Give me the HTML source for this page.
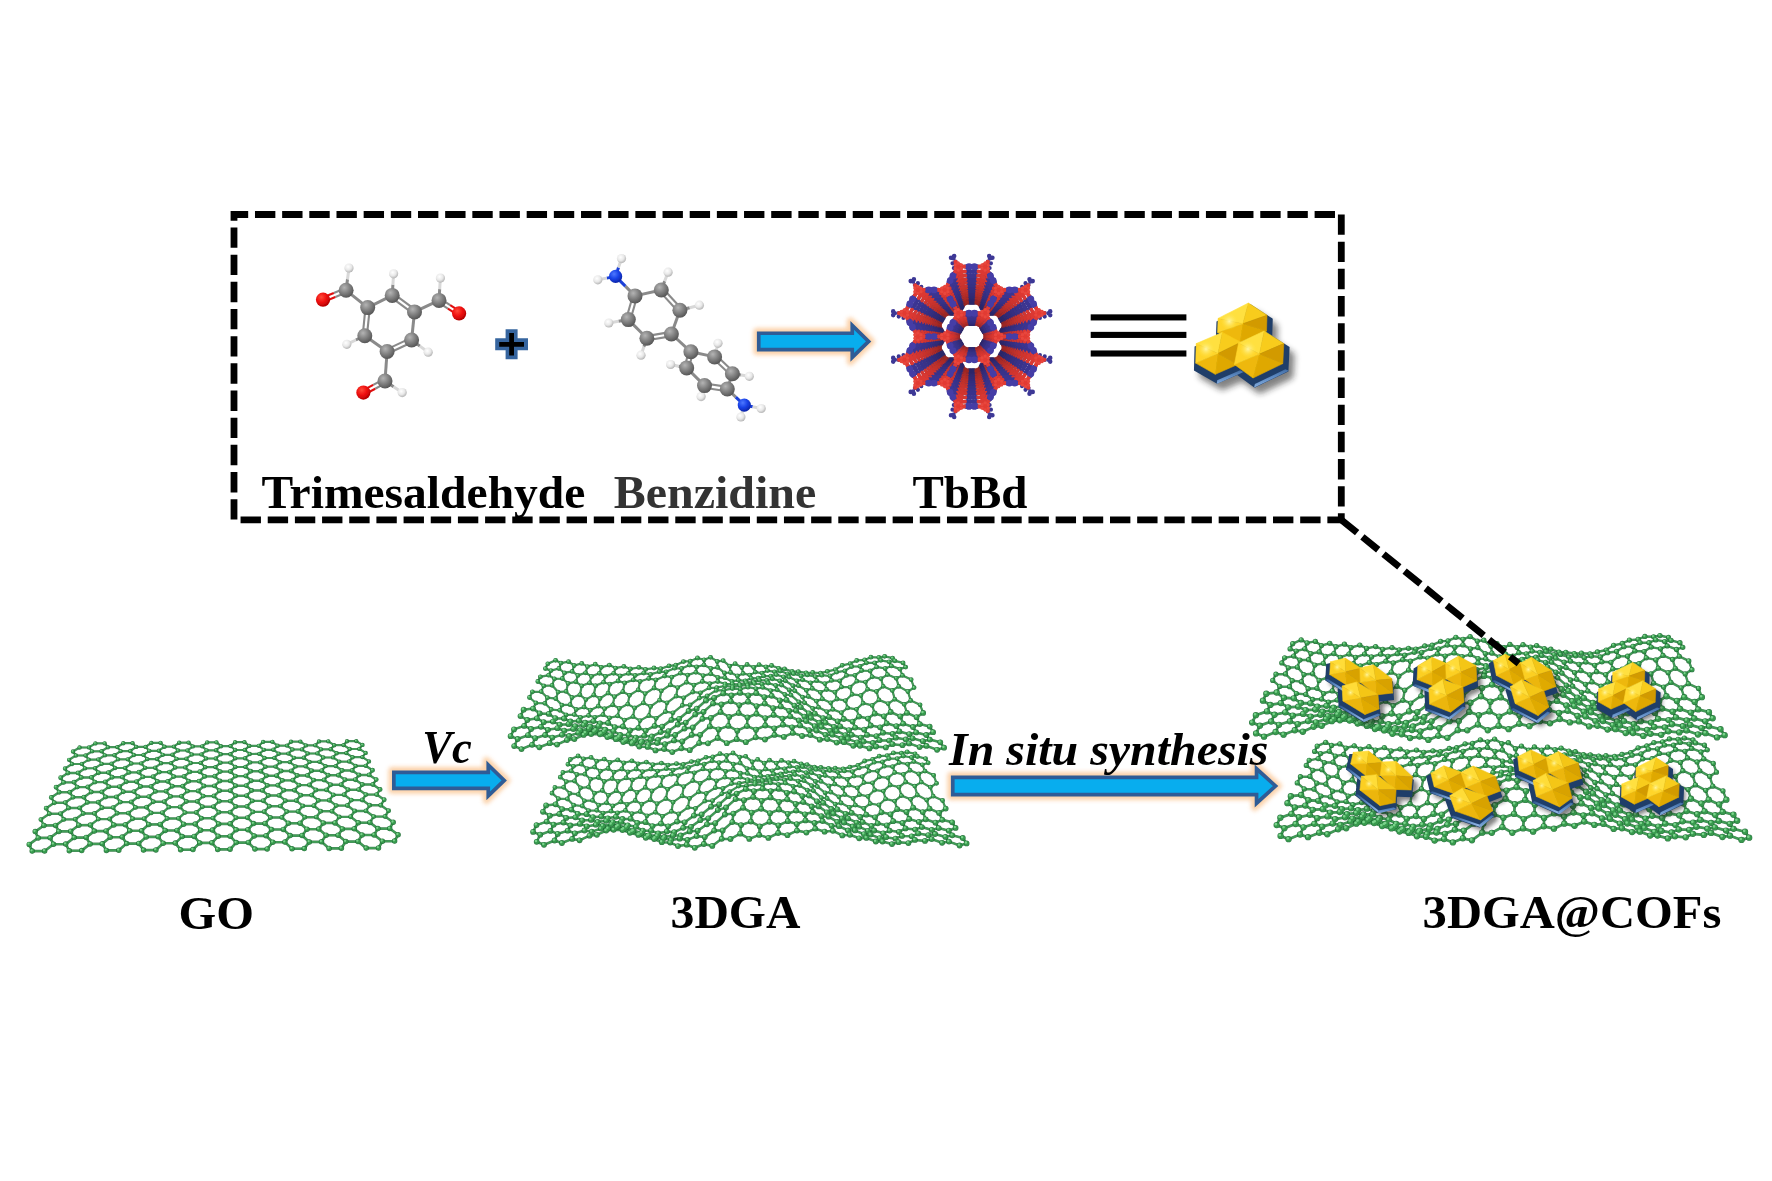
<!DOCTYPE html>
<html><head><meta charset="utf-8"><title>Scheme</title>
<style>html,body{margin:0;padding:0;background:#fff;overflow:hidden}svg{display:block}text{font-family:"Liberation Serif",serif}</style>
</head><body>
<svg width="1772" height="1181" viewBox="0 0 1772 1181">
<rect width="1772" height="1181" fill="#fff"/>
<defs>
<filter id="glow" x="-20%" y="-60%" width="140%" height="220%"><feGaussianBlur stdDeviation="2.2"/></filter>
<filter id="shadow" x="-30%" y="-30%" width="160%" height="160%"><feGaussianBlur stdDeviation="3"/></filter>
<filter id="shadow2" x="-30%" y="-30%" width="160%" height="160%"><feGaussianBlur stdDeviation="2.2"/></filter>
<filter id="soft" x="-5%" y="-5%" width="110%" height="110%"><feGaussianBlur stdDeviation="0.45"/></filter>
<filter id="soft2" x="-5%" y="-5%" width="110%" height="110%"><feGaussianBlur stdDeviation="0.6"/></filter>
<radialGradient id="gC" cx="0.38" cy="0.32" r="0.75"><stop offset="0" stop-color="#b4b4b4"/><stop offset="0.45" stop-color="#858585"/><stop offset="1" stop-color="#4e4e4e"/></radialGradient>
<radialGradient id="gO" cx="0.38" cy="0.32" r="0.75"><stop offset="0" stop-color="#ff4a3a"/><stop offset="0.5" stop-color="#ee0d0d"/><stop offset="1" stop-color="#a50000"/></radialGradient>
<radialGradient id="gN" cx="0.38" cy="0.32" r="0.75"><stop offset="0" stop-color="#4d78ff"/><stop offset="0.5" stop-color="#1841e6"/><stop offset="1" stop-color="#0a1f9c"/></radialGradient>
<radialGradient id="gH" cx="0.4" cy="0.35" r="0.75"><stop offset="0" stop-color="#ffffff"/><stop offset="0.5" stop-color="#e8e8e8"/><stop offset="1" stop-color="#a4a4a4"/></radialGradient>
</defs>
<path d="M756.90 331.40H850.40V321.10L871.30 341.40L850.40 361.70V351.40H756.90Z" fill="#fbcfa4" stroke="#fbcfa4" stroke-width="7" stroke-linejoin="round" filter="url(#glow)" opacity="0.95"/><path d="M758.75 333.25H852.25V325.48L868.64 341.40L852.25 357.32V349.55H758.75Z" fill="#08adee" stroke="#2f5c96" stroke-width="3.7" stroke-linejoin="miter"/><path d="M392.00 770.60H486.40V760.60L506.90 780.40L486.40 800.20V790.20H392.00Z" fill="#fbcfa4" stroke="#fbcfa4" stroke-width="7" stroke-linejoin="round" filter="url(#glow)" opacity="0.95"/><path d="M393.85 772.45H488.25V764.96L504.24 780.40L488.25 795.84V788.35H393.85Z" fill="#08adee" stroke="#2f5c96" stroke-width="3.7" stroke-linejoin="miter"/><path d="M950.90 775.50H1254.70V764.60L1278.30 786.00L1254.70 807.40V796.50H950.90Z" fill="#fbcfa4" stroke="#fbcfa4" stroke-width="7" stroke-linejoin="round" filter="url(#glow)" opacity="0.95"/><path d="M952.75 777.35H1256.55V768.77L1275.55 786.00L1256.55 803.23V794.65H952.75Z" fill="#08adee" stroke="#2f5c96" stroke-width="3.7" stroke-linejoin="miter"/>
<path d="M495.20000000000005 338.3H505.6V329.3H517.6V338.3H528.0V350.3H517.6V359.3H505.6V350.3H495.20000000000005Z" fill="#36659f"/><path d="M499.20000000000005 341.90000000000003H509.20000000000005V333.0H514.0V341.90000000000003H524.0V346.7H514.0V355.6H509.20000000000005V346.7H499.20000000000005Z" fill="#000"/><rect x="1090.7" y="314.35" width="95.7" height="6.1" fill="#000"/><rect x="1090.7" y="331.85" width="95.7" height="6.1" fill="#000"/><rect x="1090.7" y="350.45" width="95.7" height="6.1" fill="#000"/>
<defs>
<linearGradient id="gBase" x1="0" y1="0" x2="0" y2="1"><stop offset="0" stop-color="#1b3558"/><stop offset="0.7" stop-color="#234878"/><stop offset="1" stop-color="#3a68a4"/></linearGradient>
<radialGradient id="gHi" cx="0.5" cy="0.5" r="0.5"><stop offset="0" stop-color="#fff7a8" stop-opacity="0.95"/><stop offset="1" stop-color="#ffe23a" stop-opacity="0"/></radialGradient>
<linearGradient id="gStrip" x1="0" y1="0" x2="0.3" y2="1"><stop offset="0" stop-color="#2a5288"/><stop offset="0.55" stop-color="#5f8cc4"/><stop offset="1" stop-color="#8db4e2"/></linearGradient>
</defs>
<g transform="translate(7,12)" fill="#1a1a1a" stroke="#1a1a1a" stroke-width="7.4" stroke-linejoin="round" opacity="0.55" filter="url(#shadow)"><polygon points="1218.1,318.4 1248.4,303.0 1267.0,315.2 1266.5,331.0 1240.0,342.2 1217.6,332.4"/><polygon points="1196.2,343.6 1222.3,332.4 1240.9,342.2 1237.6,364.5 1215.3,374.3 1195.7,363.1"/><polygon points="1238.6,343.1 1264.2,331.0 1283.8,343.6 1282.8,363.6 1253.0,378.0 1234.4,364.5"/></g><g transform="translate(2.0,5.4)" fill="#1f3e69" stroke="#1f3e69" stroke-width="7.4" stroke-linejoin="miter"><polygon points="1218.1,318.4 1248.4,303.0 1267.0,315.2 1266.5,331.0 1240.0,342.2 1217.6,332.4"/><polygon points="1196.2,343.6 1222.3,332.4 1240.9,342.2 1237.6,364.5 1215.3,374.3 1195.7,363.1"/><polygon points="1238.6,343.1 1264.2,331.0 1283.8,343.6 1282.8,363.6 1253.0,378.0 1234.4,364.5"/></g><polygon points="1243.5,372.1 1216.7,384.1 1217.2,380.3 1240.1,370.2" fill="url(#gStrip)"/><polygon points="1288.9,370.7 1253.9,387.7 1254.9,384.0 1285.3,369.2" fill="url(#gStrip)"/><g filter="url(#soft2)"><polygon points="1218.1,318.4 1248.4,303.0 1242.9,323.7" fill="#ffe040" stroke="#ffe040" stroke-width="0.6"/><polygon points="1248.4,303.0 1267.0,315.2 1242.9,323.7" fill="#f8cc1c" stroke="#f8cc1c" stroke-width="0.6"/><polygon points="1267.0,315.2 1266.5,331.0 1242.9,323.7" fill="#d29a02" stroke="#d29a02" stroke-width="0.6"/><polygon points="1266.5,331.0 1240.0,342.2 1242.9,323.7" fill="#dfa803" stroke="#dfa803" stroke-width="0.6"/><polygon points="1240.0,342.2 1217.6,332.4 1242.9,323.7" fill="#eeb808" stroke="#eeb808" stroke-width="0.6"/><polygon points="1217.6,332.4 1218.1,318.4 1242.9,323.7" fill="#ffd52a" stroke="#ffd52a" stroke-width="0.6"/><circle cx="1229.3" cy="321.3" r="9" fill="url(#gHi)"/></g><g filter="url(#soft2)"><polygon points="1196.2,343.6 1222.3,332.4 1218.0,353.4" fill="#ffe040" stroke="#ffe040" stroke-width="0.6"/><polygon points="1222.3,332.4 1240.9,342.2 1218.0,353.4" fill="#f8cc1c" stroke="#f8cc1c" stroke-width="0.6"/><polygon points="1240.9,342.2 1237.6,364.5 1218.0,353.4" fill="#d29a02" stroke="#d29a02" stroke-width="0.6"/><polygon points="1237.6,364.5 1215.3,374.3 1218.0,353.4" fill="#dfa803" stroke="#dfa803" stroke-width="0.6"/><polygon points="1215.3,374.3 1195.7,363.1 1218.0,353.4" fill="#eeb808" stroke="#eeb808" stroke-width="0.6"/><polygon points="1195.7,363.1 1196.2,343.6 1218.0,353.4" fill="#ffd52a" stroke="#ffd52a" stroke-width="0.6"/><circle cx="1206.0" cy="349.0" r="9" fill="url(#gHi)"/></g><g filter="url(#soft2)"><polygon points="1238.6,343.1 1264.2,331.0 1259.5,354.0" fill="#ffe040" stroke="#ffe040" stroke-width="0.6"/><polygon points="1264.2,331.0 1283.8,343.6 1259.5,354.0" fill="#f8cc1c" stroke="#f8cc1c" stroke-width="0.6"/><polygon points="1283.8,343.6 1282.8,363.6 1259.5,354.0" fill="#d29a02" stroke="#d29a02" stroke-width="0.6"/><polygon points="1282.8,363.6 1253.0,378.0 1259.5,354.0" fill="#dfa803" stroke="#dfa803" stroke-width="0.6"/><polygon points="1253.0,378.0 1234.4,364.5 1259.5,354.0" fill="#eeb808" stroke="#eeb808" stroke-width="0.6"/><polygon points="1234.4,364.5 1238.6,343.1 1259.5,354.0" fill="#ffd52a" stroke="#ffd52a" stroke-width="0.6"/><circle cx="1248.0" cy="349.1" r="9" fill="url(#gHi)"/></g>
<g filter="url(#soft)"><line x1="390.9" y1="297.1" x2="413.2" y2="313.7" stroke="#8a8a8a" stroke-width="2.1"/><line x1="393.4" y1="293.6" x2="415.8" y2="310.2" stroke="#8a8a8a" stroke-width="2.1"/><line x1="414.5" y1="311.9" x2="411.6" y2="340.0" stroke="#8a8a8a" stroke-width="3.0"/><line x1="410.7" y1="338.1" x2="386.2" y2="349.6" stroke="#8a8a8a" stroke-width="2.1"/><line x1="412.5" y1="342.0" x2="388.0" y2="353.5" stroke="#8a8a8a" stroke-width="2.1"/><line x1="387.1" y1="351.5" x2="364.8" y2="335.7" stroke="#8a8a8a" stroke-width="3.0"/><line x1="366.9" y1="335.9" x2="369.8" y2="307.8" stroke="#8a8a8a" stroke-width="2.1"/><line x1="362.7" y1="335.5" x2="365.5" y2="307.4" stroke="#8a8a8a" stroke-width="2.1"/><line x1="367.7" y1="307.6" x2="392.2" y2="295.4" stroke="#8a8a8a" stroke-width="3.0"/><line x1="367.7" y1="307.6" x2="346.1" y2="290.3" stroke="#8a8a8a" stroke-width="3.0"/><line x1="414.5" y1="311.9" x2="439.0" y2="300.4" stroke="#8a8a8a" stroke-width="3.0"/><line x1="387.1" y1="351.5" x2="385.0" y2="381.0" stroke="#8a8a8a" stroke-width="3.0"/><line x1="345.3" y1="288.3" x2="333.8" y2="293.0" stroke="#8a8a8a" stroke-width="2.1"/><line x1="346.9" y1="292.3" x2="335.4" y2="297.0" stroke="#8a8a8a" stroke-width="2.1"/><line x1="333.8" y1="293.0" x2="322.2" y2="297.7" stroke="#e01010" stroke-width="2.1"/><line x1="335.4" y1="297.0" x2="323.9" y2="301.7" stroke="#e01010" stroke-width="2.1"/><line x1="437.8" y1="302.2" x2="447.9" y2="308.7" stroke="#8a8a8a" stroke-width="2.1"/><line x1="440.1" y1="298.6" x2="450.2" y2="305.1" stroke="#8a8a8a" stroke-width="2.1"/><line x1="447.9" y1="308.7" x2="458.0" y2="315.2" stroke="#e01010" stroke-width="2.1"/><line x1="450.2" y1="305.1" x2="460.3" y2="311.6" stroke="#e01010" stroke-width="2.1"/><line x1="384.0" y1="379.2" x2="373.2" y2="384.9" stroke="#8a8a8a" stroke-width="2.1"/><line x1="386.0" y1="382.9" x2="375.2" y2="388.7" stroke="#8a8a8a" stroke-width="2.1"/><line x1="373.2" y1="384.9" x2="362.4" y2="390.7" stroke="#e01010" stroke-width="2.1"/><line x1="375.2" y1="388.7" x2="364.4" y2="394.5" stroke="#e01010" stroke-width="2.1"/><line x1="346.1" y1="290.3" x2="347.5" y2="279.2" stroke="#8a8a8a" stroke-width="3.0"/><line x1="347.5" y1="279.2" x2="349.0" y2="268.0" stroke="#d8d8d8" stroke-width="3.0"/><line x1="439.0" y1="300.4" x2="439.7" y2="289.2" stroke="#8a8a8a" stroke-width="3.0"/><line x1="439.7" y1="289.2" x2="440.4" y2="278.1" stroke="#d8d8d8" stroke-width="3.0"/><line x1="385.0" y1="381.0" x2="393.6" y2="386.8" stroke="#8a8a8a" stroke-width="3.0"/><line x1="393.6" y1="386.8" x2="402.2" y2="392.6" stroke="#d8d8d8" stroke-width="3.0"/><line x1="392.2" y1="295.4" x2="392.9" y2="284.6" stroke="#8a8a8a" stroke-width="3.0"/><line x1="392.9" y1="284.6" x2="393.6" y2="273.8" stroke="#d8d8d8" stroke-width="3.0"/><line x1="411.6" y1="340.0" x2="419.9" y2="346.1" stroke="#8a8a8a" stroke-width="3.0"/><line x1="419.9" y1="346.1" x2="428.2" y2="352.2" stroke="#d8d8d8" stroke-width="3.0"/><line x1="364.8" y1="335.7" x2="355.8" y2="340.0" stroke="#8a8a8a" stroke-width="3.0"/><line x1="355.8" y1="340.0" x2="346.8" y2="344.3" stroke="#d8d8d8" stroke-width="3.0"/><circle cx="393.6" cy="273.8" r="4.6" fill="url(#gH)"/><circle cx="428.2" cy="352.2" r="4.6" fill="url(#gH)"/><circle cx="346.8" cy="344.3" r="4.6" fill="url(#gH)"/><circle cx="349.0" cy="268.0" r="4.6" fill="url(#gH)"/><circle cx="440.4" cy="278.1" r="4.6" fill="url(#gH)"/><circle cx="402.2" cy="392.6" r="4.6" fill="url(#gH)"/><circle cx="392.2" cy="295.4" r="7.5" fill="url(#gC)"/><circle cx="414.5" cy="311.9" r="7.5" fill="url(#gC)"/><circle cx="411.6" cy="340.0" r="7.5" fill="url(#gC)"/><circle cx="387.1" cy="351.5" r="7.5" fill="url(#gC)"/><circle cx="364.8" cy="335.7" r="7.5" fill="url(#gC)"/><circle cx="367.7" cy="307.6" r="7.5" fill="url(#gC)"/><circle cx="346.1" cy="290.3" r="7.5" fill="url(#gC)"/><circle cx="439.0" cy="300.4" r="7.5" fill="url(#gC)"/><circle cx="385.0" cy="381.0" r="7.5" fill="url(#gC)"/><circle cx="323.0" cy="299.7" r="7.1" fill="url(#gO)"/><circle cx="459.1" cy="313.4" r="7.1" fill="url(#gO)"/><circle cx="363.4" cy="392.6" r="7.1" fill="url(#gO)"/></g>
<g filter="url(#soft)"><line x1="635.0" y1="295.9" x2="661.3" y2="290.0" stroke="#8a8a8a" stroke-width="3.0"/><line x1="659.7" y1="291.4" x2="678.3" y2="311.7" stroke="#8a8a8a" stroke-width="2.1"/><line x1="662.9" y1="288.5" x2="681.5" y2="308.8" stroke="#8a8a8a" stroke-width="2.1"/><line x1="679.9" y1="310.3" x2="671.4" y2="334.0" stroke="#8a8a8a" stroke-width="3.0"/><line x1="671.1" y1="331.9" x2="646.5" y2="336.1" stroke="#8a8a8a" stroke-width="2.1"/><line x1="671.8" y1="336.1" x2="647.3" y2="340.3" stroke="#8a8a8a" stroke-width="2.1"/><line x1="646.9" y1="338.2" x2="628.3" y2="319.6" stroke="#8a8a8a" stroke-width="3.0"/><line x1="630.3" y1="320.2" x2="637.1" y2="296.5" stroke="#8a8a8a" stroke-width="2.1"/><line x1="626.2" y1="319.0" x2="633.0" y2="295.3" stroke="#8a8a8a" stroke-width="2.1"/><line x1="671.4" y1="334.0" x2="690.9" y2="351.8" stroke="#8a8a8a" stroke-width="3.0"/><line x1="690.9" y1="351.8" x2="714.6" y2="356.9" stroke="#8a8a8a" stroke-width="3.0"/><line x1="713.1" y1="358.4" x2="730.9" y2="375.3" stroke="#8a8a8a" stroke-width="2.1"/><line x1="716.1" y1="355.3" x2="733.9" y2="372.2" stroke="#8a8a8a" stroke-width="2.1"/><line x1="732.4" y1="373.8" x2="727.3" y2="389.0" stroke="#8a8a8a" stroke-width="3.0"/><line x1="727.6" y1="386.9" x2="704.8" y2="383.5" stroke="#8a8a8a" stroke-width="2.1"/><line x1="727.0" y1="391.2" x2="704.2" y2="387.8" stroke="#8a8a8a" stroke-width="2.1"/><line x1="704.5" y1="385.6" x2="686.7" y2="367.9" stroke="#8a8a8a" stroke-width="3.0"/><line x1="688.8" y1="368.4" x2="693.0" y2="352.3" stroke="#8a8a8a" stroke-width="2.1"/><line x1="684.6" y1="367.3" x2="688.8" y2="351.2" stroke="#8a8a8a" stroke-width="2.1"/><line x1="635.0" y1="295.9" x2="625.3" y2="286.1" stroke="#8a8a8a" stroke-width="3.0"/><line x1="625.3" y1="286.1" x2="615.6" y2="276.4" stroke="#1a3fd8" stroke-width="3.0"/><line x1="727.3" y1="389.0" x2="735.8" y2="397.1" stroke="#8a8a8a" stroke-width="3.0"/><line x1="735.8" y1="397.1" x2="744.3" y2="405.1" stroke="#1a3fd8" stroke-width="3.0"/><line x1="615.6" y1="276.4" x2="618.5" y2="267.5" stroke="#1a3fd8" stroke-width="3.0"/><line x1="618.5" y1="267.5" x2="621.5" y2="258.6" stroke="#d8d8d8" stroke-width="3.0"/><line x1="615.6" y1="276.4" x2="606.7" y2="278.1" stroke="#1a3fd8" stroke-width="3.0"/><line x1="606.7" y1="278.1" x2="597.8" y2="279.8" stroke="#d8d8d8" stroke-width="3.0"/><line x1="744.3" y1="405.1" x2="752.7" y2="406.8" stroke="#1a3fd8" stroke-width="3.0"/><line x1="752.7" y1="406.8" x2="761.2" y2="408.5" stroke="#d8d8d8" stroke-width="3.0"/><line x1="744.3" y1="405.1" x2="742.6" y2="411.0" stroke="#1a3fd8" stroke-width="3.0"/><line x1="742.6" y1="411.0" x2="740.9" y2="417.0" stroke="#d8d8d8" stroke-width="3.0"/><line x1="661.3" y1="290.0" x2="664.7" y2="281.1" stroke="#8a8a8a" stroke-width="3.0"/><line x1="664.7" y1="281.1" x2="668.1" y2="272.2" stroke="#d8d8d8" stroke-width="3.0"/><line x1="679.9" y1="310.3" x2="689.7" y2="307.7" stroke="#8a8a8a" stroke-width="3.0"/><line x1="689.7" y1="307.7" x2="699.4" y2="305.2" stroke="#d8d8d8" stroke-width="3.0"/><line x1="646.9" y1="338.2" x2="643.9" y2="346.7" stroke="#8a8a8a" stroke-width="3.0"/><line x1="643.9" y1="346.7" x2="641.0" y2="355.2" stroke="#d8d8d8" stroke-width="3.0"/><line x1="628.3" y1="319.6" x2="618.5" y2="321.3" stroke="#8a8a8a" stroke-width="3.0"/><line x1="618.5" y1="321.3" x2="608.8" y2="323.0" stroke="#d8d8d8" stroke-width="3.0"/><line x1="714.6" y1="356.9" x2="716.3" y2="350.1" stroke="#8a8a8a" stroke-width="3.0"/><line x1="716.3" y1="350.1" x2="718.0" y2="343.3" stroke="#d8d8d8" stroke-width="3.0"/><line x1="732.4" y1="373.8" x2="740.9" y2="375.1" stroke="#8a8a8a" stroke-width="3.0"/><line x1="740.9" y1="375.1" x2="749.3" y2="376.3" stroke="#d8d8d8" stroke-width="3.0"/><line x1="704.5" y1="385.6" x2="702.8" y2="391.1" stroke="#8a8a8a" stroke-width="3.0"/><line x1="702.8" y1="391.1" x2="701.1" y2="396.6" stroke="#d8d8d8" stroke-width="3.0"/><line x1="686.7" y1="367.9" x2="678.6" y2="366.2" stroke="#8a8a8a" stroke-width="3.0"/><line x1="678.6" y1="366.2" x2="670.6" y2="364.5" stroke="#d8d8d8" stroke-width="3.0"/><circle cx="621.5" cy="258.6" r="4.6" fill="url(#gH)"/><circle cx="597.8" cy="279.8" r="4.6" fill="url(#gH)"/><circle cx="668.1" cy="272.2" r="4.6" fill="url(#gH)"/><circle cx="699.4" cy="305.2" r="4.6" fill="url(#gH)"/><circle cx="641.0" cy="355.2" r="4.6" fill="url(#gH)"/><circle cx="608.8" cy="323.0" r="4.6" fill="url(#gH)"/><circle cx="761.2" cy="408.5" r="4.6" fill="url(#gH)"/><circle cx="740.9" cy="417.0" r="4.6" fill="url(#gH)"/><circle cx="718.0" cy="343.3" r="4.6" fill="url(#gH)"/><circle cx="749.3" cy="376.3" r="4.6" fill="url(#gH)"/><circle cx="701.1" cy="396.6" r="4.6" fill="url(#gH)"/><circle cx="670.6" cy="364.5" r="4.6" fill="url(#gH)"/><circle cx="635.0" cy="295.9" r="7.5" fill="url(#gC)"/><circle cx="661.3" cy="290.0" r="7.5" fill="url(#gC)"/><circle cx="679.9" cy="310.3" r="7.5" fill="url(#gC)"/><circle cx="671.4" cy="334.0" r="7.5" fill="url(#gC)"/><circle cx="646.9" cy="338.2" r="7.5" fill="url(#gC)"/><circle cx="628.3" cy="319.6" r="7.5" fill="url(#gC)"/><circle cx="690.9" cy="351.8" r="7.5" fill="url(#gC)"/><circle cx="714.6" cy="356.9" r="7.5" fill="url(#gC)"/><circle cx="732.4" cy="373.8" r="7.5" fill="url(#gC)"/><circle cx="727.3" cy="389.0" r="7.5" fill="url(#gC)"/><circle cx="704.5" cy="385.6" r="7.5" fill="url(#gC)"/><circle cx="686.7" cy="367.9" r="7.5" fill="url(#gC)"/><circle cx="615.6" cy="276.4" r="6.6" fill="url(#gN)"/><circle cx="744.3" cy="405.1" r="6.6" fill="url(#gN)"/></g>
<g filter="url(#soft2)">
<path d="M946.4 336.5L959.0 336.5M965.4 303.6L978.0 303.6M997.0 314.6L1003.3 325.5M984.4 314.6L997.0 314.6M959.0 314.6L965.4 303.6M984.4 336.5L997.0 336.5M959.0 358.4L965.4 369.4M946.4 314.6L959.0 314.6M997.0 336.5L1003.3 325.5M946.4 358.4L959.0 358.4M940.1 325.5L946.4 336.5M978.0 347.5L984.4 358.4M940.1 347.5L946.4 358.4M978.0 303.6L984.4 314.6M997.0 358.4L1003.3 347.5M959.0 314.6L965.4 325.5M978.0 369.4L984.4 358.4M978.0 325.5L984.4 314.6M997.0 336.5L1003.3 347.5M984.4 358.4L997.0 358.4M959.0 358.4L965.4 347.5M940.1 325.5L946.4 314.6M940.1 347.5L946.4 336.5M965.4 369.4L978.0 369.4" stroke="#3e214e" stroke-width="1.65" stroke-linecap="round" fill="none"/>
<path d="M950.6 336.5h0M952.0 336.5h0M953.5 336.5h0M954.9 336.5h0M969.5 303.6h0M970.9 303.6h0M972.5 303.6h0M973.9 303.6h0M999.1 318.2h0M999.8 319.4h0M1000.6 320.7h0M1001.3 321.9h0M988.5 314.6h0M989.9 314.6h0M991.4 314.6h0M992.8 314.6h0M961.1 311.0h0M961.8 309.8h0M962.6 308.4h0M963.3 307.2h0M988.5 336.5h0M989.9 336.5h0M991.4 336.5h0M992.8 336.5h0M961.1 362.0h0M961.8 363.2h0M962.6 364.6h0M963.3 365.8h0M950.6 314.6h0M952.0 314.6h0M953.5 314.6h0M954.9 314.6h0M999.1 332.9h0M999.8 331.7h0M1000.6 330.4h0M1001.3 329.2h0M950.6 358.4h0M952.0 358.4h0M953.5 358.4h0M954.9 358.4h0M942.1 329.2h0M942.8 330.4h0M943.6 331.7h0M944.3 332.9h0M980.1 351.1h0M980.8 352.3h0M981.6 353.6h0M982.3 354.8h0M942.1 351.1h0M942.8 352.3h0M943.6 353.6h0M944.3 354.8h0M980.1 307.2h0M980.8 308.4h0M981.6 309.8h0M982.3 311.0h0M999.1 354.8h0M999.8 353.6h0M1000.6 352.3h0M1001.3 351.1h0M961.1 318.2h0M961.8 319.4h0M962.6 320.7h0M963.3 321.9h0M980.1 365.8h0M980.8 364.6h0M981.6 363.2h0M982.3 362.0h0M980.1 321.9h0M980.8 320.7h0M981.6 319.4h0M982.3 318.2h0M999.1 340.1h0M999.8 341.3h0M1000.6 342.6h0M1001.3 343.8h0M988.5 358.4h0M989.9 358.4h0M991.4 358.4h0M992.8 358.4h0M961.1 354.8h0M961.8 353.6h0M962.6 352.3h0M963.3 351.1h0M942.1 321.9h0M942.8 320.7h0M943.6 319.4h0M944.3 318.2h0M942.1 343.8h0M942.8 342.6h0M943.6 341.3h0M944.3 340.1h0M969.5 369.4h0M970.9 369.4h0M972.5 369.4h0M973.9 369.4h0" stroke="#2a2669" stroke-width="2.53" stroke-linecap="round" fill="none"/>
<path d="M1007.9 325.5h0M1008.6 326.4h0M1008.6 324.7h0M999.3 310.6h0M1000.4 310.4h0M998.9 309.6h0M980.3 299.7h0M981.4 299.5h0M979.9 298.6h0M963.1 299.7h0M963.5 298.6h0M962.0 299.5h0M944.1 310.6h0M944.5 309.6h0M943.0 310.4h0M935.5 325.5h0M934.8 324.7h0M934.8 326.4h0M935.5 347.5h0M934.8 346.6h0M934.8 348.3h0M944.1 362.4h0M943.0 362.6h0M944.5 363.4h0M963.1 373.3h0M962.0 373.5h0M963.5 374.4h0M980.3 373.3h0M979.9 374.4h0M981.4 373.5h0M1007.9 347.5h0M1008.6 348.3h0M1008.6 346.6h0M999.3 362.4h0M998.9 363.4h0M1000.4 362.6h0" stroke="#2a2669" stroke-width="2.15" stroke-linecap="round" fill="none"/>
<path d="M948.0 336.5h0M949.3 336.5h0M956.1 336.5h0M957.4 336.5h0M967.0 303.6h0M968.3 303.6h0M975.1 303.6h0M976.4 303.6h0M997.8 316.0h0M998.5 317.1h0M1001.9 323.0h0M1002.5 324.1h0M986.0 314.6h0M987.3 314.6h0M994.1 314.6h0M995.4 314.6h0M959.9 313.1h0M960.5 312.1h0M963.9 306.1h0M964.5 305.0h0M986.0 336.5h0M987.3 336.5h0M994.1 336.5h0M995.4 336.5h0M959.9 359.9h0M960.5 360.9h0M963.9 366.9h0M964.5 368.0h0M948.0 314.6h0M949.3 314.6h0M956.1 314.6h0M957.4 314.6h0M997.8 335.1h0M998.5 334.0h0M1001.9 328.1h0M1002.5 327.0h0M948.0 358.4h0M949.3 358.4h0M956.1 358.4h0M957.4 358.4h0M940.9 327.0h0M941.5 328.1h0M944.9 334.0h0M945.6 335.1h0M978.9 348.9h0M979.5 350.0h0M982.9 355.9h0M983.5 357.0h0M940.9 348.9h0M941.5 350.0h0M944.9 355.9h0M945.6 357.0h0M978.9 305.0h0M979.5 306.1h0M982.9 312.1h0M983.5 313.1h0M997.8 357.0h0M998.5 355.9h0M1001.9 350.0h0M1002.5 348.9h0M959.9 316.0h0M960.5 317.1h0M963.9 323.0h0M964.5 324.1h0M978.9 368.0h0M979.5 366.9h0M982.9 360.9h0M983.5 359.9h0M978.9 324.1h0M979.5 323.0h0M982.9 317.1h0M983.5 316.0h0M997.8 337.9h0M998.5 339.0h0M1001.9 344.9h0M1002.5 346.0h0M986.0 358.4h0M987.3 358.4h0M994.1 358.4h0M995.4 358.4h0M959.9 357.0h0M960.5 355.9h0M963.9 350.0h0M964.5 348.9h0M940.9 324.1h0M941.5 323.0h0M944.9 317.1h0M945.6 316.0h0M940.9 346.0h0M941.5 344.9h0M944.9 339.0h0M945.6 337.9h0M967.0 369.4h0M968.3 369.4h0M975.1 369.4h0M976.4 369.4h0M1005.9 325.5h0M998.3 312.4h0M979.3 301.4h0M964.1 301.4h0M945.1 312.4h0M937.5 325.5h0M937.5 347.5h0M945.1 360.6h0M964.1 371.6h0M979.3 371.6h0M1005.9 347.5h0M998.3 360.6h0" stroke="#9e2823" stroke-width="2.03" stroke-linecap="round" fill="none"/>
<path d="M1003.3 325.5h0M997.0 314.6h0M984.4 314.6h0M997.0 336.5h0M978.0 303.6h0M965.4 303.6h0M959.0 314.6h0M946.4 314.6h0M940.1 325.5h0M946.4 336.5h0M940.1 347.5h0M946.4 358.4h0M959.0 358.4h0M984.4 358.4h0M965.4 369.4h0M978.0 369.4h0M1003.3 347.5h0M997.0 358.4h0" stroke="#9e2823" stroke-width="3.80" stroke-linecap="round" fill="none"/>
<path d="M945.5 336.5L958.6 336.5M965.1 302.4L978.3 302.4M997.9 313.8L1004.5 325.1M984.8 313.8L997.9 313.8M958.6 313.8L965.1 302.4M984.8 336.5L997.9 336.5M958.6 359.2L965.1 370.6M945.5 313.8L958.6 313.8M997.9 336.5L1004.5 325.1M945.5 359.2L958.6 359.2M938.9 325.1L945.5 336.5M978.3 347.9L984.8 359.2M938.9 347.9L945.5 359.2M978.3 302.4L984.8 313.8M997.9 359.2L1004.5 347.9M958.6 313.8L965.1 325.1M978.3 370.6L984.8 359.2M978.3 325.1L984.8 313.8M997.9 336.5L1004.5 347.9M984.8 359.2L997.9 359.2M958.6 359.2L965.1 347.9M938.9 325.1L945.5 313.8M938.9 347.9L945.5 336.5M965.1 370.6L978.3 370.6" stroke="#3e214e" stroke-width="1.71" stroke-linecap="round" fill="none"/>
<path d="M949.8 336.5h0M951.2 336.5h0M952.8 336.5h0M954.2 336.5h0M969.5 302.4h0M970.9 302.4h0M972.5 302.4h0M973.9 302.4h0M1000.1 317.5h0M1000.8 318.8h0M1001.6 320.1h0M1002.3 321.4h0M989.2 313.8h0M990.6 313.8h0M992.2 313.8h0M993.6 313.8h0M960.7 310.0h0M961.5 308.8h0M962.3 307.4h0M963.0 306.2h0M989.2 336.5h0M990.6 336.5h0M992.2 336.5h0M993.6 336.5h0M960.7 363.0h0M961.5 364.2h0M962.3 365.6h0M963.0 366.8h0M949.8 313.8h0M951.2 313.8h0M952.8 313.8h0M954.2 313.8h0M1000.1 332.8h0M1000.8 331.5h0M1001.6 330.1h0M1002.3 328.9h0M949.8 359.2h0M951.2 359.2h0M952.8 359.2h0M954.2 359.2h0M941.1 328.9h0M941.8 330.1h0M942.6 331.5h0M943.3 332.8h0M980.4 351.6h0M981.1 352.9h0M981.9 354.2h0M982.7 355.5h0M941.1 351.6h0M941.8 352.9h0M942.6 354.2h0M943.3 355.5h0M980.4 306.2h0M981.1 307.4h0M981.9 308.8h0M982.7 310.0h0M1000.1 355.5h0M1000.8 354.2h0M1001.6 352.9h0M1002.3 351.6h0M960.7 317.5h0M961.5 318.8h0M962.3 320.1h0M963.0 321.4h0M980.4 366.8h0M981.1 365.6h0M981.9 364.2h0M982.7 363.0h0M980.4 321.4h0M981.1 320.1h0M981.9 318.8h0M982.7 317.5h0M1000.1 340.2h0M1000.8 341.5h0M1001.6 342.9h0M1002.3 344.1h0M989.2 359.2h0M990.6 359.2h0M992.2 359.2h0M993.6 359.2h0M960.7 355.5h0M961.5 354.2h0M962.3 352.9h0M963.0 351.6h0M941.1 321.4h0M941.8 320.1h0M942.6 318.8h0M943.3 317.5h0M941.1 344.1h0M941.8 342.9h0M942.6 341.5h0M943.3 340.2h0M969.5 370.6h0M970.9 370.6h0M972.5 370.6h0M973.9 370.6h0" stroke="#2a2669" stroke-width="2.62" stroke-linecap="round" fill="none"/>
<path d="M1009.2 325.1h0M1010.0 326.0h0M1010.0 324.2h0M1000.3 309.7h0M1001.5 309.5h0M999.9 308.6h0M980.6 298.3h0M981.8 298.1h0M980.2 297.2h0M962.8 298.3h0M963.2 297.2h0M961.6 298.1h0M943.1 309.7h0M943.5 308.6h0M941.9 309.5h0M934.2 325.1h0M933.4 324.2h0M933.4 326.0h0M934.2 347.9h0M933.4 347.0h0M933.4 348.8h0M943.1 363.3h0M941.9 363.5h0M943.5 364.4h0M962.8 374.7h0M961.6 374.9h0M963.2 375.8h0M980.6 374.7h0M980.2 375.8h0M981.8 374.9h0M1009.2 347.9h0M1010.0 348.8h0M1010.0 347.0h0M1000.3 363.3h0M999.9 364.4h0M1001.5 363.5h0" stroke="#2a2669" stroke-width="2.23" stroke-linecap="round" fill="none"/>
<path d="M947.2 336.5h0M948.5 336.5h0M955.6 336.5h0M956.9 336.5h0M966.8 302.4h0M968.2 302.4h0M975.2 302.4h0M976.6 302.4h0M998.8 315.3h0M999.5 316.4h0M1003.0 322.5h0M1003.7 323.7h0M986.5 313.8h0M987.8 313.8h0M994.9 313.8h0M996.2 313.8h0M959.4 312.3h0M960.1 311.2h0M963.6 305.0h0M964.3 303.9h0M986.5 336.5h0M987.8 336.5h0M994.9 336.5h0M996.2 336.5h0M959.4 360.7h0M960.1 361.8h0M963.6 368.0h0M964.3 369.1h0M947.2 313.8h0M948.5 313.8h0M955.6 313.8h0M956.9 313.8h0M998.8 335.0h0M999.5 333.9h0M1003.0 327.8h0M1003.7 326.6h0M947.2 359.2h0M948.5 359.2h0M955.6 359.2h0M956.9 359.2h0M939.7 326.6h0M940.4 327.8h0M943.9 333.9h0M944.6 335.0h0M979.1 349.3h0M979.8 350.5h0M983.3 356.6h0M984.0 357.7h0M939.7 349.3h0M940.4 350.5h0M943.9 356.6h0M944.6 357.7h0M979.1 303.9h0M979.8 305.0h0M983.3 311.2h0M984.0 312.3h0M998.8 357.7h0M999.5 356.6h0M1003.0 350.5h0M1003.7 349.3h0M959.4 315.3h0M960.1 316.4h0M963.6 322.5h0M964.3 323.7h0M979.1 369.1h0M979.8 368.0h0M983.3 361.8h0M984.0 360.7h0M979.1 323.7h0M979.8 322.5h0M983.3 316.4h0M984.0 315.3h0M998.8 338.0h0M999.5 339.1h0M1003.0 345.2h0M1003.7 346.4h0M986.5 359.2h0M987.8 359.2h0M994.9 359.2h0M996.2 359.2h0M959.4 357.7h0M960.1 356.6h0M963.6 350.5h0M964.3 349.3h0M939.7 323.7h0M940.4 322.5h0M943.9 316.4h0M944.6 315.3h0M939.7 346.4h0M940.4 345.2h0M943.9 339.1h0M944.6 338.0h0M966.8 370.6h0M968.2 370.6h0M975.2 370.6h0M976.6 370.6h0M1007.1 325.1h0M999.3 311.5h0M979.6 300.1h0M963.8 300.1h0M944.1 311.5h0M936.3 325.1h0M936.3 347.9h0M944.1 361.5h0M963.8 372.9h0M979.6 372.9h0M1007.1 347.9h0M999.3 361.5h0" stroke="#9e2823" stroke-width="2.10" stroke-linecap="round" fill="none"/>
<path d="M1004.5 325.1h0M997.9 313.8h0M984.8 313.8h0M997.9 336.5h0M978.3 302.4h0M965.1 302.4h0M958.6 313.8h0M945.5 313.8h0M938.9 325.1h0M945.5 336.5h0M938.9 347.9h0M945.5 359.2h0M958.6 359.2h0M984.8 359.2h0M965.1 370.6h0M978.3 370.6h0M1004.5 347.9h0M997.9 359.2h0" stroke="#9e2823" stroke-width="3.94" stroke-linecap="round" fill="none"/>
<path d="M958.1 336.5L964.9 348.3M944.5 336.5L958.1 336.5M964.9 301.1L978.5 301.1M998.9 312.9L1005.8 324.7M985.3 312.9L998.9 312.9M958.1 312.9L964.9 301.1M985.3 336.5L998.9 336.5M958.1 360.1L964.9 371.9M944.5 312.9L958.1 312.9M964.9 348.3L978.5 348.3M998.9 336.5L1005.8 324.7M978.5 324.7L985.3 336.5M964.9 324.7L978.5 324.7M944.5 360.1L958.1 360.1M958.1 336.5L964.9 324.7M937.6 324.7L944.5 336.5M978.5 348.3L985.3 360.1M937.6 348.3L944.5 360.1M978.5 301.1L985.3 312.9M998.9 360.1L1005.8 348.3M958.1 312.9L964.9 324.7M978.5 371.9L985.3 360.1M978.5 324.7L985.3 312.9M998.9 336.5L1005.8 348.3M985.3 360.1L998.9 360.1M958.1 360.1L964.9 348.3M978.5 348.3L985.3 336.5M937.6 324.7L944.5 312.9M937.6 348.3L944.5 336.5M964.9 371.9L978.5 371.9" stroke="#3e214e" stroke-width="1.77" stroke-linecap="round" fill="none"/>
<path d="M960.3 340.4h0M961.1 341.7h0M961.9 343.1h0M962.6 344.4h0M949.0 336.5h0M950.5 336.5h0M952.1 336.5h0M953.6 336.5h0M969.4 301.1h0M970.9 301.1h0M972.5 301.1h0M974.0 301.1h0M1001.2 316.8h0M1001.9 318.1h0M1002.8 319.5h0M1003.5 320.8h0M989.8 312.9h0M991.3 312.9h0M992.9 312.9h0M994.4 312.9h0M960.3 309.0h0M961.1 307.7h0M961.9 306.3h0M962.6 305.0h0M989.8 336.5h0M991.3 336.5h0M992.9 336.5h0M994.4 336.5h0M960.3 364.0h0M961.1 365.3h0M961.9 366.7h0M962.6 368.0h0M949.0 312.9h0M950.5 312.9h0M952.1 312.9h0M953.6 312.9h0M969.4 348.3h0M970.9 348.3h0M972.5 348.3h0M974.0 348.3h0M1001.2 332.6h0M1001.9 331.3h0M1002.8 329.9h0M1003.5 328.6h0M980.8 328.6h0M981.5 329.9h0M982.3 331.3h0M983.1 332.6h0M969.4 324.7h0M970.9 324.7h0M972.5 324.7h0M974.0 324.7h0M949.0 360.1h0M950.5 360.1h0M952.1 360.1h0M953.6 360.1h0M960.3 332.6h0M961.1 331.3h0M961.9 329.9h0M962.6 328.6h0M939.9 328.6h0M940.6 329.9h0M941.5 331.3h0M942.2 332.6h0M980.8 352.2h0M981.5 353.5h0M982.3 354.9h0M983.1 356.2h0M939.9 352.2h0M940.6 353.5h0M941.5 354.9h0M942.2 356.2h0M980.8 305.0h0M981.5 306.3h0M982.3 307.7h0M983.1 309.0h0M1001.2 356.2h0M1001.9 354.9h0M1002.8 353.5h0M1003.5 352.2h0M960.3 316.8h0M961.1 318.1h0M961.9 319.5h0M962.6 320.8h0M980.8 368.0h0M981.5 366.7h0M982.3 365.3h0M983.1 364.0h0M980.8 320.8h0M981.5 319.5h0M982.3 318.1h0M983.1 316.8h0M1001.2 340.4h0M1001.9 341.7h0M1002.8 343.1h0M1003.5 344.4h0M989.8 360.1h0M991.3 360.1h0M992.9 360.1h0M994.4 360.1h0M960.3 356.2h0M961.1 354.9h0M961.9 353.5h0M962.6 352.2h0M980.8 344.4h0M981.5 343.1h0M982.3 341.7h0M983.1 340.4h0M939.9 320.8h0M940.6 319.5h0M941.5 318.1h0M942.2 316.8h0M939.9 344.4h0M940.6 343.1h0M941.5 341.7h0M942.2 340.4h0M969.4 371.9h0M970.9 371.9h0M972.5 371.9h0M974.0 371.9h0" stroke="#2a2669" stroke-width="2.72" stroke-linecap="round" fill="none"/>
<path d="M1010.7 324.7h0M1011.4 325.6h0M1011.4 323.8h0M1001.4 308.7h0M1002.6 308.5h0M1001.0 307.5h0M981.0 296.9h0M982.2 296.7h0M980.5 295.7h0M962.4 296.9h0M962.9 295.7h0M961.2 296.7h0M942.0 308.7h0M942.4 307.5h0M940.8 308.5h0M932.7 324.7h0M932.0 323.8h0M932.0 325.6h0M932.7 348.3h0M932.0 347.4h0M932.0 349.2h0M942.0 364.3h0M940.8 364.5h0M942.4 365.5h0M962.4 376.1h0M961.2 376.3h0M962.9 377.3h0M981.0 376.1h0M980.5 377.3h0M982.2 376.3h0M1010.7 348.3h0M1011.4 349.2h0M1011.4 347.4h0M1001.4 364.3h0M1001.0 365.5h0M1002.6 364.5h0" stroke="#2a2669" stroke-width="2.32" stroke-linecap="round" fill="none"/>
<path d="M959.0 338.0h0M959.6 339.2h0M963.3 345.6h0M964.0 346.8h0M946.2 336.5h0M947.6 336.5h0M954.9 336.5h0M956.3 336.5h0M966.7 301.1h0M968.0 301.1h0M975.4 301.1h0M976.7 301.1h0M999.8 314.4h0M1000.5 315.6h0M1004.2 322.0h0M1004.9 323.2h0M987.1 312.9h0M988.5 312.9h0M995.8 312.9h0M997.2 312.9h0M959.0 311.4h0M959.6 310.2h0M963.3 303.8h0M964.0 302.6h0M987.1 336.5h0M988.5 336.5h0M995.8 336.5h0M997.2 336.5h0M959.0 361.6h0M959.6 362.8h0M963.3 369.2h0M964.0 370.4h0M946.2 312.9h0M947.6 312.9h0M954.9 312.9h0M956.3 312.9h0M966.7 348.3h0M968.0 348.3h0M975.4 348.3h0M976.7 348.3h0M999.8 335.0h0M1000.5 333.8h0M1004.2 327.4h0M1004.9 326.2h0M979.4 326.2h0M980.1 327.4h0M983.8 333.8h0M984.4 335.0h0M966.7 324.7h0M968.0 324.7h0M975.4 324.7h0M976.7 324.7h0M946.2 360.1h0M947.6 360.1h0M954.9 360.1h0M956.3 360.1h0M959.0 335.0h0M959.6 333.8h0M963.3 327.4h0M964.0 326.2h0M938.5 326.2h0M939.2 327.4h0M942.9 333.8h0M943.6 335.0h0M979.4 349.8h0M980.1 351.0h0M983.8 357.4h0M984.4 358.6h0M938.5 349.8h0M939.2 351.0h0M942.9 357.4h0M943.6 358.6h0M979.4 302.6h0M980.1 303.8h0M983.8 310.2h0M984.4 311.4h0M999.8 358.6h0M1000.5 357.4h0M1004.2 351.0h0M1004.9 349.8h0M959.0 314.4h0M959.6 315.6h0M963.3 322.0h0M964.0 323.2h0M979.4 370.4h0M980.1 369.2h0M983.8 362.8h0M984.4 361.6h0M979.4 323.2h0M980.1 322.0h0M983.8 315.6h0M984.4 314.4h0M999.8 338.0h0M1000.5 339.2h0M1004.2 345.6h0M1004.9 346.8h0M987.1 360.1h0M988.5 360.1h0M995.8 360.1h0M997.2 360.1h0M959.0 358.6h0M959.6 357.4h0M963.3 351.0h0M964.0 349.8h0M979.4 346.8h0M980.1 345.6h0M983.8 339.2h0M984.4 338.0h0M938.5 323.2h0M939.2 322.0h0M942.9 315.6h0M943.6 314.4h0M938.5 346.8h0M939.2 345.6h0M942.9 339.2h0M943.6 338.0h0M966.7 371.9h0M968.0 371.9h0M975.4 371.9h0M976.7 371.9h0M1008.5 324.7h0M1000.3 310.6h0M979.9 298.8h0M963.5 298.8h0M943.1 310.6h0M934.9 324.7h0M934.9 348.3h0M943.1 362.4h0M963.5 374.2h0M979.9 374.2h0M1008.5 348.3h0M1000.3 362.4h0" stroke="#9e2823" stroke-width="2.18" stroke-linecap="round" fill="none"/>
<path d="M985.3 336.5h0M978.5 324.7h0M964.9 324.7h0M958.1 336.5h0M964.9 348.3h0M978.5 348.3h0M1005.8 324.7h0M998.9 312.9h0M985.3 312.9h0M998.9 336.5h0M978.5 301.1h0M964.9 301.1h0M958.1 312.9h0M944.5 312.9h0M937.6 324.7h0M944.5 336.5h0M937.6 348.3h0M944.5 360.1h0M958.1 360.1h0M985.3 360.1h0M964.9 371.9h0M978.5 371.9h0M1005.8 348.3h0M998.9 360.1h0" stroke="#9e2823" stroke-width="4.09" stroke-linecap="round" fill="none"/>
<path d="M957.5 336.5L964.6 348.8M943.4 336.5L957.5 336.5M964.6 299.7L978.8 299.7M1000.0 312.0L1007.1 324.2M985.9 312.0L1000.0 312.0M957.5 312.0L964.6 299.7M985.9 336.5L1000.0 336.5M957.5 361.0L964.6 373.3M943.4 312.0L957.5 312.0M964.6 348.8L978.8 348.8M1000.0 336.5L1007.1 324.2M978.8 324.2L985.9 336.5M964.6 324.2L978.8 324.2M943.4 361.0L957.5 361.0M957.5 336.5L964.6 324.2M936.3 324.2L943.4 336.5M978.8 348.8L985.9 361.0M936.3 348.8L943.4 361.0M978.8 299.7L985.9 312.0M1000.0 361.0L1007.1 348.8M957.5 312.0L964.6 324.2M978.8 373.3L985.9 361.0M978.8 324.2L985.9 312.0M1000.0 336.5L1007.1 348.8M985.9 361.0L1000.0 361.0M957.5 361.0L964.6 348.8M978.8 348.8L985.9 336.5M936.3 324.2L943.4 312.0M936.3 348.8L943.4 336.5M964.6 373.3L978.8 373.3" stroke="#412250" stroke-width="1.84" stroke-linecap="round" fill="none"/>
<path d="M959.9 340.5h0M960.7 341.9h0M961.5 343.4h0M962.3 344.7h0M948.1 336.5h0M949.6 336.5h0M951.3 336.5h0M952.9 336.5h0M969.3 299.7h0M970.9 299.7h0M972.5 299.7h0M974.1 299.7h0M1002.4 316.0h0M1003.1 317.4h0M1004.0 318.8h0M1004.8 320.2h0M990.5 312.0h0M992.1 312.0h0M993.8 312.0h0M995.3 312.0h0M959.9 307.9h0M960.7 306.6h0M961.5 305.1h0M962.3 303.8h0M990.5 336.5h0M992.1 336.5h0M993.8 336.5h0M995.3 336.5h0M959.9 365.1h0M960.7 366.4h0M961.5 367.9h0M962.3 369.2h0M948.1 312.0h0M949.6 312.0h0M951.3 312.0h0M952.9 312.0h0M969.3 348.8h0M970.9 348.8h0M972.5 348.8h0M974.1 348.8h0M1002.4 332.5h0M1003.1 331.1h0M1004.0 329.6h0M1004.8 328.3h0M981.1 328.3h0M981.9 329.6h0M982.7 331.1h0M983.5 332.5h0M969.3 324.2h0M970.9 324.2h0M972.5 324.2h0M974.1 324.2h0M948.1 361.0h0M949.6 361.0h0M951.3 361.0h0M952.9 361.0h0M959.9 332.5h0M960.7 331.1h0M961.5 329.6h0M962.3 328.3h0M938.6 328.3h0M939.4 329.6h0M940.3 331.1h0M941.0 332.5h0M981.1 352.8h0M981.9 354.2h0M982.7 355.6h0M983.5 357.0h0M938.6 352.8h0M939.4 354.2h0M940.3 355.6h0M941.0 357.0h0M981.1 303.8h0M981.9 305.1h0M982.7 306.6h0M983.5 307.9h0M1002.4 357.0h0M1003.1 355.6h0M1004.0 354.2h0M1004.8 352.8h0M959.9 316.0h0M960.7 317.4h0M961.5 318.8h0M962.3 320.2h0M981.1 369.2h0M981.9 367.9h0M982.7 366.4h0M983.5 365.1h0M981.1 320.2h0M981.9 318.8h0M982.7 317.4h0M983.5 316.0h0M1002.4 340.5h0M1003.1 341.9h0M1004.0 343.4h0M1004.8 344.7h0M990.5 361.0h0M992.1 361.0h0M993.8 361.0h0M995.3 361.0h0M959.9 357.0h0M960.7 355.6h0M961.5 354.2h0M962.3 352.8h0M981.1 344.7h0M981.9 343.4h0M982.7 341.9h0M983.5 340.5h0M938.6 320.2h0M939.4 318.8h0M940.3 317.4h0M941.0 316.0h0M938.6 344.7h0M939.4 343.4h0M940.3 341.9h0M941.0 340.5h0M969.3 373.3h0M970.9 373.3h0M972.5 373.3h0M974.1 373.3h0" stroke="#2c276c" stroke-width="2.83" stroke-linecap="round" fill="none"/>
<path d="M1012.2 324.2h0M1013.0 325.2h0M1013.0 323.3h0M1002.6 307.6h0M1003.8 307.3h0M1002.1 306.4h0M981.3 295.3h0M982.6 295.1h0M980.9 294.1h0M962.1 295.3h0M962.5 294.1h0M960.8 295.1h0M940.8 307.6h0M941.3 306.4h0M939.6 307.3h0M931.2 324.2h0M930.4 323.3h0M930.4 325.2h0M931.2 348.8h0M930.4 347.8h0M930.4 349.7h0M940.8 365.4h0M939.6 365.7h0M941.3 366.6h0M962.1 377.7h0M960.8 377.9h0M962.5 378.9h0M981.3 377.7h0M980.9 378.9h0M982.6 377.9h0M1012.2 348.8h0M1013.0 349.7h0M1013.0 347.8h0M1002.6 365.4h0M1002.1 366.6h0M1003.8 365.7h0" stroke="#2c276c" stroke-width="2.41" stroke-linecap="round" fill="none"/>
<path d="M958.5 338.1h0M959.2 339.3h0M963.0 345.9h0M963.7 347.2h0M945.2 336.5h0M946.6 336.5h0M954.3 336.5h0M955.7 336.5h0M966.5 299.7h0M967.9 299.7h0M975.5 299.7h0M976.9 299.7h0M1000.9 313.6h0M1001.6 314.8h0M1005.5 321.4h0M1006.2 322.6h0M987.7 312.0h0M989.1 312.0h0M996.8 312.0h0M998.2 312.0h0M958.5 310.4h0M959.2 309.2h0M963.0 302.5h0M963.7 301.3h0M987.7 336.5h0M989.1 336.5h0M996.8 336.5h0M998.2 336.5h0M958.5 362.6h0M959.2 363.8h0M963.0 370.5h0M963.7 371.7h0M945.2 312.0h0M946.6 312.0h0M954.3 312.0h0M955.7 312.0h0M966.5 348.8h0M967.9 348.8h0M975.5 348.8h0M976.9 348.8h0M1000.9 334.9h0M1001.6 333.7h0M1005.5 327.1h0M1006.2 325.8h0M979.7 325.8h0M980.4 327.1h0M984.2 333.7h0M984.9 334.9h0M966.5 324.2h0M967.9 324.2h0M975.5 324.2h0M976.9 324.2h0M945.2 361.0h0M946.6 361.0h0M954.3 361.0h0M955.7 361.0h0M958.5 334.9h0M959.2 333.7h0M963.0 327.1h0M963.7 325.8h0M937.2 325.8h0M937.9 327.1h0M941.8 333.7h0M942.5 334.9h0M979.7 350.4h0M980.4 351.6h0M984.2 358.2h0M984.9 359.4h0M937.2 350.4h0M937.9 351.6h0M941.8 358.2h0M942.5 359.4h0M979.7 301.3h0M980.4 302.5h0M984.2 309.2h0M984.9 310.4h0M1000.9 359.4h0M1001.6 358.2h0M1005.5 351.6h0M1006.2 350.4h0M958.5 313.6h0M959.2 314.8h0M963.0 321.4h0M963.7 322.6h0M979.7 371.7h0M980.4 370.5h0M984.2 363.8h0M984.9 362.6h0M979.7 322.6h0M980.4 321.4h0M984.2 314.8h0M984.9 313.6h0M1000.9 338.1h0M1001.6 339.3h0M1005.5 345.9h0M1006.2 347.2h0M987.7 361.0h0M989.1 361.0h0M996.8 361.0h0M998.2 361.0h0M958.5 359.4h0M959.2 358.2h0M963.0 351.6h0M963.7 350.4h0M979.7 347.2h0M980.4 345.9h0M984.2 339.3h0M984.9 338.1h0M937.2 322.6h0M937.9 321.4h0M941.8 314.8h0M942.5 313.6h0M937.2 347.2h0M937.9 345.9h0M941.8 339.3h0M942.5 338.1h0M966.5 373.3h0M967.9 373.3h0M975.5 373.3h0M976.9 373.3h0M1009.9 324.2h0M1001.4 309.5h0M980.2 297.3h0M963.2 297.3h0M942.0 309.5h0M933.5 324.2h0M933.5 348.8h0M942.0 363.5h0M963.2 375.7h0M980.2 375.7h0M1009.9 348.8h0M1001.4 363.5h0" stroke="#a32924" stroke-width="2.27" stroke-linecap="round" fill="none"/>
<path d="M985.9 336.5h0M978.8 324.2h0M964.6 324.2h0M957.5 336.5h0M964.6 348.8h0M978.8 348.8h0M1007.1 324.2h0M1000.0 312.0h0M985.9 312.0h0M1000.0 336.5h0M978.8 299.7h0M964.6 299.7h0M957.5 312.0h0M943.4 312.0h0M936.3 324.2h0M943.4 336.5h0M936.3 348.8h0M943.4 361.0h0M957.5 361.0h0M985.9 361.0h0M964.6 373.3h0M978.8 373.3h0M1007.1 348.8h0M1000.0 361.0h0" stroke="#a32924" stroke-width="4.25" stroke-linecap="round" fill="none"/>
<path d="M957.0 336.5L964.3 349.3M942.2 336.5L957.0 336.5M964.3 298.2L979.1 298.2M1001.2 311.0L1008.5 323.7M986.4 311.0L1001.2 311.0M957.0 311.0L964.3 298.2M986.4 336.5L1001.2 336.5M957.0 362.0L964.3 374.8M942.2 311.0L957.0 311.0M964.3 349.3L979.1 349.3M1001.2 336.5L1008.5 323.7M979.1 323.7L986.4 336.5M964.3 323.7L979.1 323.7M942.2 362.0L957.0 362.0M957.0 336.5L964.3 323.7M934.9 323.7L942.2 336.5M979.1 349.3L986.4 362.0M934.9 349.3L942.2 362.0M979.1 298.2L986.4 311.0M1001.2 362.0L1008.5 349.3M957.0 311.0L964.3 323.7M979.1 374.8L986.4 362.0M979.1 323.7L986.4 311.0M1001.2 336.5L1008.5 349.3M986.4 362.0L1001.2 362.0M957.0 362.0L964.3 349.3M979.1 349.3L986.4 336.5M934.9 323.7L942.2 311.0M934.9 349.3L942.2 336.5M964.3 374.8L979.1 374.8" stroke="#432353" stroke-width="1.92" stroke-linecap="round" fill="none"/>
<path d="M959.4 340.7h0M960.2 342.1h0M961.1 343.6h0M961.9 345.1h0M947.1 336.5h0M948.7 336.5h0M950.5 336.5h0M952.1 336.5h0M969.2 298.2h0M970.8 298.2h0M972.6 298.2h0M974.2 298.2h0M1003.6 315.2h0M1004.4 316.6h0M1005.3 318.1h0M1006.1 319.5h0M991.3 311.0h0M992.9 311.0h0M994.7 311.0h0M996.3 311.0h0M959.4 306.8h0M960.2 305.4h0M961.1 303.8h0M961.9 302.4h0M991.3 336.5h0M992.9 336.5h0M994.7 336.5h0M996.3 336.5h0M959.4 366.2h0M960.2 367.6h0M961.1 369.2h0M961.9 370.6h0M947.1 311.0h0M948.7 311.0h0M950.5 311.0h0M952.1 311.0h0M969.2 349.3h0M970.8 349.3h0M972.6 349.3h0M974.2 349.3h0M1003.6 332.3h0M1004.4 330.9h0M1005.3 329.4h0M1006.1 327.9h0M981.5 327.9h0M982.3 329.4h0M983.2 330.9h0M984.0 332.3h0M969.2 323.7h0M970.8 323.7h0M972.6 323.7h0M974.2 323.7h0M947.1 362.0h0M948.7 362.0h0M950.5 362.0h0M952.1 362.0h0M959.4 332.3h0M960.2 330.9h0M961.1 329.4h0M961.9 327.9h0M937.3 327.9h0M938.1 329.4h0M939.0 330.9h0M939.8 332.3h0M981.5 353.5h0M982.3 354.9h0M983.2 356.4h0M984.0 357.8h0M937.3 353.5h0M938.1 354.9h0M939.0 356.4h0M939.8 357.8h0M981.5 302.4h0M982.3 303.8h0M983.2 305.4h0M984.0 306.8h0M1003.6 357.8h0M1004.4 356.4h0M1005.3 354.9h0M1006.1 353.5h0M959.4 315.2h0M960.2 316.6h0M961.1 318.1h0M961.9 319.5h0M981.5 370.6h0M982.3 369.2h0M983.2 367.6h0M984.0 366.2h0M981.5 319.5h0M982.3 318.1h0M983.2 316.6h0M984.0 315.2h0M1003.6 340.7h0M1004.4 342.1h0M1005.3 343.6h0M1006.1 345.1h0M991.3 362.0h0M992.9 362.0h0M994.7 362.0h0M996.3 362.0h0M959.4 357.8h0M960.2 356.4h0M961.1 354.9h0M961.9 353.5h0M981.5 345.1h0M982.3 343.6h0M983.2 342.1h0M984.0 340.7h0M937.3 319.5h0M938.1 318.1h0M939.0 316.6h0M939.8 315.2h0M937.3 345.1h0M938.1 343.6h0M939.0 342.1h0M939.8 340.7h0M969.2 374.8h0M970.8 374.8h0M972.6 374.8h0M974.2 374.8h0" stroke="#2d296f" stroke-width="2.95" stroke-linecap="round" fill="none"/>
<path d="M1013.9 323.7h0M1014.7 324.8h0M1014.7 322.7h0M1003.8 306.4h0M1005.1 306.1h0M1003.4 305.1h0M981.7 293.6h0M983.0 293.4h0M981.3 292.4h0M961.7 293.6h0M962.1 292.4h0M960.4 293.4h0M939.6 306.4h0M940.0 305.1h0M938.3 306.1h0M929.5 323.7h0M928.7 322.7h0M928.7 324.8h0M929.5 349.3h0M928.7 348.2h0M928.7 350.3h0M939.6 366.6h0M938.3 366.9h0M940.0 367.9h0M961.7 379.4h0M960.4 379.6h0M962.1 380.6h0M981.7 379.4h0M981.3 380.6h0M983.0 379.6h0M1013.9 349.3h0M1014.7 350.3h0M1014.7 348.2h0M1003.8 366.6h0M1003.4 367.9h0M1005.1 366.9h0" stroke="#2d296f" stroke-width="2.51" stroke-linecap="round" fill="none"/>
<path d="M957.9 338.2h0M958.7 339.4h0M962.6 346.3h0M963.4 347.6h0M944.1 336.5h0M945.6 336.5h0M953.6 336.5h0M955.0 336.5h0M966.2 298.2h0M967.7 298.2h0M975.7 298.2h0M977.2 298.2h0M1002.1 312.6h0M1002.9 313.9h0M1006.9 320.8h0M1007.6 322.1h0M988.4 311.0h0M989.8 311.0h0M997.8 311.0h0M999.3 311.0h0M957.9 309.3h0M958.7 308.0h0M962.6 301.1h0M963.4 299.9h0M988.4 336.5h0M989.8 336.5h0M997.8 336.5h0M999.3 336.5h0M957.9 363.7h0M958.7 365.0h0M962.6 371.9h0M963.4 373.1h0M944.1 311.0h0M945.6 311.0h0M953.6 311.0h0M955.0 311.0h0M966.2 349.3h0M967.7 349.3h0M975.7 349.3h0M977.2 349.3h0M1002.1 334.8h0M1002.9 333.6h0M1006.9 326.7h0M1007.6 325.4h0M980.0 325.4h0M980.8 326.7h0M984.7 333.6h0M985.5 334.8h0M966.2 323.7h0M967.7 323.7h0M975.7 323.7h0M977.2 323.7h0M944.1 362.0h0M945.6 362.0h0M953.6 362.0h0M955.0 362.0h0M957.9 334.8h0M958.7 333.6h0M962.6 326.7h0M963.4 325.4h0M935.8 325.4h0M936.5 326.7h0M940.5 333.6h0M941.3 334.8h0M980.0 350.9h0M980.8 352.2h0M984.7 359.1h0M985.5 360.4h0M935.8 350.9h0M936.5 352.2h0M940.5 359.1h0M941.3 360.4h0M980.0 299.9h0M980.8 301.1h0M984.7 308.0h0M985.5 309.3h0M1002.1 360.4h0M1002.9 359.1h0M1006.9 352.2h0M1007.6 350.9h0M957.9 312.6h0M958.7 313.9h0M962.6 320.8h0M963.4 322.1h0M980.0 373.1h0M980.8 371.9h0M984.7 365.0h0M985.5 363.7h0M980.0 322.1h0M980.8 320.8h0M984.7 313.9h0M985.5 312.6h0M1002.1 338.2h0M1002.9 339.4h0M1006.9 346.3h0M1007.6 347.6h0M988.4 362.0h0M989.8 362.0h0M997.8 362.0h0M999.3 362.0h0M957.9 360.4h0M958.7 359.1h0M962.6 352.2h0M963.4 350.9h0M980.0 347.6h0M980.8 346.3h0M984.7 339.4h0M985.5 338.2h0M935.8 322.1h0M936.5 320.8h0M940.5 313.9h0M941.3 312.6h0M935.8 347.6h0M936.5 346.3h0M940.5 339.4h0M941.3 338.2h0M966.2 374.8h0M967.7 374.8h0M975.7 374.8h0M977.2 374.8h0M1011.5 323.7h0M1002.7 308.4h0M980.5 295.7h0M962.9 295.7h0M940.7 308.4h0M931.9 323.7h0M931.9 349.3h0M940.7 364.6h0M962.9 377.3h0M980.5 377.3h0M1011.5 349.3h0M1002.7 364.6h0" stroke="#a82b26" stroke-width="2.36" stroke-linecap="round" fill="none"/>
<path d="M986.4 336.5h0M979.1 323.7h0M964.3 323.7h0M957.0 336.5h0M964.3 349.3h0M979.1 349.3h0M1008.5 323.7h0M1001.2 311.0h0M986.4 311.0h0M1001.2 336.5h0M979.1 298.2h0M964.3 298.2h0M957.0 311.0h0M942.2 311.0h0M934.9 323.7h0M942.2 336.5h0M934.9 349.3h0M942.2 362.0h0M957.0 362.0h0M986.4 362.0h0M964.3 374.8h0M979.1 374.8h0M1008.5 349.3h0M1001.2 362.0h0" stroke="#a82b26" stroke-width="4.42" stroke-linecap="round" fill="none"/>
<path d="M956.3 336.5L964.0 349.8M941.0 336.5L956.3 336.5M964.0 296.6L979.4 296.6M1002.4 309.9L1010.1 323.2M987.1 309.9L1002.4 309.9M956.3 309.9L964.0 296.6M987.1 336.5L1002.4 336.5M956.3 363.1L964.0 376.4M941.0 309.9L956.3 309.9M964.0 349.8L979.4 349.8M1002.4 336.5L1010.1 323.2M979.4 323.2L987.1 336.5M964.0 323.2L979.4 323.2M941.0 363.1L956.3 363.1M956.3 336.5L964.0 323.2M933.3 323.2L941.0 336.5M979.4 349.8L987.1 363.1M933.3 349.8L941.0 363.1M979.4 296.6L987.1 309.9M1002.4 363.1L1010.1 349.8M956.3 309.9L964.0 323.2M979.4 376.4L987.1 363.1M979.4 323.2L987.1 309.9M1002.4 336.5L1010.1 349.8M987.1 363.1L1002.4 363.1M956.3 363.1L964.0 349.8M979.4 349.8L987.1 336.5M933.3 323.2L941.0 309.9M933.3 349.8L941.0 336.5M964.0 376.4L979.4 376.4" stroke="#452456" stroke-width="2.00" stroke-linecap="round" fill="none"/>
<path d="M958.9 340.9h0M959.7 342.4h0M960.6 344.0h0M961.5 345.4h0M946.0 336.5h0M947.7 336.5h0M949.6 336.5h0M951.3 336.5h0M969.1 296.6h0M970.8 296.6h0M972.6 296.6h0M974.3 296.6h0M1005.0 314.3h0M1005.8 315.7h0M1006.7 317.3h0M1007.6 318.8h0M992.1 309.9h0M993.8 309.9h0M995.7 309.9h0M997.4 309.9h0M958.9 305.5h0M959.7 304.0h0M960.6 302.4h0M961.5 301.0h0M992.1 336.5h0M993.8 336.5h0M995.7 336.5h0M997.4 336.5h0M958.9 367.5h0M959.7 369.0h0M960.6 370.6h0M961.5 372.0h0M946.0 309.9h0M947.7 309.9h0M949.6 309.9h0M951.3 309.9h0M969.1 349.8h0M970.8 349.8h0M972.6 349.8h0M974.3 349.8h0M1005.0 332.1h0M1005.8 330.6h0M1006.7 329.0h0M1007.6 327.6h0M981.9 327.6h0M982.8 329.0h0M983.7 330.6h0M984.5 332.1h0M969.1 323.2h0M970.8 323.2h0M972.6 323.2h0M974.3 323.2h0M946.0 363.1h0M947.7 363.1h0M949.6 363.1h0M951.3 363.1h0M958.9 332.1h0M959.7 330.6h0M960.6 329.0h0M961.5 327.6h0M935.8 327.6h0M936.7 329.0h0M937.6 330.6h0M938.4 332.1h0M981.9 354.2h0M982.8 355.7h0M983.7 357.3h0M984.5 358.7h0M935.8 354.2h0M936.7 355.7h0M937.6 357.3h0M938.4 358.7h0M981.9 301.0h0M982.8 302.4h0M983.7 304.0h0M984.5 305.5h0M1005.0 358.7h0M1005.8 357.3h0M1006.7 355.7h0M1007.6 354.2h0M958.9 314.3h0M959.7 315.7h0M960.6 317.3h0M961.5 318.8h0M981.9 372.0h0M982.8 370.6h0M983.7 369.0h0M984.5 367.5h0M981.9 318.8h0M982.8 317.3h0M983.7 315.7h0M984.5 314.3h0M1005.0 340.9h0M1005.8 342.4h0M1006.7 344.0h0M1007.6 345.4h0M992.1 363.1h0M993.8 363.1h0M995.7 363.1h0M997.4 363.1h0M958.9 358.7h0M959.7 357.3h0M960.6 355.7h0M961.5 354.2h0M981.9 345.4h0M982.8 344.0h0M983.7 342.4h0M984.5 340.9h0M935.8 318.8h0M936.7 317.3h0M937.6 315.7h0M938.4 314.3h0M935.8 345.4h0M936.7 344.0h0M937.6 342.4h0M938.4 340.9h0M969.1 376.4h0M970.8 376.4h0M972.6 376.4h0M974.3 376.4h0" stroke="#2e2a73" stroke-width="3.07" stroke-linecap="round" fill="none"/>
<path d="M1015.7 323.2h0M1016.6 324.2h0M1016.6 322.1h0M1005.2 305.1h0M1006.6 304.8h0M1004.7 303.8h0M982.2 291.8h0M983.5 291.5h0M981.7 290.5h0M961.2 291.8h0M961.7 290.5h0M959.9 291.5h0M938.2 305.1h0M938.7 303.8h0M936.8 304.8h0M927.7 323.2h0M926.8 322.1h0M926.8 324.2h0M927.7 349.8h0M926.8 348.8h0M926.8 350.9h0M938.2 367.9h0M936.8 368.2h0M938.7 369.2h0M961.2 381.2h0M959.9 381.5h0M961.7 382.5h0M982.2 381.2h0M981.7 382.5h0M983.5 381.5h0M1015.7 349.8h0M1016.6 350.9h0M1016.6 348.8h0M1005.2 367.9h0M1004.7 369.2h0M1006.6 368.2h0" stroke="#2e2a73" stroke-width="2.61" stroke-linecap="round" fill="none"/>
<path d="M957.3 338.2h0M958.1 339.6h0M962.2 346.7h0M963.0 348.1h0M943.0 336.5h0M944.5 336.5h0M952.8 336.5h0M954.3 336.5h0M966.0 296.6h0M967.5 296.6h0M975.9 296.6h0M977.4 296.6h0M1003.4 311.6h0M1004.2 312.9h0M1008.4 320.1h0M1009.1 321.5h0M989.1 309.9h0M990.6 309.9h0M998.9 309.9h0M1000.4 309.9h0M957.3 308.1h0M958.1 306.8h0M962.2 299.6h0M963.0 298.3h0M989.1 336.5h0M990.6 336.5h0M998.9 336.5h0M1000.4 336.5h0M957.3 364.9h0M958.1 366.2h0M962.2 373.4h0M963.0 374.7h0M943.0 309.9h0M944.5 309.9h0M952.8 309.9h0M954.3 309.9h0M966.0 349.8h0M967.5 349.8h0M975.9 349.8h0M977.4 349.8h0M1003.4 334.8h0M1004.2 333.4h0M1008.4 326.3h0M1009.1 324.9h0M980.4 324.9h0M981.2 326.3h0M985.3 333.4h0M986.1 334.8h0M966.0 323.2h0M967.5 323.2h0M975.9 323.2h0M977.4 323.2h0M943.0 363.1h0M944.5 363.1h0M952.8 363.1h0M954.3 363.1h0M957.3 334.8h0M958.1 333.4h0M962.2 326.3h0M963.0 324.9h0M934.3 324.9h0M935.0 326.3h0M939.2 333.4h0M940.0 334.8h0M980.4 351.5h0M981.2 352.9h0M985.3 360.1h0M986.1 361.4h0M934.3 351.5h0M935.0 352.9h0M939.2 360.1h0M940.0 361.4h0M980.4 298.3h0M981.2 299.6h0M985.3 306.8h0M986.1 308.1h0M1003.4 361.4h0M1004.2 360.1h0M1008.4 352.9h0M1009.1 351.5h0M957.3 311.6h0M958.1 312.9h0M962.2 320.1h0M963.0 321.5h0M980.4 374.7h0M981.2 373.4h0M985.3 366.2h0M986.1 364.9h0M980.4 321.5h0M981.2 320.1h0M985.3 312.9h0M986.1 311.6h0M1003.4 338.2h0M1004.2 339.6h0M1008.4 346.7h0M1009.1 348.1h0M989.1 363.1h0M990.6 363.1h0M998.9 363.1h0M1000.4 363.1h0M957.3 361.4h0M958.1 360.1h0M962.2 352.9h0M963.0 351.5h0M980.4 348.1h0M981.2 346.7h0M985.3 339.6h0M986.1 338.2h0M934.3 321.5h0M935.0 320.1h0M939.2 312.9h0M940.0 311.6h0M934.3 348.1h0M935.0 346.7h0M939.2 339.6h0M940.0 338.2h0M966.0 376.4h0M967.5 376.4h0M975.9 376.4h0M977.4 376.4h0M1013.2 323.2h0M1004.0 307.2h0M980.9 293.9h0M962.5 293.9h0M939.4 307.2h0M930.2 323.2h0M930.2 349.8h0M939.4 365.8h0M962.5 379.1h0M980.9 379.1h0M1013.2 349.8h0M1004.0 365.8h0" stroke="#ad2c27" stroke-width="2.46" stroke-linecap="round" fill="none"/>
<path d="M987.1 336.5h0M979.4 323.2h0M964.0 323.2h0M956.3 336.5h0M964.0 349.8h0M979.4 349.8h0M1010.1 323.2h0M1002.4 309.9h0M987.1 309.9h0M1002.4 336.5h0M979.4 296.6h0M964.0 296.6h0M956.3 309.9h0M941.0 309.9h0M933.3 323.2h0M941.0 336.5h0M933.3 349.8h0M941.0 363.1h0M956.3 363.1h0M987.1 363.1h0M964.0 376.4h0M979.4 376.4h0M1010.1 349.8h0M1002.4 363.1h0" stroke="#ad2c27" stroke-width="4.61" stroke-linecap="round" fill="none"/>
<path d="M955.6 336.5L963.7 350.4M939.6 336.5L955.6 336.5M963.7 294.8L979.7 294.8M1003.8 308.7L1011.8 322.6M987.8 308.7L1003.8 308.7M955.6 308.7L963.7 294.8M987.8 336.5L1003.8 336.5M955.6 364.3L963.7 378.2M939.6 308.7L955.6 308.7M963.7 350.4L979.7 350.4M1003.8 336.5L1011.8 322.6M979.7 322.6L987.8 336.5M963.7 322.6L979.7 322.6M939.6 364.3L955.6 364.3M955.6 336.5L963.7 322.6M931.6 322.6L939.6 336.5M979.7 350.4L987.8 364.3M931.6 350.4L939.6 364.3M979.7 294.8L987.8 308.7M1003.8 364.3L1011.8 350.4M955.6 308.7L963.7 322.6M979.7 378.2L987.8 364.3M979.7 322.6L987.8 308.7M1003.8 336.5L1011.8 350.4M987.8 364.3L1003.8 364.3M955.6 364.3L963.7 350.4M979.7 350.4L987.8 336.5M931.6 322.6L939.6 308.7M931.6 350.4L939.6 336.5M963.7 378.2L979.7 378.2" stroke="#472658" stroke-width="2.09" stroke-linecap="round" fill="none"/>
<path d="M958.3 341.1h0M959.2 342.6h0M960.1 344.3h0M961.0 345.8h0M944.9 336.5h0M946.6 336.5h0M948.6 336.5h0M950.3 336.5h0M969.0 294.8h0M970.7 294.8h0M972.7 294.8h0M974.4 294.8h0M1006.5 313.3h0M1007.4 314.8h0M1008.3 316.5h0M1009.2 318.0h0M993.1 308.7h0M994.8 308.7h0M996.8 308.7h0M998.5 308.7h0M958.3 304.1h0M959.2 302.6h0M960.1 300.9h0M961.0 299.4h0M993.1 336.5h0M994.8 336.5h0M996.8 336.5h0M998.5 336.5h0M958.3 368.9h0M959.2 370.4h0M960.1 372.1h0M961.0 373.6h0M944.9 308.7h0M946.6 308.7h0M948.6 308.7h0M950.3 308.7h0M969.0 350.4h0M970.7 350.4h0M972.7 350.4h0M974.4 350.4h0M1006.5 331.9h0M1007.4 330.4h0M1008.3 328.7h0M1009.2 327.2h0M982.4 327.2h0M983.3 328.7h0M984.2 330.4h0M985.1 331.9h0M969.0 322.6h0M970.7 322.6h0M972.7 322.6h0M974.4 322.6h0M944.9 364.3h0M946.6 364.3h0M948.6 364.3h0M950.3 364.3h0M958.3 331.9h0M959.2 330.4h0M960.1 328.7h0M961.0 327.2h0M934.2 327.2h0M935.1 328.7h0M936.0 330.4h0M936.9 331.9h0M982.4 355.0h0M983.3 356.5h0M984.2 358.2h0M985.1 359.7h0M934.2 355.0h0M935.1 356.5h0M936.0 358.2h0M936.9 359.7h0M982.4 299.4h0M983.3 300.9h0M984.2 302.6h0M985.1 304.1h0M1006.5 359.7h0M1007.4 358.2h0M1008.3 356.5h0M1009.2 355.0h0M958.3 313.3h0M959.2 314.8h0M960.1 316.5h0M961.0 318.0h0M982.4 373.6h0M983.3 372.1h0M984.2 370.4h0M985.1 368.9h0M982.4 318.0h0M983.3 316.5h0M984.2 314.8h0M985.1 313.3h0M1006.5 341.1h0M1007.4 342.6h0M1008.3 344.3h0M1009.2 345.8h0M993.1 364.3h0M994.8 364.3h0M996.8 364.3h0M998.5 364.3h0M958.3 359.7h0M959.2 358.2h0M960.1 356.5h0M961.0 355.0h0M982.4 345.8h0M983.3 344.3h0M984.2 342.6h0M985.1 341.1h0M934.2 318.0h0M935.1 316.5h0M936.0 314.8h0M936.9 313.3h0M934.2 345.8h0M935.1 344.3h0M936.0 342.6h0M936.9 341.1h0M969.0 378.2h0M970.7 378.2h0M972.7 378.2h0M974.4 378.2h0" stroke="#302b76" stroke-width="3.21" stroke-linecap="round" fill="none"/>
<path d="M1017.6 322.6h0M1018.6 323.7h0M1018.6 321.5h0M1006.7 303.7h0M1008.1 303.4h0M1006.2 302.3h0M982.6 289.8h0M984.0 289.5h0M982.1 288.4h0M960.8 289.8h0M961.3 288.4h0M959.4 289.5h0M936.7 303.7h0M937.2 302.3h0M935.3 303.4h0M925.8 322.6h0M924.8 321.5h0M924.8 323.7h0M925.8 350.4h0M924.8 349.3h0M924.8 351.5h0M936.7 369.3h0M935.3 369.6h0M937.2 370.7h0M960.8 383.2h0M959.4 383.5h0M961.3 384.6h0M982.6 383.2h0M982.1 384.6h0M984.0 383.5h0M1017.6 350.4h0M1018.6 351.5h0M1018.6 349.3h0M1006.7 369.3h0M1006.2 370.7h0M1008.1 369.6h0" stroke="#302b76" stroke-width="2.73" stroke-linecap="round" fill="none"/>
<path d="M956.7 338.3h0M957.5 339.7h0M961.8 347.2h0M962.6 348.6h0M941.7 336.5h0M943.3 336.5h0M951.9 336.5h0M953.6 336.5h0M965.8 294.8h0M967.4 294.8h0M976.0 294.8h0M977.6 294.8h0M1004.9 310.5h0M1005.7 311.9h0M1010.0 319.4h0M1010.8 320.8h0M989.8 308.7h0M991.5 308.7h0M1000.1 308.7h0M1001.7 308.7h0M956.7 306.9h0M957.5 305.5h0M961.8 298.0h0M962.6 296.6h0M989.8 336.5h0M991.5 336.5h0M1000.1 336.5h0M1001.7 336.5h0M956.7 366.1h0M957.5 367.5h0M961.8 375.0h0M962.6 376.4h0M941.7 308.7h0M943.3 308.7h0M951.9 308.7h0M953.6 308.7h0M965.8 350.4h0M967.4 350.4h0M976.0 350.4h0M977.6 350.4h0M1004.9 334.7h0M1005.7 333.3h0M1010.0 325.8h0M1010.8 324.4h0M980.8 324.4h0M981.6 325.8h0M985.9 333.3h0M986.7 334.7h0M965.8 322.6h0M967.4 322.6h0M976.0 322.6h0M977.6 322.6h0M941.7 364.3h0M943.3 364.3h0M951.9 364.3h0M953.6 364.3h0M956.7 334.7h0M957.5 333.3h0M961.8 325.8h0M962.6 324.4h0M932.6 324.4h0M933.4 325.8h0M937.7 333.3h0M938.5 334.7h0M980.8 352.2h0M981.6 353.6h0M985.9 361.1h0M986.7 362.5h0M932.6 352.2h0M933.4 353.6h0M937.7 361.1h0M938.5 362.5h0M980.8 296.6h0M981.6 298.0h0M985.9 305.5h0M986.7 306.9h0M1004.9 362.5h0M1005.7 361.1h0M1010.0 353.6h0M1010.8 352.2h0M956.7 310.5h0M957.5 311.9h0M961.8 319.4h0M962.6 320.8h0M980.8 376.4h0M981.6 375.0h0M985.9 367.5h0M986.7 366.1h0M980.8 320.8h0M981.6 319.4h0M985.9 311.9h0M986.7 310.5h0M1004.9 338.3h0M1005.7 339.7h0M1010.0 347.2h0M1010.8 348.6h0M989.8 364.3h0M991.5 364.3h0M1000.1 364.3h0M1001.7 364.3h0M956.7 362.5h0M957.5 361.1h0M961.8 353.6h0M962.6 352.2h0M980.8 348.6h0M981.6 347.2h0M985.9 339.7h0M986.7 338.3h0M932.6 320.8h0M933.4 319.4h0M937.7 311.9h0M938.5 310.5h0M932.6 348.6h0M933.4 347.2h0M937.7 339.7h0M938.5 338.3h0M965.8 378.2h0M967.4 378.2h0M976.0 378.2h0M977.6 378.2h0M1015.1 322.6h0M1005.4 305.9h0M981.3 292.0h0M962.1 292.0h0M938.0 305.9h0M928.3 322.6h0M928.3 350.4h0M938.0 367.1h0M962.1 381.0h0M981.3 381.0h0M1015.1 350.4h0M1005.4 367.1h0" stroke="#b32d28" stroke-width="2.57" stroke-linecap="round" fill="none"/>
<path d="M987.8 336.5h0M979.7 322.6h0M963.7 322.6h0M955.6 336.5h0M963.7 350.4h0M979.7 350.4h0M1011.8 322.6h0M1003.8 308.7h0M987.8 308.7h0M1003.8 336.5h0M979.7 294.8h0M963.7 294.8h0M955.6 308.7h0M939.6 308.7h0M931.6 322.6h0M939.6 336.5h0M931.6 350.4h0M939.6 364.3h0M955.6 364.3h0M987.8 364.3h0M963.7 378.2h0M979.7 378.2h0M1011.8 350.4h0M1003.8 364.3h0" stroke="#b32d28" stroke-width="4.82" stroke-linecap="round" fill="none"/>
<path d="M954.9 336.5L963.3 351.1M938.1 336.5L954.9 336.5M963.3 292.8L980.1 292.8M1005.3 307.4L1013.7 321.9M988.5 307.4L1005.3 307.4M954.9 307.4L963.3 292.8M988.5 336.5L1005.3 336.5M954.9 365.6L963.3 380.2M938.1 307.4L954.9 307.4M963.3 351.1L980.1 351.1M1005.3 336.5L1013.7 321.9M980.1 321.9L988.5 336.5M963.3 321.9L980.1 321.9M938.1 365.6L954.9 365.6M954.9 336.5L963.3 321.9M929.7 321.9L938.1 336.5M980.1 351.1L988.5 365.6M929.7 351.1L938.1 365.6M980.1 292.8L988.5 307.4M1005.3 365.6L1013.7 351.1M954.9 307.4L963.3 321.9M980.1 380.2L988.5 365.6M980.1 321.9L988.5 307.4M1005.3 336.5L1013.7 351.1M988.5 365.6L1005.3 365.6M954.9 365.6L963.3 351.1M980.1 351.1L988.5 336.5M929.7 321.9L938.1 307.4M929.7 351.1L938.1 336.5M963.3 380.2L980.1 380.2" stroke="#49275b" stroke-width="2.19" stroke-linecap="round" fill="none"/>
<path d="M957.7 341.3h0M958.6 342.9h0M959.6 344.7h0M960.5 346.3h0M943.6 336.5h0M945.5 336.5h0M947.5 336.5h0M949.3 336.5h0M968.8 292.8h0M970.7 292.8h0M972.7 292.8h0M974.6 292.8h0M1008.1 312.2h0M1009.0 313.8h0M1010.0 315.5h0M1011.0 317.1h0M994.1 307.4h0M995.9 307.4h0M997.9 307.4h0M999.8 307.4h0M957.7 302.6h0M958.6 301.0h0M959.6 299.2h0M960.5 297.6h0M994.1 336.5h0M995.9 336.5h0M997.9 336.5h0M999.8 336.5h0M957.7 370.4h0M958.6 372.0h0M959.6 373.8h0M960.5 375.4h0M943.6 307.4h0M945.5 307.4h0M947.5 307.4h0M949.3 307.4h0M968.8 351.1h0M970.7 351.1h0M972.7 351.1h0M974.6 351.1h0M1008.1 331.7h0M1009.0 330.1h0M1010.0 328.3h0M1011.0 326.7h0M982.9 326.7h0M983.8 328.3h0M984.8 330.1h0M985.7 331.7h0M968.8 321.9h0M970.7 321.9h0M972.7 321.9h0M974.6 321.9h0M943.6 365.6h0M945.5 365.6h0M947.5 365.6h0M949.3 365.6h0M957.7 331.7h0M958.6 330.1h0M959.6 328.3h0M960.5 326.7h0M932.4 326.7h0M933.4 328.3h0M934.4 330.1h0M935.3 331.7h0M982.9 355.9h0M983.8 357.5h0M984.8 359.2h0M985.7 360.8h0M932.4 355.9h0M933.4 357.5h0M934.4 359.2h0M935.3 360.8h0M982.9 297.6h0M983.8 299.2h0M984.8 301.0h0M985.7 302.6h0M1008.1 360.8h0M1009.0 359.2h0M1010.0 357.5h0M1011.0 355.9h0M957.7 312.2h0M958.6 313.8h0M959.6 315.5h0M960.5 317.1h0M982.9 375.4h0M983.8 373.8h0M984.8 372.0h0M985.7 370.4h0M982.9 317.1h0M983.8 315.5h0M984.8 313.8h0M985.7 312.2h0M1008.1 341.3h0M1009.0 342.9h0M1010.0 344.7h0M1011.0 346.3h0M994.1 365.6h0M995.9 365.6h0M997.9 365.6h0M999.8 365.6h0M957.7 360.8h0M958.6 359.2h0M959.6 357.5h0M960.5 355.9h0M982.9 346.3h0M983.8 344.7h0M984.8 342.9h0M985.7 341.3h0M932.4 317.1h0M933.4 315.5h0M934.4 313.8h0M935.3 312.2h0M932.4 346.3h0M933.4 344.7h0M934.4 342.9h0M935.3 341.3h0M968.8 380.2h0M970.7 380.2h0M972.7 380.2h0M974.6 380.2h0" stroke="#312c7a" stroke-width="3.36" stroke-linecap="round" fill="none"/>
<path d="M1019.8 321.9h0M1020.8 323.1h0M1020.8 320.8h0M1008.4 302.1h0M1009.8 301.9h0M1007.8 300.7h0M983.1 287.6h0M984.6 287.3h0M982.6 286.2h0M960.3 287.6h0M960.8 286.2h0M958.8 287.3h0M935.0 302.1h0M935.6 300.7h0M933.6 301.9h0M923.6 321.9h0M922.6 320.8h0M922.6 323.1h0M923.6 351.1h0M922.6 349.9h0M922.6 352.2h0M935.0 370.9h0M933.6 371.1h0M935.6 372.3h0M960.3 385.4h0M958.8 385.7h0M960.8 386.8h0M983.1 385.4h0M982.6 386.8h0M984.6 385.7h0M1019.8 351.1h0M1020.8 352.2h0M1020.8 349.9h0M1008.4 370.9h0M1007.8 372.3h0M1009.8 371.1h0" stroke="#312c7a" stroke-width="2.86" stroke-linecap="round" fill="none"/>
<path d="M956.0 338.4h0M956.8 339.8h0M961.4 347.7h0M962.2 349.2h0M940.3 336.5h0M941.9 336.5h0M951.0 336.5h0M952.7 336.5h0M965.5 292.8h0M967.2 292.8h0M976.2 292.8h0M977.9 292.8h0M1006.4 309.3h0M1007.3 310.7h0M1011.8 318.6h0M1012.6 320.0h0M990.7 307.4h0M992.4 307.4h0M1001.5 307.4h0M1003.1 307.4h0M956.0 305.5h0M956.8 304.0h0M961.4 296.2h0M962.2 294.7h0M990.7 336.5h0M992.4 336.5h0M1001.5 336.5h0M1003.1 336.5h0M956.0 367.5h0M956.8 369.0h0M961.4 376.8h0M962.2 378.3h0M940.3 307.4h0M941.9 307.4h0M951.0 307.4h0M952.7 307.4h0M965.5 351.1h0M967.2 351.1h0M976.2 351.1h0M977.9 351.1h0M1006.4 334.6h0M1007.3 333.2h0M1011.8 325.3h0M1012.6 323.8h0M981.2 323.8h0M982.0 325.3h0M986.6 333.2h0M987.4 334.6h0M965.5 321.9h0M967.2 321.9h0M976.2 321.9h0M977.9 321.9h0M940.3 365.6h0M941.9 365.6h0M951.0 365.6h0M952.7 365.6h0M956.0 334.6h0M956.8 333.2h0M961.4 325.3h0M962.2 323.8h0M930.8 323.8h0M931.6 325.3h0M936.1 333.2h0M937.0 334.6h0M981.2 353.0h0M982.0 354.4h0M986.6 362.3h0M987.4 363.7h0M930.8 353.0h0M931.6 354.4h0M936.1 362.3h0M937.0 363.7h0M981.2 294.7h0M982.0 296.2h0M986.6 304.0h0M987.4 305.5h0M1006.4 363.7h0M1007.3 362.3h0M1011.8 354.4h0M1012.6 353.0h0M956.0 309.3h0M956.8 310.7h0M961.4 318.6h0M962.2 320.0h0M981.2 378.3h0M982.0 376.8h0M986.6 369.0h0M987.4 367.5h0M981.2 320.0h0M982.0 318.6h0M986.6 310.7h0M987.4 309.3h0M1006.4 338.4h0M1007.3 339.8h0M1011.8 347.7h0M1012.6 349.2h0M990.7 365.6h0M992.4 365.6h0M1001.5 365.6h0M1003.1 365.6h0M956.0 363.7h0M956.8 362.3h0M961.4 354.4h0M962.2 353.0h0M981.2 349.2h0M982.0 347.7h0M986.6 339.8h0M987.4 338.4h0M930.8 320.0h0M931.6 318.6h0M936.1 310.7h0M937.0 309.3h0M930.8 349.2h0M931.6 347.7h0M936.1 339.8h0M937.0 338.4h0M965.5 380.2h0M967.2 380.2h0M976.2 380.2h0M977.9 380.2h0M1017.1 321.9h0M1007.0 304.5h0M981.8 289.9h0M961.6 289.9h0M936.4 304.5h0M926.3 321.9h0M926.3 351.1h0M936.4 368.5h0M961.6 383.1h0M981.8 383.1h0M1017.1 351.1h0M1007.0 368.5h0" stroke="#b82f29" stroke-width="2.69" stroke-linecap="round" fill="none"/>
<path d="M988.5 336.5h0M980.1 321.9h0M963.3 321.9h0M954.9 336.5h0M963.3 351.1h0M980.1 351.1h0M1013.7 321.9h0M1005.3 307.4h0M988.5 307.4h0M1005.3 336.5h0M980.1 292.8h0M963.3 292.8h0M954.9 307.4h0M938.1 307.4h0M929.7 321.9h0M938.1 336.5h0M929.7 351.1h0M938.1 365.6h0M954.9 365.6h0M988.5 365.6h0M963.3 380.2h0M980.1 380.2h0M1013.7 351.1h0M1005.3 365.6h0" stroke="#b82f29" stroke-width="5.04" stroke-linecap="round" fill="none"/>
<path d="M954.1 336.5L962.9 351.8M936.4 336.5L954.1 336.5M962.9 290.7L980.5 290.7M1007.0 305.9L1015.8 321.2M989.3 305.9L1007.0 305.9M954.1 305.9L962.9 290.7M989.3 336.5L1007.0 336.5M954.1 367.1L962.9 382.3M936.4 305.9L954.1 305.9M962.9 351.8L980.5 351.8M1007.0 336.5L1015.8 321.2M980.5 321.2L989.3 336.5M962.9 321.2L980.5 321.2M936.4 367.1L954.1 367.1M954.1 336.5L962.9 321.2M927.6 321.2L936.4 336.5M980.5 351.8L989.3 367.1M927.6 351.8L936.4 367.1M980.5 290.7L989.3 305.9M1007.0 367.1L1015.8 351.8M954.1 305.9L962.9 321.2M980.5 382.3L989.3 367.1M980.5 321.2L989.3 305.9M1007.0 336.5L1015.8 351.8M989.3 367.1L1007.0 367.1M954.1 367.1L962.9 351.8M980.5 351.8L989.3 336.5M927.6 321.2L936.4 305.9M927.6 351.8L936.4 336.5M962.9 382.3L980.5 382.3" stroke="#4b285d" stroke-width="2.29" stroke-linecap="round" fill="none"/>
<path d="M957.0 341.5h0M957.9 343.2h0M959.0 345.1h0M960.0 346.7h0M942.2 336.5h0M944.2 336.5h0M946.3 336.5h0M948.2 336.5h0M968.7 290.7h0M970.6 290.7h0M972.8 290.7h0M974.7 290.7h0M1009.9 311.0h0M1010.9 312.7h0M1011.9 314.5h0M1012.9 316.2h0M995.2 305.9h0M997.1 305.9h0M999.2 305.9h0M1001.2 305.9h0M957.0 300.9h0M957.9 299.2h0M959.0 297.4h0M960.0 295.7h0M995.2 336.5h0M997.1 336.5h0M999.2 336.5h0M1001.2 336.5h0M957.0 372.1h0M957.9 373.8h0M959.0 375.6h0M960.0 377.3h0M942.2 305.9h0M944.2 305.9h0M946.3 305.9h0M948.2 305.9h0M968.7 351.8h0M970.6 351.8h0M972.8 351.8h0M974.7 351.8h0M1009.9 331.5h0M1010.9 329.8h0M1011.9 327.9h0M1012.9 326.3h0M983.4 326.3h0M984.4 327.9h0M985.5 329.8h0M986.4 331.5h0M968.7 321.2h0M970.6 321.2h0M972.8 321.2h0M974.7 321.2h0M942.2 367.1h0M944.2 367.1h0M946.3 367.1h0M948.2 367.1h0M957.0 331.5h0M957.9 329.8h0M959.0 327.9h0M960.0 326.3h0M930.5 326.3h0M931.5 327.9h0M932.5 329.8h0M933.5 331.5h0M983.4 356.8h0M984.4 358.5h0M985.5 360.3h0M986.4 362.0h0M930.5 356.8h0M931.5 358.5h0M932.5 360.3h0M933.5 362.0h0M983.4 295.7h0M984.4 297.4h0M985.5 299.2h0M986.4 300.9h0M1009.9 362.0h0M1010.9 360.3h0M1011.9 358.5h0M1012.9 356.8h0M957.0 311.0h0M957.9 312.7h0M959.0 314.5h0M960.0 316.2h0M983.4 377.3h0M984.4 375.6h0M985.5 373.8h0M986.4 372.1h0M983.4 316.2h0M984.4 314.5h0M985.5 312.7h0M986.4 311.0h0M1009.9 341.5h0M1010.9 343.2h0M1011.9 345.1h0M1012.9 346.7h0M995.2 367.1h0M997.1 367.1h0M999.2 367.1h0M1001.2 367.1h0M957.0 362.0h0M957.9 360.3h0M959.0 358.5h0M960.0 356.8h0M983.4 346.7h0M984.4 345.1h0M985.5 343.2h0M986.4 341.5h0M930.5 316.2h0M931.5 314.5h0M932.5 312.7h0M933.5 311.0h0M930.5 346.7h0M931.5 345.1h0M932.5 343.2h0M933.5 341.5h0M968.7 382.3h0M970.6 382.3h0M972.8 382.3h0M974.7 382.3h0" stroke="#332e7d" stroke-width="3.53" stroke-linecap="round" fill="none"/>
<path d="M1022.1 321.2h0M1023.2 322.4h0M1023.2 320.0h0M1010.2 300.4h0M1011.7 300.2h0M1009.6 299.0h0M983.7 285.2h0M985.3 284.9h0M983.2 283.7h0M959.7 285.2h0M960.2 283.7h0M958.1 284.9h0M933.2 300.4h0M933.8 299.0h0M931.7 300.2h0M921.3 321.2h0M920.2 320.0h0M920.2 322.4h0M921.3 351.8h0M920.2 350.6h0M920.2 353.0h0M933.2 372.6h0M931.7 372.8h0M933.8 374.0h0M959.7 387.8h0M958.1 388.1h0M960.2 389.3h0M983.7 387.8h0M983.2 389.3h0M985.3 388.1h0M1022.1 351.8h0M1023.2 353.0h0M1023.2 350.6h0M1010.2 372.6h0M1009.6 374.0h0M1011.7 372.8h0" stroke="#332e7d" stroke-width="3.00" stroke-linecap="round" fill="none"/>
<path d="M955.2 338.5h0M956.1 340.0h0M960.9 348.3h0M961.7 349.8h0M938.7 336.5h0M940.5 336.5h0M950.0 336.5h0M951.8 336.5h0M965.2 290.7h0M966.9 290.7h0M976.5 290.7h0M978.2 290.7h0M1008.1 307.9h0M1009.0 309.5h0M1013.8 317.7h0M1014.7 319.2h0M991.6 305.9h0M993.4 305.9h0M1002.9 305.9h0M1004.7 305.9h0M955.2 304.0h0M956.1 302.4h0M960.9 294.2h0M961.7 292.7h0M991.6 336.5h0M993.4 336.5h0M1002.9 336.5h0M1004.7 336.5h0M955.2 369.0h0M956.1 370.6h0M960.9 378.8h0M961.7 380.3h0M938.7 305.9h0M940.5 305.9h0M950.0 305.9h0M951.8 305.9h0M965.2 351.8h0M966.9 351.8h0M976.5 351.8h0M978.2 351.8h0M1008.1 334.5h0M1009.0 333.0h0M1013.8 324.7h0M1014.7 323.2h0M981.7 323.2h0M982.5 324.7h0M987.3 333.0h0M988.2 334.5h0M965.2 321.2h0M966.9 321.2h0M976.5 321.2h0M978.2 321.2h0M938.7 367.1h0M940.5 367.1h0M950.0 367.1h0M951.8 367.1h0M955.2 334.5h0M956.1 333.0h0M960.9 324.7h0M961.7 323.2h0M928.7 323.2h0M929.6 324.7h0M934.4 333.0h0M935.3 334.5h0M981.7 353.8h0M982.5 355.3h0M987.3 363.5h0M988.2 365.1h0M928.7 353.8h0M929.6 355.3h0M934.4 363.5h0M935.3 365.1h0M981.7 292.7h0M982.5 294.2h0M987.3 302.4h0M988.2 304.0h0M1008.1 365.1h0M1009.0 363.5h0M1013.8 355.3h0M1014.7 353.8h0M955.2 307.9h0M956.1 309.5h0M960.9 317.7h0M961.7 319.2h0M981.7 380.3h0M982.5 378.8h0M987.3 370.6h0M988.2 369.0h0M981.7 319.2h0M982.5 317.7h0M987.3 309.5h0M988.2 307.9h0M1008.1 338.5h0M1009.0 340.0h0M1013.8 348.3h0M1014.7 349.8h0M991.6 367.1h0M993.4 367.1h0M1002.9 367.1h0M1004.7 367.1h0M955.2 365.1h0M956.1 363.5h0M960.9 355.3h0M961.7 353.8h0M981.7 349.8h0M982.5 348.3h0M987.3 340.0h0M988.2 338.5h0M928.7 319.2h0M929.6 317.7h0M934.4 309.5h0M935.3 307.9h0M928.7 349.8h0M929.6 348.3h0M934.4 340.0h0M935.3 338.5h0M965.2 382.3h0M966.9 382.3h0M976.5 382.3h0M978.2 382.3h0M1019.3 321.2h0M1008.7 302.9h0M982.3 287.6h0M961.1 287.6h0M934.7 302.9h0M924.1 321.2h0M924.1 351.8h0M934.7 370.1h0M961.1 385.4h0M982.3 385.4h0M1019.3 351.8h0M1008.7 370.1h0" stroke="#bd302a" stroke-width="2.82" stroke-linecap="round" fill="none"/>
<path d="M989.3 336.5h0M980.5 321.2h0M962.9 321.2h0M954.1 336.5h0M962.9 351.8h0M980.5 351.8h0M1015.8 321.2h0M1007.0 305.9h0M989.3 305.9h0M1007.0 336.5h0M980.5 290.7h0M962.9 290.7h0M954.1 305.9h0M936.4 305.9h0M927.6 321.2h0M936.4 336.5h0M927.6 351.8h0M936.4 367.1h0M954.1 367.1h0M989.3 367.1h0M962.9 382.3h0M980.5 382.3h0M1015.8 351.8h0M1007.0 367.1h0" stroke="#bd302a" stroke-width="5.29" stroke-linecap="round" fill="none"/>
<path d="M953.1 336.5L962.4 352.6M934.6 336.5L953.1 336.5M962.4 288.3L981.0 288.3M1008.8 304.4L1018.1 320.4M990.3 304.4L1008.8 304.4M953.1 304.4L962.4 288.3M990.3 336.5L1008.8 336.5M953.1 368.6L962.4 384.7M934.6 304.4L953.1 304.4M962.4 352.6L981.0 352.6M1008.8 336.5L1018.1 320.4M981.0 320.4L990.3 336.5M962.4 320.4L981.0 320.4M934.6 368.6L953.1 368.6M953.1 336.5L962.4 320.4M925.3 320.4L934.6 336.5M981.0 352.6L990.3 368.6M925.3 352.6L934.6 368.6M981.0 288.3L990.3 304.4M1008.8 368.6L1018.1 352.6M953.1 304.4L962.4 320.4M981.0 384.7L990.3 368.6M981.0 320.4L990.3 304.4M1008.8 336.5L1018.1 352.6M990.3 368.6L1008.8 368.6M953.1 368.6L962.4 352.6M981.0 352.6L990.3 336.5M925.3 320.4L934.6 304.4M925.3 352.6L934.6 336.5M962.4 384.7L981.0 384.7" stroke="#4d2960" stroke-width="2.41" stroke-linecap="round" fill="none"/>
<path d="M956.2 341.8h0M957.2 343.6h0M958.3 345.5h0M959.4 347.3h0M940.7 336.5h0M942.8 336.5h0M945.0 336.5h0M947.0 336.5h0M968.5 288.3h0M970.6 288.3h0M972.8 288.3h0M974.9 288.3h0M1011.9 309.7h0M1012.9 311.4h0M1014.0 313.4h0M1015.0 315.1h0M996.4 304.4h0M998.4 304.4h0M1000.6 304.4h0M1002.7 304.4h0M956.2 299.1h0M957.2 297.3h0M958.3 295.4h0M959.4 293.6h0M996.4 336.5h0M998.4 336.5h0M1000.6 336.5h0M1002.7 336.5h0M956.2 373.9h0M957.2 375.7h0M958.3 377.6h0M959.4 379.4h0M940.7 304.4h0M942.8 304.4h0M945.0 304.4h0M947.0 304.4h0M968.5 352.6h0M970.6 352.6h0M972.8 352.6h0M974.9 352.6h0M1011.9 331.2h0M1012.9 329.4h0M1014.0 327.5h0M1015.0 325.7h0M984.0 325.7h0M985.1 327.5h0M986.2 329.4h0M987.2 331.2h0M968.5 320.4h0M970.6 320.4h0M972.8 320.4h0M974.9 320.4h0M940.7 368.6h0M942.8 368.6h0M945.0 368.6h0M947.0 368.6h0M956.2 331.2h0M957.2 329.4h0M958.3 327.5h0M959.4 325.7h0M928.4 325.7h0M929.4 327.5h0M930.5 329.4h0M931.5 331.2h0M984.0 357.9h0M985.1 359.6h0M986.2 361.6h0M987.2 363.3h0M928.4 357.9h0M929.4 359.6h0M930.5 361.6h0M931.5 363.3h0M984.0 293.6h0M985.1 295.4h0M986.2 297.3h0M987.2 299.1h0M1011.9 363.3h0M1012.9 361.6h0M1014.0 359.6h0M1015.0 357.9h0M956.2 309.7h0M957.2 311.4h0M958.3 313.4h0M959.4 315.1h0M984.0 379.4h0M985.1 377.6h0M986.2 375.7h0M987.2 373.9h0M984.0 315.1h0M985.1 313.4h0M986.2 311.4h0M987.2 309.7h0M1011.9 341.8h0M1012.9 343.6h0M1014.0 345.5h0M1015.0 347.3h0M996.4 368.6h0M998.4 368.6h0M1000.6 368.6h0M1002.7 368.6h0M956.2 363.3h0M957.2 361.6h0M958.3 359.6h0M959.4 357.9h0M984.0 347.3h0M985.1 345.5h0M986.2 343.6h0M987.2 341.8h0M928.4 315.1h0M929.4 313.4h0M930.5 311.4h0M931.5 309.7h0M928.4 347.3h0M929.4 345.5h0M930.5 343.6h0M931.5 341.8h0M968.5 384.7h0M970.6 384.7h0M972.8 384.7h0M974.9 384.7h0" stroke="#342f81" stroke-width="3.71" stroke-linecap="round" fill="none"/>
<path d="M1024.8 320.4h0M1025.8 321.7h0M1025.8 319.2h0M1012.1 298.6h0M1013.8 298.3h0M1011.6 297.0h0M984.3 282.5h0M986.0 282.2h0M983.7 280.9h0M959.1 282.5h0M959.7 280.9h0M957.4 282.2h0M931.3 298.6h0M931.8 297.0h0M929.6 298.3h0M918.6 320.4h0M917.6 319.2h0M917.6 321.7h0M918.6 352.6h0M917.6 351.3h0M917.6 353.8h0M931.3 374.4h0M929.6 374.7h0M931.8 376.0h0M959.1 390.5h0M957.4 390.8h0M959.7 392.1h0M984.3 390.5h0M983.7 392.1h0M986.0 390.8h0M1024.8 352.6h0M1025.8 353.8h0M1025.8 351.3h0M1012.1 374.4h0M1011.6 376.0h0M1013.8 374.7h0" stroke="#342f81" stroke-width="3.15" stroke-linecap="round" fill="none"/>
<path d="M954.4 338.6h0M955.3 340.2h0M960.3 348.9h0M961.2 350.5h0M937.0 336.5h0M938.9 336.5h0M948.9 336.5h0M950.7 336.5h0M964.8 288.3h0M966.7 288.3h0M976.7 288.3h0M978.6 288.3h0M1010.0 306.5h0M1010.9 308.1h0M1015.9 316.7h0M1016.9 318.3h0M992.7 304.4h0M994.5 304.4h0M1004.5 304.4h0M1006.4 304.4h0M954.4 302.3h0M955.3 300.7h0M960.3 292.0h0M961.2 290.4h0M992.7 336.5h0M994.5 336.5h0M1004.5 336.5h0M1006.4 336.5h0M954.4 370.7h0M955.3 372.3h0M960.3 381.0h0M961.2 382.6h0M937.0 304.4h0M938.9 304.4h0M948.9 304.4h0M950.7 304.4h0M964.8 352.6h0M966.7 352.6h0M976.7 352.6h0M978.6 352.6h0M1010.0 334.4h0M1010.9 332.8h0M1015.9 324.1h0M1016.9 322.5h0M982.2 322.5h0M983.1 324.1h0M988.1 332.8h0M989.0 334.4h0M964.8 320.4h0M966.7 320.4h0M976.7 320.4h0M978.6 320.4h0M937.0 368.6h0M938.9 368.6h0M948.9 368.6h0M950.7 368.6h0M954.4 334.4h0M955.3 332.8h0M960.3 324.1h0M961.2 322.5h0M926.5 322.5h0M927.5 324.1h0M932.5 332.8h0M933.4 334.4h0M982.2 354.7h0M983.1 356.3h0M988.1 364.9h0M989.0 366.5h0M926.5 354.7h0M927.5 356.3h0M932.5 364.9h0M933.4 366.5h0M982.2 290.4h0M983.1 292.0h0M988.1 300.7h0M989.0 302.3h0M1010.0 366.5h0M1010.9 364.9h0M1015.9 356.3h0M1016.9 354.7h0M954.4 306.5h0M955.3 308.1h0M960.3 316.7h0M961.2 318.3h0M982.2 382.6h0M983.1 381.0h0M988.1 372.3h0M989.0 370.7h0M982.2 318.3h0M983.1 316.7h0M988.1 308.1h0M989.0 306.5h0M1010.0 338.6h0M1010.9 340.2h0M1015.9 348.9h0M1016.9 350.5h0M992.7 368.6h0M994.5 368.6h0M1004.5 368.6h0M1006.4 368.6h0M954.4 366.5h0M955.3 364.9h0M960.3 356.3h0M961.2 354.7h0M982.2 350.5h0M983.1 348.9h0M988.1 340.2h0M989.0 338.6h0M926.5 318.3h0M927.5 316.7h0M932.5 308.1h0M933.4 306.5h0M926.5 350.5h0M927.5 348.9h0M932.5 340.2h0M933.4 338.6h0M964.8 384.7h0M966.7 384.7h0M976.7 384.7h0M978.6 384.7h0M1021.8 320.4h0M1010.7 301.2h0M982.8 285.1h0M960.6 285.1h0M932.7 301.2h0M921.6 320.4h0M921.6 352.6h0M932.7 371.8h0M960.6 387.9h0M982.8 387.9h0M1021.8 352.6h0M1010.7 371.8h0" stroke="#c2312b" stroke-width="2.97" stroke-linecap="round" fill="none"/>
<path d="M990.3 336.5h0M981.0 320.4h0M962.4 320.4h0M953.1 336.5h0M962.4 352.6h0M981.0 352.6h0M1018.1 320.4h0M1008.8 304.4h0M990.3 304.4h0M1008.8 336.5h0M981.0 288.3h0M962.4 288.3h0M953.1 304.4h0M934.6 304.4h0M925.3 320.4h0M934.6 336.5h0M925.3 352.6h0M934.6 368.6h0M953.1 368.6h0M990.3 368.6h0M962.4 384.7h0M981.0 384.7h0M1018.1 352.6h0M1008.8 368.6h0" stroke="#c2312b" stroke-width="5.57" stroke-linecap="round" fill="none"/>
<path d="M952.1 336.5L961.9 353.4M932.6 336.5L952.1 336.5M961.9 285.7L981.5 285.7M1010.8 302.6L1020.6 319.6M991.3 302.6L1010.8 302.6M952.1 302.6L961.9 285.7M991.3 336.5L1010.8 336.5M952.1 370.4L961.9 387.3M932.6 302.6L952.1 302.6M961.9 353.4L981.5 353.4M1010.8 336.5L1020.6 319.6M981.5 319.6L991.3 336.5M961.9 319.6L981.5 319.6M932.6 370.4L952.1 370.4M952.1 336.5L961.9 319.6M922.8 319.6L932.6 336.5M981.5 353.4L991.3 370.4M922.8 353.4L932.6 370.4M981.5 285.7L991.3 302.6M1010.8 370.4L1020.6 353.4M952.1 302.6L961.9 319.6M981.5 387.3L991.3 370.4M981.5 319.6L991.3 302.6M1010.8 336.5L1020.6 353.4M991.3 370.4L1010.8 370.4M952.1 370.4L961.9 353.4M981.5 353.4L991.3 336.5M922.8 319.6L932.6 302.6M922.8 353.4L932.6 336.5M961.9 387.3L981.5 387.3" stroke="#4f2a63" stroke-width="2.54" stroke-linecap="round" fill="none"/>
<path d="M955.4 342.1h0M956.4 344.0h0M957.6 346.0h0M958.7 347.9h0M939.0 336.5h0M941.2 336.5h0M943.5 336.5h0M945.7 336.5h0M968.4 285.7h0M970.5 285.7h0M972.9 285.7h0M975.0 285.7h0M1014.1 308.2h0M1015.1 310.1h0M1016.3 312.1h0M1017.4 314.0h0M997.7 302.6h0M999.9 302.6h0M1002.2 302.6h0M1004.4 302.6h0M955.4 297.0h0M956.4 295.2h0M957.6 293.1h0M958.7 291.3h0M997.7 336.5h0M999.9 336.5h0M1002.2 336.5h0M1004.4 336.5h0M955.4 376.0h0M956.4 377.8h0M957.6 379.9h0M958.7 381.7h0M939.0 302.6h0M941.2 302.6h0M943.5 302.6h0M945.7 302.6h0M968.4 353.4h0M970.5 353.4h0M972.9 353.4h0M975.0 353.4h0M1014.1 330.9h0M1015.1 329.0h0M1016.3 327.0h0M1017.4 325.1h0M984.7 325.1h0M985.8 327.0h0M987.0 329.0h0M988.0 330.9h0M968.4 319.6h0M970.5 319.6h0M972.9 319.6h0M975.0 319.6h0M939.0 370.4h0M941.2 370.4h0M943.5 370.4h0M945.7 370.4h0M955.4 330.9h0M956.4 329.0h0M957.6 327.0h0M958.7 325.1h0M926.0 325.1h0M927.1 327.0h0M928.3 329.0h0M929.3 330.9h0M984.7 359.0h0M985.8 360.9h0M987.0 362.9h0M988.0 364.8h0M926.0 359.0h0M927.1 360.9h0M928.3 362.9h0M929.3 364.8h0M984.7 291.3h0M985.8 293.1h0M987.0 295.2h0M988.0 297.0h0M1014.1 364.8h0M1015.1 362.9h0M1016.3 360.9h0M1017.4 359.0h0M955.4 308.2h0M956.4 310.1h0M957.6 312.1h0M958.7 314.0h0M984.7 381.7h0M985.8 379.9h0M987.0 377.8h0M988.0 376.0h0M984.7 314.0h0M985.8 312.1h0M987.0 310.1h0M988.0 308.2h0M1014.1 342.1h0M1015.1 344.0h0M1016.3 346.0h0M1017.4 347.9h0M997.7 370.4h0M999.9 370.4h0M1002.2 370.4h0M1004.4 370.4h0M955.4 364.8h0M956.4 362.9h0M957.6 360.9h0M958.7 359.0h0M984.7 347.9h0M985.8 346.0h0M987.0 344.0h0M988.0 342.1h0M926.0 314.0h0M927.1 312.1h0M928.3 310.1h0M929.3 308.2h0M926.0 347.9h0M927.1 346.0h0M928.3 344.0h0M929.3 342.1h0M968.4 387.3h0M970.5 387.3h0M972.9 387.3h0M975.0 387.3h0" stroke="#353084" stroke-width="3.91" stroke-linecap="round" fill="none"/>
<path d="M1027.7 319.6h0M1028.8 320.9h0M1028.8 318.2h0M1014.3 296.5h0M1016.1 296.2h0M1013.7 294.9h0M985.0 279.6h0M986.7 279.3h0M984.4 277.9h0M958.4 279.6h0M959.0 277.9h0M956.7 279.3h0M929.1 296.5h0M929.7 294.9h0M927.3 296.2h0M915.7 319.6h0M914.6 318.2h0M914.6 320.9h0M915.7 353.4h0M914.6 352.1h0M914.6 354.8h0M929.1 376.5h0M927.3 376.8h0M929.7 378.1h0M958.4 393.4h0M956.7 393.7h0M959.0 395.1h0M985.0 393.4h0M984.4 395.1h0M986.7 393.7h0M1027.7 353.4h0M1028.8 354.8h0M1028.8 352.1h0M1014.3 376.5h0M1013.7 378.1h0M1016.1 376.8h0" stroke="#353084" stroke-width="3.33" stroke-linecap="round" fill="none"/>
<path d="M953.4 338.7h0M954.4 340.4h0M959.7 349.5h0M960.6 351.2h0M935.1 336.5h0M937.1 336.5h0M947.6 336.5h0M949.6 336.5h0M964.5 285.7h0M966.4 285.7h0M977.0 285.7h0M978.9 285.7h0M1012.1 304.8h0M1013.1 306.5h0M1018.4 315.7h0M1019.3 317.4h0M993.8 302.6h0M995.8 302.6h0M1006.3 302.6h0M1008.3 302.6h0M953.4 300.4h0M954.4 298.7h0M959.7 289.6h0M960.6 287.9h0M993.8 336.5h0M995.8 336.5h0M1006.3 336.5h0M1008.3 336.5h0M953.4 372.6h0M954.4 374.3h0M959.7 383.4h0M960.6 385.1h0M935.1 302.6h0M937.1 302.6h0M947.6 302.6h0M949.6 302.6h0M964.5 353.4h0M966.4 353.4h0M977.0 353.4h0M978.9 353.4h0M1012.1 334.3h0M1013.1 332.6h0M1018.4 323.5h0M1019.3 321.8h0M982.8 321.8h0M983.7 323.5h0M989.0 332.6h0M990.0 334.3h0M964.5 319.6h0M966.4 319.6h0M977.0 319.6h0M978.9 319.6h0M935.1 370.4h0M937.1 370.4h0M947.6 370.4h0M949.6 370.4h0M953.4 334.3h0M954.4 332.6h0M959.7 323.5h0M960.6 321.8h0M924.1 321.8h0M925.0 323.5h0M930.3 332.6h0M931.3 334.3h0M982.8 355.6h0M983.7 357.3h0M989.0 366.5h0M990.0 368.2h0M924.1 355.6h0M925.0 357.3h0M930.3 366.5h0M931.3 368.2h0M982.8 287.9h0M983.7 289.6h0M989.0 298.7h0M990.0 300.4h0M1012.1 368.2h0M1013.1 366.5h0M1018.4 357.3h0M1019.3 355.6h0M953.4 304.8h0M954.4 306.5h0M959.7 315.7h0M960.6 317.4h0M982.8 385.1h0M983.7 383.4h0M989.0 374.3h0M990.0 372.6h0M982.8 317.4h0M983.7 315.7h0M989.0 306.5h0M990.0 304.8h0M1012.1 338.7h0M1013.1 340.4h0M1018.4 349.5h0M1019.3 351.2h0M993.8 370.4h0M995.8 370.4h0M1006.3 370.4h0M1008.3 370.4h0M953.4 368.2h0M954.4 366.5h0M959.7 357.3h0M960.6 355.6h0M982.8 351.2h0M983.7 349.5h0M989.0 340.4h0M990.0 338.7h0M924.1 317.4h0M925.0 315.7h0M930.3 306.5h0M931.3 304.8h0M924.1 351.2h0M925.0 349.5h0M930.3 340.4h0M931.3 338.7h0M964.5 387.3h0M966.4 387.3h0M977.0 387.3h0M978.9 387.3h0M1024.5 319.6h0M1012.8 299.2h0M983.4 282.3h0M960.0 282.3h0M930.6 299.2h0M918.9 319.6h0M918.9 353.4h0M930.6 373.8h0M960.0 390.7h0M983.4 390.7h0M1024.5 353.4h0M1012.8 373.8h0" stroke="#c7332d" stroke-width="3.13" stroke-linecap="round" fill="none"/>
<path d="M991.3 336.5h0M981.5 319.6h0M961.9 319.6h0M952.1 336.5h0M961.9 353.4h0M981.5 353.4h0M1020.6 319.6h0M1010.8 302.6h0M991.3 302.6h0M1010.8 336.5h0M981.5 285.7h0M961.9 285.7h0M952.1 302.6h0M932.6 302.6h0M922.8 319.6h0M932.6 336.5h0M922.8 353.4h0M932.6 370.4h0M952.1 370.4h0M991.3 370.4h0M961.9 387.3h0M981.5 387.3h0M1020.6 353.4h0M1010.8 370.4h0" stroke="#c7332d" stroke-width="5.87" stroke-linecap="round" fill="none"/>
<path d="M951.0 336.5L961.4 354.4M930.3 336.5L951.0 336.5M961.4 282.7L982.0 282.7M1013.1 300.7L1023.4 318.6M992.4 300.7L1013.1 300.7M951.0 300.7L961.4 282.7M992.4 336.5L1013.1 336.5M951.0 372.3L961.4 390.3M930.3 300.7L951.0 300.7M961.4 354.4L982.0 354.4M1013.1 336.5L1023.4 318.6M982.0 318.6L992.4 336.5M961.4 318.6L982.0 318.6M930.3 372.3L951.0 372.3M951.0 336.5L961.4 318.6M920.0 318.6L930.3 336.5M982.0 354.4L992.4 372.3M920.0 354.4L930.3 372.3M982.0 282.7L992.4 300.7M1013.1 372.3L1023.4 354.4M951.0 300.7L961.4 318.6M982.0 390.3L992.4 372.3M982.0 318.6L992.4 300.7M1013.1 336.5L1023.4 354.4M992.4 372.3L1013.1 372.3M951.0 372.3L961.4 354.4M982.0 354.4L992.4 336.5M920.0 318.6L930.3 300.7M920.0 354.4L930.3 336.5M961.4 390.3L982.0 390.3" stroke="#512b65" stroke-width="2.69" stroke-linecap="round" fill="none"/>
<path d="M954.4 342.4h0M955.6 344.4h0M956.8 346.5h0M957.9 348.5h0M937.1 336.5h0M939.4 336.5h0M941.9 336.5h0M944.2 336.5h0M968.2 282.7h0M970.5 282.7h0M972.9 282.7h0M975.2 282.7h0M1016.5 306.6h0M1017.6 308.5h0M1018.9 310.7h0M1020.0 312.7h0M999.2 300.7h0M1001.5 300.7h0M1004.0 300.7h0M1006.3 300.7h0M954.4 294.7h0M955.6 292.8h0M956.8 290.6h0M957.9 288.7h0M999.2 336.5h0M1001.5 336.5h0M1004.0 336.5h0M1006.3 336.5h0M954.4 378.3h0M955.6 380.2h0M956.8 382.4h0M957.9 384.3h0M937.1 300.7h0M939.4 300.7h0M941.9 300.7h0M944.2 300.7h0M968.2 354.4h0M970.5 354.4h0M972.9 354.4h0M975.2 354.4h0M1016.5 330.6h0M1017.6 328.6h0M1018.9 326.5h0M1020.0 324.5h0M985.5 324.5h0M986.6 326.5h0M987.8 328.6h0M989.0 330.6h0M968.2 318.6h0M970.5 318.6h0M972.9 318.6h0M975.2 318.6h0M937.1 372.3h0M939.4 372.3h0M941.9 372.3h0M944.2 372.3h0M954.4 330.6h0M955.6 328.6h0M956.8 326.5h0M957.9 324.5h0M923.4 324.5h0M924.5 326.5h0M925.8 328.6h0M926.9 330.6h0M985.5 360.3h0M986.6 362.3h0M987.8 364.5h0M989.0 366.4h0M923.4 360.3h0M924.5 362.3h0M925.8 364.5h0M926.9 366.4h0M985.5 288.7h0M986.6 290.6h0M987.8 292.8h0M989.0 294.7h0M1016.5 366.4h0M1017.6 364.5h0M1018.9 362.3h0M1020.0 360.3h0M954.4 306.6h0M955.6 308.5h0M956.8 310.7h0M957.9 312.7h0M985.5 384.3h0M986.6 382.4h0M987.8 380.2h0M989.0 378.3h0M985.5 312.7h0M986.6 310.7h0M987.8 308.5h0M989.0 306.6h0M1016.5 342.4h0M1017.6 344.4h0M1018.9 346.5h0M1020.0 348.5h0M999.2 372.3h0M1001.5 372.3h0M1004.0 372.3h0M1006.3 372.3h0M954.4 366.4h0M955.6 364.5h0M956.8 362.3h0M957.9 360.3h0M985.5 348.5h0M986.6 346.5h0M987.8 344.4h0M989.0 342.4h0M923.4 312.7h0M924.5 310.7h0M925.8 308.5h0M926.9 306.6h0M923.4 348.5h0M924.5 346.5h0M925.8 344.4h0M926.9 342.4h0M968.2 390.3h0M970.5 390.3h0M972.9 390.3h0M975.2 390.3h0" stroke="#373188" stroke-width="4.14" stroke-linecap="round" fill="none"/>
<path d="M1030.9 318.6h0M1032.1 320.0h0M1032.1 317.2h0M1016.8 294.2h0M1018.6 293.9h0M1016.2 292.5h0M985.8 276.3h0M987.6 276.0h0M985.1 274.5h0M957.6 276.3h0M958.3 274.5h0M955.8 276.0h0M926.6 294.2h0M927.2 292.5h0M924.8 293.9h0M912.5 318.6h0M911.3 317.2h0M911.3 320.0h0M912.5 354.4h0M911.3 353.0h0M911.3 355.8h0M926.6 378.8h0M924.8 379.1h0M927.2 380.5h0M957.6 396.7h0M955.8 397.0h0M958.3 398.5h0M985.8 396.7h0M985.1 398.5h0M987.6 397.0h0M1030.9 354.4h0M1032.1 355.8h0M1032.1 353.0h0M1016.8 378.8h0M1016.2 380.5h0M1018.6 379.1h0" stroke="#373188" stroke-width="3.52" stroke-linecap="round" fill="none"/>
<path d="M952.4 338.8h0M953.4 340.6h0M959.0 350.3h0M960.0 352.1h0M933.0 336.5h0M935.1 336.5h0M946.2 336.5h0M948.3 336.5h0M964.0 282.7h0M966.1 282.7h0M977.3 282.7h0M979.4 282.7h0M1014.4 303.0h0M1015.5 304.8h0M1021.1 314.5h0M1022.1 316.3h0M995.1 300.7h0M997.2 300.7h0M1008.3 300.7h0M1010.4 300.7h0M952.4 298.3h0M953.4 296.5h0M959.0 286.9h0M960.0 285.1h0M995.1 336.5h0M997.2 336.5h0M1008.3 336.5h0M1010.4 336.5h0M952.4 374.7h0M953.4 376.5h0M959.0 386.1h0M960.0 387.9h0M933.0 300.7h0M935.1 300.7h0M946.2 300.7h0M948.3 300.7h0M964.0 354.4h0M966.1 354.4h0M977.3 354.4h0M979.4 354.4h0M1014.4 334.2h0M1015.5 332.4h0M1021.1 322.7h0M1022.1 320.9h0M983.4 320.9h0M984.4 322.7h0M990.0 332.4h0M991.0 334.2h0M964.0 318.6h0M966.1 318.6h0M977.3 318.6h0M979.4 318.6h0M933.0 372.3h0M935.1 372.3h0M946.2 372.3h0M948.3 372.3h0M952.4 334.2h0M953.4 332.4h0M959.0 322.7h0M960.0 320.9h0M921.3 320.9h0M922.3 322.7h0M927.9 332.4h0M929.0 334.2h0M983.4 356.7h0M984.4 358.5h0M990.0 368.2h0M991.0 370.0h0M921.3 356.7h0M922.3 358.5h0M927.9 368.2h0M929.0 370.0h0M983.4 285.1h0M984.4 286.9h0M990.0 296.5h0M991.0 298.3h0M1014.4 370.0h0M1015.5 368.2h0M1021.1 358.5h0M1022.1 356.7h0M952.4 303.0h0M953.4 304.8h0M959.0 314.5h0M960.0 316.3h0M983.4 387.9h0M984.4 386.1h0M990.0 376.5h0M991.0 374.7h0M983.4 316.3h0M984.4 314.5h0M990.0 304.8h0M991.0 303.0h0M1014.4 338.8h0M1015.5 340.6h0M1021.1 350.3h0M1022.1 352.1h0M995.1 372.3h0M997.2 372.3h0M1008.3 372.3h0M1010.4 372.3h0M952.4 370.0h0M953.4 368.2h0M959.0 358.5h0M960.0 356.7h0M983.4 352.1h0M984.4 350.3h0M990.0 340.6h0M991.0 338.8h0M921.3 316.3h0M922.3 314.5h0M927.9 304.8h0M929.0 303.0h0M921.3 352.1h0M922.3 350.3h0M927.9 340.6h0M929.0 338.8h0M964.0 390.3h0M966.1 390.3h0M977.3 390.3h0M979.4 390.3h0M1027.6 318.6h0M1015.2 297.1h0M984.1 279.2h0M959.3 279.2h0M928.2 297.1h0M915.8 318.6h0M915.8 354.4h0M928.2 375.9h0M959.3 393.8h0M984.1 393.8h0M1027.6 354.4h0M1015.2 375.9h0" stroke="#cd342e" stroke-width="3.31" stroke-linecap="round" fill="none"/>
<path d="M992.4 336.5h0M982.0 318.6h0M961.4 318.6h0M951.0 336.5h0M961.4 354.4h0M982.0 354.4h0M1023.4 318.6h0M1013.1 300.7h0M992.4 300.7h0M1013.1 336.5h0M982.0 282.7h0M961.4 282.7h0M951.0 300.7h0M930.3 300.7h0M920.0 318.6h0M930.3 336.5h0M920.0 354.4h0M930.3 372.3h0M951.0 372.3h0M992.4 372.3h0M961.4 390.3h0M982.0 390.3h0M1023.4 354.4h0M1013.1 372.3h0" stroke="#cd342e" stroke-width="6.21" stroke-linecap="round" fill="none"/>
<path d="M949.7 336.5L960.7 355.5M927.8 336.5L949.7 336.5M960.7 279.5L982.7 279.5M1015.6 298.5L1026.6 317.5M993.7 298.5L1015.6 298.5M949.7 298.5L960.7 279.5M993.7 336.5L1015.6 336.5M949.7 374.5L960.7 393.5M927.8 298.5L949.7 298.5M960.7 355.5L982.7 355.5M1015.6 336.5L1026.6 317.5M982.7 317.5L993.7 336.5M960.7 317.5L982.7 317.5M927.8 374.5L949.7 374.5M949.7 336.5L960.7 317.5M916.8 317.5L927.8 336.5M982.7 355.5L993.7 374.5M916.8 355.5L927.8 374.5M982.7 279.5L993.7 298.5M1015.6 374.5L1026.6 355.5M949.7 298.5L960.7 317.5M982.7 393.5L993.7 374.5M982.7 317.5L993.7 298.5M1015.6 336.5L1026.6 355.5M993.7 374.5L1015.6 374.5M949.7 374.5L960.7 355.5M982.7 355.5L993.7 336.5M916.8 317.5L927.8 298.5M916.8 355.5L927.8 336.5M960.7 393.5L982.7 393.5" stroke="#532c68" stroke-width="2.85" stroke-linecap="round" fill="none"/>
<path d="M953.4 342.8h0M954.6 344.9h0M955.9 347.1h0M957.1 349.2h0M935.0 336.5h0M937.4 336.5h0M940.1 336.5h0M942.5 336.5h0M968.0 279.5h0M970.4 279.5h0M973.0 279.5h0M975.4 279.5h0M1019.2 304.7h0M1020.4 306.8h0M1021.8 309.1h0M1023.0 311.2h0M1000.9 298.5h0M1003.3 298.5h0M1006.0 298.5h0M1008.4 298.5h0M953.4 292.2h0M954.6 290.1h0M955.9 287.8h0M957.1 285.7h0M1000.9 336.5h0M1003.3 336.5h0M1006.0 336.5h0M1008.4 336.5h0M953.4 380.8h0M954.6 382.9h0M955.9 385.2h0M957.1 387.3h0M935.0 298.5h0M937.4 298.5h0M940.1 298.5h0M942.5 298.5h0M968.0 355.5h0M970.4 355.5h0M973.0 355.5h0M975.4 355.5h0M1019.2 330.2h0M1020.4 328.1h0M1021.8 325.9h0M1023.0 323.8h0M986.3 323.8h0M987.5 325.9h0M988.8 328.1h0M990.0 330.2h0M968.0 317.5h0M970.4 317.5h0M973.0 317.5h0M975.4 317.5h0M935.0 374.5h0M937.4 374.5h0M940.1 374.5h0M942.5 374.5h0M953.4 330.2h0M954.6 328.1h0M955.9 325.9h0M957.1 323.8h0M920.4 323.8h0M921.6 325.9h0M923.0 328.1h0M924.2 330.2h0M986.3 361.8h0M987.5 363.9h0M988.8 366.2h0M990.0 368.3h0M920.4 361.8h0M921.6 363.9h0M923.0 366.2h0M924.2 368.3h0M986.3 285.7h0M987.5 287.8h0M988.8 290.1h0M990.0 292.2h0M1019.2 368.3h0M1020.4 366.2h0M1021.8 363.9h0M1023.0 361.8h0M953.4 304.7h0M954.6 306.8h0M955.9 309.1h0M957.1 311.2h0M986.3 387.3h0M987.5 385.2h0M988.8 382.9h0M990.0 380.8h0M986.3 311.2h0M987.5 309.1h0M988.8 306.8h0M990.0 304.7h0M1019.2 342.8h0M1020.4 344.9h0M1021.8 347.1h0M1023.0 349.2h0M1000.9 374.5h0M1003.3 374.5h0M1006.0 374.5h0M1008.4 374.5h0M953.4 368.3h0M954.6 366.2h0M955.9 363.9h0M957.1 361.8h0M986.3 349.2h0M987.5 347.1h0M988.8 344.9h0M990.0 342.8h0M920.4 311.2h0M921.6 309.1h0M923.0 306.8h0M924.2 304.7h0M920.4 349.2h0M921.6 347.1h0M923.0 344.9h0M924.2 342.8h0M968.0 393.5h0M970.4 393.5h0M973.0 393.5h0M975.4 393.5h0" stroke="#38338b" stroke-width="4.39" stroke-linecap="round" fill="none"/>
<path d="M1034.5 317.5h0M1035.8 319.0h0M1035.8 316.0h0M1019.6 291.6h0M1021.5 291.3h0M1018.9 289.8h0M986.6 272.6h0M988.6 272.3h0M986.0 270.7h0M956.8 272.6h0M957.4 270.7h0M954.8 272.3h0M923.8 291.6h0M924.5 289.8h0M921.9 291.3h0M908.9 317.5h0M907.6 316.0h0M907.6 319.0h0M908.9 355.5h0M907.6 354.0h0M907.6 357.0h0M923.8 381.4h0M921.9 381.7h0M924.5 383.2h0M956.8 400.4h0M954.8 400.7h0M957.4 402.3h0M986.6 400.4h0M986.0 402.3h0M988.6 400.7h0M1034.5 355.5h0M1035.8 357.0h0M1035.8 354.0h0M1019.6 381.4h0M1018.9 383.2h0M1021.5 381.7h0" stroke="#38338b" stroke-width="3.73" stroke-linecap="round" fill="none"/>
<path d="M951.2 339.0h0M952.3 340.9h0M958.2 351.1h0M959.3 353.0h0M930.6 336.5h0M932.8 336.5h0M944.7 336.5h0M946.9 336.5h0M963.6 279.5h0M965.8 279.5h0M977.6 279.5h0M979.8 279.5h0M1017.0 300.9h0M1018.1 302.8h0M1024.1 313.1h0M1025.2 315.0h0M996.5 298.5h0M998.7 298.5h0M1010.6 298.5h0M1012.8 298.5h0M951.2 296.0h0M952.3 294.1h0M958.2 283.8h0M959.3 281.9h0M996.5 336.5h0M998.7 336.5h0M1010.6 336.5h0M1012.8 336.5h0M951.2 377.0h0M952.3 378.9h0M958.2 389.2h0M959.3 391.1h0M930.6 298.5h0M932.8 298.5h0M944.7 298.5h0M946.9 298.5h0M963.6 355.5h0M965.8 355.5h0M977.6 355.5h0M979.8 355.5h0M1017.0 334.0h0M1018.1 332.1h0M1024.1 321.9h0M1025.2 320.0h0M984.1 320.0h0M985.2 321.9h0M991.1 332.1h0M992.2 334.0h0M963.6 317.5h0M965.8 317.5h0M977.6 317.5h0M979.8 317.5h0M930.6 374.5h0M932.8 374.5h0M944.7 374.5h0M946.9 374.5h0M951.2 334.0h0M952.3 332.1h0M958.2 321.9h0M959.3 320.0h0M918.2 320.0h0M919.3 321.9h0M925.3 332.1h0M926.4 334.0h0M984.1 358.0h0M985.2 359.9h0M991.1 370.2h0M992.2 372.1h0M918.2 358.0h0M919.3 359.9h0M925.3 370.2h0M926.4 372.1h0M984.1 281.9h0M985.2 283.8h0M991.1 294.1h0M992.2 296.0h0M1017.0 372.1h0M1018.1 370.2h0M1024.1 359.9h0M1025.2 358.0h0M951.2 300.9h0M952.3 302.8h0M958.2 313.1h0M959.3 315.0h0M984.1 391.1h0M985.2 389.2h0M991.1 378.9h0M992.2 377.0h0M984.1 315.0h0M985.2 313.1h0M991.1 302.8h0M992.2 300.9h0M1017.0 339.0h0M1018.1 340.9h0M1024.1 351.1h0M1025.2 353.0h0M996.5 374.5h0M998.7 374.5h0M1010.6 374.5h0M1012.8 374.5h0M951.2 372.1h0M952.3 370.2h0M958.2 359.9h0M959.3 358.0h0M984.1 353.0h0M985.2 351.1h0M991.1 340.9h0M992.2 339.0h0M918.2 315.0h0M919.3 313.1h0M925.3 302.8h0M926.4 300.9h0M918.2 353.0h0M919.3 351.1h0M925.3 340.9h0M926.4 339.0h0M963.6 393.5h0M965.8 393.5h0M977.6 393.5h0M979.8 393.5h0M1031.0 317.5h0M1017.8 294.7h0M984.9 275.6h0M958.5 275.6h0M925.6 294.7h0M912.4 317.5h0M912.4 355.5h0M925.6 378.3h0M958.5 397.4h0M984.9 397.4h0M1031.0 355.5h0M1017.8 378.3h0" stroke="#d2352f" stroke-width="3.51" stroke-linecap="round" fill="none"/>
<path d="M993.7 336.5h0M982.7 317.5h0M960.7 317.5h0M949.7 336.5h0M960.7 355.5h0M982.7 355.5h0M1026.6 317.5h0M1015.6 298.5h0M993.7 298.5h0M1015.6 336.5h0M982.7 279.5h0M960.7 279.5h0M949.7 298.5h0M927.8 298.5h0M916.8 317.5h0M927.8 336.5h0M916.8 355.5h0M927.8 374.5h0M949.7 374.5h0M993.7 374.5h0M960.7 393.5h0M982.7 393.5h0M1026.6 355.5h0M1015.6 374.5h0" stroke="#d2352f" stroke-width="6.59" stroke-linecap="round" fill="none"/>
<path d="M948.3 336.5L960.0 356.8M924.9 336.5L948.3 336.5M960.0 275.7L983.4 275.7M1018.5 296.0L1030.2 316.2M995.1 296.0L1018.5 296.0M948.3 296.0L960.0 275.7M995.1 336.5L1018.5 336.5M948.3 377.0L960.0 397.3M924.9 296.0L948.3 296.0M960.0 356.8L983.4 356.8M1018.5 336.5L1030.2 316.2M983.4 316.2L995.1 336.5M960.0 316.2L983.4 316.2M924.9 377.0L948.3 377.0M948.3 336.5L960.0 316.2M913.2 316.2L924.9 336.5M983.4 356.8L995.1 377.0M913.2 356.8L924.9 377.0M983.4 275.7L995.1 296.0M1018.5 377.0L1030.2 356.8M948.3 296.0L960.0 316.2M983.4 397.3L995.1 377.0M983.4 316.2L995.1 296.0M1018.5 336.5L1030.2 356.8M995.1 377.0L1018.5 377.0M948.3 377.0L960.0 356.8M983.4 356.8L995.1 336.5M913.2 316.2L924.9 296.0M913.2 356.8L924.9 336.5M960.0 397.3L983.4 397.3" stroke="#552d6a" stroke-width="3.04" stroke-linecap="round" fill="none"/>
<path d="M952.2 343.2h0M953.5 345.4h0M954.9 347.8h0M956.1 350.1h0M932.6 336.5h0M935.2 336.5h0M938.0 336.5h0M940.6 336.5h0M967.7 275.7h0M970.3 275.7h0M973.1 275.7h0M975.7 275.7h0M1022.3 302.7h0M1023.6 304.9h0M1025.0 307.3h0M1026.3 309.6h0M1002.8 296.0h0M1005.4 296.0h0M1008.2 296.0h0M1010.8 296.0h0M952.2 289.3h0M953.5 287.1h0M954.9 284.6h0M956.1 282.4h0M1002.8 336.5h0M1005.4 336.5h0M1008.2 336.5h0M1010.8 336.5h0M952.2 383.7h0M953.5 385.9h0M954.9 388.4h0M956.1 390.6h0M932.6 296.0h0M935.2 296.0h0M938.0 296.0h0M940.6 296.0h0M967.7 356.8h0M970.3 356.8h0M973.1 356.8h0M975.7 356.8h0M1022.3 329.8h0M1023.6 327.6h0M1025.0 325.2h0M1026.3 322.9h0M987.3 322.9h0M988.5 325.2h0M989.9 327.6h0M991.2 329.8h0M967.7 316.2h0M970.3 316.2h0M973.1 316.2h0M975.7 316.2h0M932.6 377.0h0M935.2 377.0h0M938.0 377.0h0M940.6 377.0h0M952.2 329.8h0M953.5 327.6h0M954.9 325.2h0M956.1 322.9h0M917.1 322.9h0M918.4 325.2h0M919.8 327.6h0M921.1 329.8h0M987.3 363.4h0M988.5 365.7h0M989.9 368.1h0M991.2 370.3h0M917.1 363.4h0M918.4 365.7h0M919.8 368.1h0M921.1 370.3h0M987.3 282.4h0M988.5 284.6h0M989.9 287.1h0M991.2 289.3h0M1022.3 370.3h0M1023.6 368.1h0M1025.0 365.7h0M1026.3 363.4h0M952.2 302.7h0M953.5 304.9h0M954.9 307.3h0M956.1 309.6h0M987.3 390.6h0M988.5 388.4h0M989.9 385.9h0M991.2 383.7h0M987.3 309.6h0M988.5 307.3h0M989.9 304.9h0M991.2 302.7h0M1022.3 343.2h0M1023.6 345.4h0M1025.0 347.8h0M1026.3 350.1h0M1002.8 377.0h0M1005.4 377.0h0M1008.2 377.0h0M1010.8 377.0h0M952.2 370.3h0M953.5 368.1h0M954.9 365.7h0M956.1 363.4h0M987.3 350.1h0M988.5 347.8h0M989.9 345.4h0M991.2 343.2h0M917.1 309.6h0M918.4 307.3h0M919.8 304.9h0M921.1 302.7h0M917.1 350.1h0M918.4 347.8h0M919.8 345.4h0M921.1 343.2h0M967.7 397.3h0M970.3 397.3h0M973.1 397.3h0M975.7 397.3h0" stroke="#3a348f" stroke-width="4.68" stroke-linecap="round" fill="none"/>
<path d="M1038.6 316.2h0M1040.0 317.9h0M1040.0 314.6h0M1022.7 288.7h0M1024.8 288.3h0M1022.0 286.7h0M987.6 268.4h0M989.7 268.1h0M986.9 266.5h0M955.8 268.4h0M956.5 266.5h0M953.7 268.1h0M920.7 288.7h0M921.4 286.7h0M918.6 288.3h0M904.8 316.2h0M903.4 314.6h0M903.4 317.9h0M904.8 356.8h0M903.4 355.1h0M903.4 358.4h0M920.7 384.3h0M918.6 384.7h0M921.4 386.3h0M955.8 404.6h0M953.7 404.9h0M956.5 406.5h0M987.6 404.6h0M986.9 406.5h0M989.7 404.9h0M1038.6 356.8h0M1040.0 358.4h0M1040.0 355.1h0M1022.7 384.3h0M1022.0 386.3h0M1024.8 384.7h0" stroke="#3a348f" stroke-width="3.98" stroke-linecap="round" fill="none"/>
<path d="M949.8 339.1h0M951.0 341.2h0M957.3 352.1h0M958.5 354.1h0M928.0 336.5h0M930.3 336.5h0M942.9 336.5h0M945.3 336.5h0M963.0 275.7h0M965.4 275.7h0M978.0 275.7h0M980.4 275.7h0M1020.0 298.6h0M1021.2 300.6h0M1027.5 311.6h0M1028.7 313.6h0M998.1 296.0h0M1000.5 296.0h0M1013.1 296.0h0M1015.4 296.0h0M949.8 293.4h0M951.0 291.3h0M957.3 280.4h0M958.5 278.4h0M998.1 336.5h0M1000.5 336.5h0M1013.1 336.5h0M1015.4 336.5h0M949.8 379.6h0M951.0 381.7h0M957.3 392.6h0M958.5 394.6h0M928.0 296.0h0M930.3 296.0h0M942.9 296.0h0M945.3 296.0h0M963.0 356.8h0M965.4 356.8h0M978.0 356.8h0M980.4 356.8h0M1020.0 333.9h0M1021.2 331.8h0M1027.5 320.9h0M1028.7 318.9h0M984.9 318.9h0M986.1 320.9h0M992.4 331.8h0M993.6 333.9h0M963.0 316.2h0M965.4 316.2h0M978.0 316.2h0M980.4 316.2h0M928.0 377.0h0M930.3 377.0h0M942.9 377.0h0M945.3 377.0h0M949.8 333.9h0M951.0 331.8h0M957.3 320.9h0M958.5 318.9h0M914.7 318.9h0M915.9 320.9h0M922.2 331.8h0M923.4 333.9h0M984.9 359.4h0M986.1 361.4h0M992.4 372.4h0M993.6 374.4h0M914.7 359.4h0M915.9 361.4h0M922.2 372.4h0M923.4 374.4h0M984.9 278.4h0M986.1 280.4h0M992.4 291.3h0M993.6 293.4h0M1020.0 374.4h0M1021.2 372.4h0M1027.5 361.4h0M1028.7 359.4h0M949.8 298.6h0M951.0 300.6h0M957.3 311.6h0M958.5 313.6h0M984.9 394.6h0M986.1 392.6h0M992.4 381.7h0M993.6 379.6h0M984.9 313.6h0M986.1 311.6h0M992.4 300.6h0M993.6 298.6h0M1020.0 339.1h0M1021.2 341.2h0M1027.5 352.1h0M1028.7 354.1h0M998.1 377.0h0M1000.5 377.0h0M1013.1 377.0h0M1015.4 377.0h0M949.8 374.4h0M951.0 372.4h0M957.3 361.4h0M958.5 359.4h0M984.9 354.1h0M986.1 352.1h0M992.4 341.2h0M993.6 339.1h0M914.7 313.6h0M915.9 311.6h0M922.2 300.6h0M923.4 298.6h0M914.7 354.1h0M915.9 352.1h0M922.2 341.2h0M923.4 339.1h0M963.0 397.3h0M965.4 397.3h0M978.0 397.3h0M980.4 397.3h0M1034.9 316.2h0M1020.8 291.9h0M985.7 271.7h0M957.7 271.7h0M922.6 291.9h0M908.5 316.2h0M908.5 356.8h0M922.6 381.1h0M957.7 401.3h0M985.7 401.3h0M1034.9 356.8h0M1020.8 381.1h0" stroke="#d73730" stroke-width="3.74" stroke-linecap="round" fill="none"/>
<path d="M995.1 336.5h0M983.4 316.2h0M960.0 316.2h0M948.3 336.5h0M960.0 356.8h0M983.4 356.8h0M1030.2 316.2h0M1018.5 296.0h0M995.1 296.0h0M1018.5 336.5h0M983.4 275.7h0M960.0 275.7h0M948.3 296.0h0M924.9 296.0h0M913.2 316.2h0M924.9 336.5h0M913.2 356.8h0M924.9 377.0h0M948.3 377.0h0M995.1 377.0h0M960.0 397.3h0M983.4 397.3h0M1030.2 356.8h0M1018.5 377.0h0" stroke="#d73730" stroke-width="7.02" stroke-linecap="round" fill="none"/>
<path d="M946.7 336.5L959.2 358.2M921.7 336.5L946.7 336.5M959.2 271.5L984.2 271.5M1021.7 293.2L1034.3 314.8M996.7 293.2L1021.7 293.2M946.7 293.2L959.2 271.5M996.7 336.5L1021.7 336.5M946.7 379.8L959.2 401.5M921.7 293.2L946.7 293.2M959.2 358.2L984.2 358.2M1021.7 336.5L1034.3 314.8M984.2 314.8L996.7 336.5M959.2 314.8L984.2 314.8M921.7 379.8L946.7 379.8M946.7 336.5L959.2 314.8M909.1 314.8L921.7 336.5M984.2 358.2L996.7 379.8M909.1 358.2L921.7 379.8M984.2 271.5L996.7 293.2M1021.7 379.8L1034.3 358.2M946.7 293.2L959.2 314.8M984.2 401.5L996.7 379.8M984.2 314.8L996.7 293.2M1021.7 336.5L1034.3 358.2M996.7 379.8L1021.7 379.8M946.7 379.8L959.2 358.2M984.2 358.2L996.7 336.5M909.1 314.8L921.7 293.2M909.1 358.2L921.7 336.5M959.2 401.5L984.2 401.5" stroke="#572e6d" stroke-width="3.25" stroke-linecap="round" fill="none"/>
<path d="M950.8 343.7h0M952.2 346.0h0M953.7 348.6h0M955.1 351.0h0M929.9 336.5h0M932.7 336.5h0M935.7 336.5h0M938.4 336.5h0M967.4 271.5h0M970.2 271.5h0M973.2 271.5h0M976.0 271.5h0M1025.9 300.3h0M1027.3 302.7h0M1028.8 305.3h0M1030.1 307.7h0M1005.0 293.2h0M1007.7 293.2h0M1010.7 293.2h0M1013.5 293.2h0M950.8 286.0h0M952.2 283.6h0M953.7 281.0h0M955.1 278.6h0M1005.0 336.5h0M1007.7 336.5h0M1010.7 336.5h0M1013.5 336.5h0M950.8 387.0h0M952.2 389.4h0M953.7 392.0h0M955.1 394.4h0M929.9 293.2h0M932.7 293.2h0M935.7 293.2h0M938.4 293.2h0M967.4 358.2h0M970.2 358.2h0M973.2 358.2h0M976.0 358.2h0M1025.9 329.3h0M1027.3 327.0h0M1028.8 324.4h0M1030.1 322.0h0M988.3 322.0h0M989.7 324.4h0M991.2 327.0h0M992.6 329.3h0M967.4 314.8h0M970.2 314.8h0M973.2 314.8h0M976.0 314.8h0M929.9 379.8h0M932.7 379.8h0M935.7 379.8h0M938.4 379.8h0M950.8 329.3h0M952.2 327.0h0M953.7 324.4h0M955.1 322.0h0M913.3 322.0h0M914.6 324.4h0M916.1 327.0h0M917.5 329.3h0M988.3 365.3h0M989.7 367.7h0M991.2 370.3h0M992.6 372.7h0M913.3 365.3h0M914.6 367.7h0M916.1 370.3h0M917.5 372.7h0M988.3 278.6h0M989.7 281.0h0M991.2 283.6h0M992.6 286.0h0M1025.9 372.7h0M1027.3 370.3h0M1028.8 367.7h0M1030.1 365.3h0M950.8 300.3h0M952.2 302.7h0M953.7 305.3h0M955.1 307.7h0M988.3 394.4h0M989.7 392.0h0M991.2 389.4h0M992.6 387.0h0M988.3 307.7h0M989.7 305.3h0M991.2 302.7h0M992.6 300.3h0M1025.9 343.7h0M1027.3 346.0h0M1028.8 348.6h0M1030.1 351.0h0M1005.0 379.8h0M1007.7 379.8h0M1010.7 379.8h0M1013.5 379.8h0M950.8 372.7h0M952.2 370.3h0M953.7 367.7h0M955.1 365.3h0M988.3 351.0h0M989.7 348.6h0M991.2 346.0h0M992.6 343.7h0M913.3 307.7h0M914.6 305.3h0M916.1 302.7h0M917.5 300.3h0M913.3 351.0h0M914.6 348.6h0M916.1 346.0h0M917.5 343.7h0M967.4 401.5h0M970.2 401.5h0M973.2 401.5h0M976.0 401.5h0" stroke="#3b3592" stroke-width="5.00" stroke-linecap="round" fill="none"/>
<path d="M1043.3 314.8h0M1044.7 316.6h0M1044.7 313.1h0M1026.3 285.4h0M1028.5 285.0h0M1025.5 283.2h0M988.7 263.7h0M990.9 263.3h0M987.9 261.6h0M954.7 263.7h0M955.5 261.6h0M952.5 263.3h0M917.1 285.4h0M917.9 283.2h0M914.9 285.0h0M900.1 314.8h0M898.7 313.1h0M898.7 316.6h0M900.1 358.2h0M898.7 356.4h0M898.7 359.9h0M917.1 387.6h0M914.9 388.0h0M917.9 389.8h0M954.7 409.3h0M952.5 409.7h0M955.5 411.4h0M988.7 409.3h0M987.9 411.4h0M990.9 409.7h0M1043.3 358.2h0M1044.7 359.9h0M1044.7 356.4h0M1026.3 387.6h0M1025.5 389.8h0M1028.5 388.0h0" stroke="#3b3592" stroke-width="4.25" stroke-linecap="round" fill="none"/>
<path d="M948.3 339.3h0M949.6 341.5h0M956.3 353.2h0M957.6 355.4h0M924.9 336.5h0M927.4 336.5h0M940.9 336.5h0M943.4 336.5h0M962.4 271.5h0M964.9 271.5h0M978.5 271.5h0M981.0 271.5h0M1023.4 296.0h0M1024.6 298.1h0M1031.4 309.8h0M1032.6 312.0h0M1000.0 293.2h0M1002.5 293.2h0M1016.0 293.2h0M1018.5 293.2h0M948.3 290.3h0M949.6 288.2h0M956.3 276.5h0M957.6 274.3h0M1000.0 336.5h0M1002.5 336.5h0M1016.0 336.5h0M1018.5 336.5h0M948.3 382.7h0M949.6 384.8h0M956.3 396.5h0M957.6 398.7h0M924.9 293.2h0M927.4 293.2h0M940.9 293.2h0M943.4 293.2h0M962.4 358.2h0M964.9 358.2h0M978.5 358.2h0M981.0 358.2h0M1023.4 333.7h0M1024.6 331.5h0M1031.4 319.8h0M1032.6 317.6h0M985.8 317.6h0M987.1 319.8h0M993.8 331.5h0M995.1 333.7h0M962.4 314.8h0M964.9 314.8h0M978.5 314.8h0M981.0 314.8h0M924.9 379.8h0M927.4 379.8h0M940.9 379.8h0M943.4 379.8h0M948.3 333.7h0M949.6 331.5h0M956.3 319.8h0M957.6 317.6h0M910.8 317.6h0M912.0 319.8h0M918.8 331.5h0M920.0 333.7h0M985.8 361.0h0M987.1 363.2h0M993.8 374.9h0M995.1 377.0h0M910.8 361.0h0M912.0 363.2h0M918.8 374.9h0M920.0 377.0h0M985.8 274.3h0M987.1 276.5h0M993.8 288.2h0M995.1 290.3h0M1023.4 377.0h0M1024.6 374.9h0M1031.4 363.2h0M1032.6 361.0h0M948.3 296.0h0M949.6 298.1h0M956.3 309.8h0M957.6 312.0h0M985.8 398.7h0M987.1 396.5h0M993.8 384.8h0M995.1 382.7h0M985.8 312.0h0M987.1 309.8h0M993.8 298.1h0M995.1 296.0h0M1023.4 339.3h0M1024.6 341.5h0M1031.4 353.2h0M1032.6 355.4h0M1000.0 379.8h0M1002.5 379.8h0M1016.0 379.8h0M1018.5 379.8h0M948.3 377.0h0M949.6 374.9h0M956.3 363.2h0M957.6 361.0h0M985.8 355.4h0M987.1 353.2h0M993.8 341.5h0M995.1 339.3h0M910.8 312.0h0M912.0 309.8h0M918.8 298.1h0M920.0 296.0h0M910.8 355.4h0M912.0 353.2h0M918.8 341.5h0M920.0 339.3h0M962.4 401.5h0M964.9 401.5h0M978.5 401.5h0M981.0 401.5h0M1039.3 314.8h0M1024.2 288.8h0M986.7 267.2h0M956.7 267.2h0M919.2 288.8h0M904.1 314.8h0M904.1 358.2h0M919.2 384.2h0M956.7 405.8h0M986.7 405.8h0M1039.3 358.2h0M1024.2 384.2h0" stroke="#dc3831" stroke-width="4.00" stroke-linecap="round" fill="none"/>
<path d="M996.7 336.5h0M984.2 314.8h0M959.2 314.8h0M946.7 336.5h0M959.2 358.2h0M984.2 358.2h0M1034.3 314.8h0M1021.7 293.2h0M996.7 293.2h0M1021.7 336.5h0M984.2 271.5h0M959.2 271.5h0M946.7 293.2h0M921.7 293.2h0M909.1 314.8h0M921.7 336.5h0M909.1 358.2h0M921.7 379.8h0M946.7 379.8h0M996.7 379.8h0M959.2 401.5h0M984.2 401.5h0M1034.3 358.2h0M1021.7 379.8h0" stroke="#dc3831" stroke-width="7.51" stroke-linecap="round" fill="none"/>
<path d="M944.8 336.5L958.2 359.8M917.9 336.5L944.8 336.5M958.2 266.6L985.2 266.6M1025.5 289.9L1039.0 313.2M998.6 289.9L1025.5 289.9M944.8 289.9L958.2 266.6M998.6 336.5L1025.5 336.5M944.8 383.1L958.2 406.4M917.9 289.9L944.8 289.9M958.2 359.8L985.2 359.8M1025.5 336.5L1039.0 313.2M985.2 313.2L998.6 336.5M958.2 313.2L985.2 313.2M917.9 383.1L944.8 383.1M944.8 336.5L958.2 313.2M904.5 313.2L917.9 336.5M985.2 359.8L998.6 383.1M904.5 359.8L917.9 383.1M985.2 266.6L998.6 289.9M1025.5 383.1L1039.0 359.8M944.8 289.9L958.2 313.2M985.2 406.4L998.6 383.1M985.2 313.2L998.6 289.9M1025.5 336.5L1039.0 359.8M998.6 383.1L1025.5 383.1M944.8 383.1L958.2 359.8M985.2 359.8L998.6 336.5M904.5 313.2L917.9 289.9M904.5 359.8L917.9 336.5M958.2 406.4L985.2 406.4" stroke="#5a3070" stroke-width="3.50" stroke-linecap="round" fill="none"/>
<path d="M949.2 344.2h0M950.7 346.7h0M952.3 349.5h0M953.8 352.1h0M926.8 336.5h0M929.7 336.5h0M933.0 336.5h0M935.9 336.5h0M967.1 266.6h0M970.1 266.6h0M973.3 266.6h0M976.3 266.6h0M1029.9 297.6h0M1031.4 300.2h0M1033.0 303.0h0M1034.5 305.5h0M1007.5 289.9h0M1010.4 289.9h0M1013.7 289.9h0M1016.6 289.9h0M949.2 282.2h0M950.7 279.7h0M952.3 276.9h0M953.8 274.3h0M1007.5 336.5h0M1010.4 336.5h0M1013.7 336.5h0M1016.6 336.5h0M949.2 390.8h0M950.7 393.3h0M952.3 396.1h0M953.8 398.7h0M926.8 289.9h0M929.7 289.9h0M933.0 289.9h0M935.9 289.9h0M967.1 359.8h0M970.1 359.8h0M973.3 359.8h0M976.3 359.8h0M1029.9 328.8h0M1031.4 326.3h0M1033.0 323.5h0M1034.5 320.9h0M989.6 320.9h0M991.1 323.5h0M992.7 326.3h0M994.2 328.8h0M967.1 313.2h0M970.1 313.2h0M973.3 313.2h0M976.3 313.2h0M926.8 383.1h0M929.7 383.1h0M933.0 383.1h0M935.9 383.1h0M949.2 328.8h0M950.7 326.3h0M952.3 323.5h0M953.8 320.9h0M908.9 320.9h0M910.4 323.5h0M912.0 326.3h0M913.5 328.8h0M989.6 367.5h0M991.1 370.0h0M992.7 372.8h0M994.2 375.4h0M908.9 367.5h0M910.4 370.0h0M912.0 372.8h0M913.5 375.4h0M989.6 274.3h0M991.1 276.9h0M992.7 279.7h0M994.2 282.2h0M1029.9 375.4h0M1031.4 372.8h0M1033.0 370.0h0M1034.5 367.5h0M949.2 297.6h0M950.7 300.2h0M952.3 303.0h0M953.8 305.5h0M989.6 398.7h0M991.1 396.1h0M992.7 393.3h0M994.2 390.8h0M989.6 305.5h0M991.1 303.0h0M992.7 300.2h0M994.2 297.6h0M1029.9 344.2h0M1031.4 346.7h0M1033.0 349.5h0M1034.5 352.1h0M1007.5 383.1h0M1010.4 383.1h0M1013.7 383.1h0M1016.6 383.1h0M949.2 375.4h0M950.7 372.8h0M952.3 370.0h0M953.8 367.5h0M989.6 352.1h0M991.1 349.5h0M992.7 346.7h0M994.2 344.2h0M908.9 305.5h0M910.4 303.0h0M912.0 300.2h0M913.5 297.6h0M908.9 352.1h0M910.4 349.5h0M912.0 346.7h0M913.5 344.2h0M967.1 406.4h0M970.1 406.4h0M973.3 406.4h0M976.3 406.4h0" stroke="#3d3796" stroke-width="5.38" stroke-linecap="round" fill="none"/>
<path d="M1048.6 313.2h0M1050.2 315.1h0M1050.2 311.4h0M1030.3 281.5h0M1032.7 281.1h0M1029.5 279.2h0M990.0 258.2h0M992.4 257.8h0M989.2 256.0h0M953.4 258.2h0M954.2 256.0h0M951.0 257.8h0M913.1 281.5h0M913.9 279.2h0M910.7 281.1h0M894.8 313.2h0M893.2 311.4h0M893.2 315.1h0M894.8 359.8h0M893.2 357.9h0M893.2 361.6h0M913.1 391.5h0M910.7 391.9h0M913.9 393.8h0M953.4 414.8h0M951.0 415.2h0M954.2 417.0h0M990.0 414.8h0M989.2 417.0h0M992.4 415.2h0M1048.6 359.8h0M1050.2 361.6h0M1050.2 357.9h0M1030.3 391.5h0M1029.5 393.8h0M1032.7 391.9h0" stroke="#3d3796" stroke-width="4.57" stroke-linecap="round" fill="none"/>
<path d="M946.5 339.5h0M947.9 341.9h0M955.2 354.4h0M956.5 356.8h0M921.4 336.5h0M924.1 336.5h0M938.6 336.5h0M941.3 336.5h0M961.7 266.6h0M964.4 266.6h0M979.0 266.6h0M981.7 266.6h0M1027.2 292.9h0M1028.6 295.3h0M1035.9 307.8h0M1037.2 310.2h0M1002.1 289.9h0M1004.8 289.9h0M1019.3 289.9h0M1022.0 289.9h0M946.5 286.9h0M947.9 284.6h0M955.2 272.0h0M956.5 269.6h0M1002.1 336.5h0M1004.8 336.5h0M1019.3 336.5h0M1022.0 336.5h0M946.5 386.1h0M947.9 388.4h0M955.2 401.0h0M956.5 403.4h0M921.4 289.9h0M924.1 289.9h0M938.6 289.9h0M941.3 289.9h0M961.7 359.8h0M964.4 359.8h0M979.0 359.8h0M981.7 359.8h0M1027.2 333.5h0M1028.6 331.1h0M1035.9 318.6h0M1037.2 316.2h0M986.9 316.2h0M988.2 318.6h0M995.5 331.1h0M996.9 333.5h0M961.7 313.2h0M964.4 313.2h0M979.0 313.2h0M981.7 313.2h0M921.4 383.1h0M924.1 383.1h0M938.6 383.1h0M941.3 383.1h0M946.5 333.5h0M947.9 331.1h0M955.2 318.6h0M956.5 316.2h0M906.2 316.2h0M907.5 318.6h0M914.8 331.1h0M916.2 333.5h0M986.9 362.8h0M988.2 365.2h0M995.5 377.7h0M996.9 380.1h0M906.2 362.8h0M907.5 365.2h0M914.8 377.7h0M916.2 380.1h0M986.9 269.6h0M988.2 272.0h0M995.5 284.6h0M996.9 286.9h0M1027.2 380.1h0M1028.6 377.7h0M1035.9 365.2h0M1037.2 362.8h0M946.5 292.9h0M947.9 295.3h0M955.2 307.8h0M956.5 310.2h0M986.9 403.4h0M988.2 401.0h0M995.5 388.4h0M996.9 386.1h0M986.9 310.2h0M988.2 307.8h0M995.5 295.3h0M996.9 292.9h0M1027.2 339.5h0M1028.6 341.9h0M1035.9 354.4h0M1037.2 356.8h0M1002.1 383.1h0M1004.8 383.1h0M1019.3 383.1h0M1022.0 383.1h0M946.5 380.1h0M947.9 377.7h0M955.2 365.2h0M956.5 362.8h0M986.9 356.8h0M988.2 354.4h0M995.5 341.9h0M996.9 339.5h0M906.2 310.2h0M907.5 307.8h0M914.8 295.3h0M916.2 292.9h0M906.2 356.8h0M907.5 354.4h0M914.8 341.9h0M916.2 339.5h0M961.7 406.4h0M964.4 406.4h0M979.0 406.4h0M981.7 406.4h0M1044.3 313.2h0M1028.2 285.3h0M987.8 262.0h0M955.6 262.0h0M915.2 285.3h0M899.1 313.2h0M899.1 359.8h0M915.2 387.7h0M955.6 411.0h0M987.8 411.0h0M1044.3 359.8h0M1028.2 387.7h0" stroke="#e23a33" stroke-width="4.30" stroke-linecap="round" fill="none"/>
<path d="M998.6 336.5h0M985.2 313.2h0M958.2 313.2h0M944.8 336.5h0M958.2 359.8h0M985.2 359.8h0M1039.0 313.2h0M1025.5 289.9h0M998.6 289.9h0M1025.5 336.5h0M985.2 266.6h0M958.2 266.6h0M944.8 289.9h0M917.9 289.9h0M904.5 313.2h0M917.9 336.5h0M904.5 359.8h0M917.9 383.1h0M944.8 383.1h0M998.6 383.1h0M958.2 406.4h0M985.2 406.4h0M1039.0 359.8h0M1025.5 383.1h0" stroke="#e23a33" stroke-width="8.07" stroke-linecap="round" fill="none"/>
<path d="M1001.7 334.7h0M998.6 332.9h0M995.5 334.7h0M995.5 338.3h0M998.6 340.1h0M1001.7 338.3h0M988.3 311.4h0M985.2 309.6h0M982.0 311.4h0M982.0 315.0h0M985.2 316.8h0M988.3 315.0h0M961.4 311.4h0M958.2 309.6h0M955.1 311.4h0M955.1 315.0h0M958.2 316.8h0M961.4 315.0h0M947.9 334.7h0M944.8 332.9h0M941.7 334.7h0M941.7 338.3h0M944.8 340.1h0M947.9 338.3h0M961.4 358.0h0M958.2 356.2h0M955.1 358.0h0M955.1 361.6h0M958.2 363.4h0M961.4 361.6h0M988.3 358.0h0M985.2 356.2h0M982.0 358.0h0M982.0 361.6h0M985.2 363.4h0M988.3 361.6h0M1042.1 311.4h0M1039.0 309.6h0M1035.8 311.4h0M1035.8 315.0h0M1039.0 316.8h0M1042.1 315.0h0M1028.6 288.1h0M1025.5 286.3h0M1022.4 288.1h0M1022.4 291.7h0M1025.5 293.5h0M1028.6 291.7h0M1001.7 288.1h0M998.6 286.3h0M995.5 288.1h0M995.5 291.7h0M998.6 293.5h0M1001.7 291.7h0M1028.6 334.7h0M1025.5 332.9h0M1022.4 334.7h0M1022.4 338.3h0M1025.5 340.1h0M1028.6 338.3h0M988.3 264.8h0M985.2 263.0h0M982.0 264.8h0M982.0 268.4h0M985.2 270.2h0M988.3 268.4h0M961.4 264.8h0M958.2 263.0h0M955.1 264.8h0M955.1 268.4h0M958.2 270.2h0M961.4 268.4h0M947.9 288.1h0M944.8 286.3h0M941.7 288.1h0M941.7 291.7h0M944.8 293.5h0M947.9 291.7h0M921.0 288.1h0M917.9 286.3h0M914.8 288.1h0M914.8 291.7h0M917.9 293.5h0M921.0 291.7h0M907.6 311.4h0M904.5 309.6h0M901.3 311.4h0M901.3 315.0h0M904.5 316.8h0M907.6 315.0h0M921.0 334.7h0M917.9 332.9h0M914.8 334.7h0M914.8 338.3h0M917.9 340.1h0M921.0 338.3h0M907.6 358.0h0M904.5 356.2h0M901.3 358.0h0M901.3 361.6h0M904.5 363.4h0M907.6 361.6h0M921.0 381.3h0M917.9 379.5h0M914.8 381.3h0M914.8 384.9h0M917.9 386.7h0M921.0 384.9h0M947.9 381.3h0M944.8 379.5h0M941.7 381.3h0M941.7 384.9h0M944.8 386.7h0M947.9 384.9h0M1001.7 381.3h0M998.6 379.5h0M995.5 381.3h0M995.5 384.9h0M998.6 386.7h0M1001.7 384.9h0M961.4 404.6h0M958.2 402.8h0M955.1 404.6h0M955.1 408.2h0M958.2 410.0h0M961.4 408.2h0M988.3 404.6h0M985.2 402.8h0M982.0 404.6h0M982.0 408.2h0M985.2 410.0h0M988.3 408.2h0M1042.1 358.0h0M1039.0 356.2h0M1035.8 358.0h0M1035.8 361.6h0M1039.0 363.4h0M1042.1 361.6h0M1028.6 381.3h0M1025.5 379.5h0M1022.4 381.3h0M1022.4 384.9h0M1025.5 386.7h0M1028.6 384.9h0" stroke="#e8473d" stroke-width="3.34" stroke-linecap="round" fill="none"/>
<path d="M950.2 345.8h0M952.9 350.5h0M928.7 336.5h0M934.0 336.5h0M969.0 266.6h0M974.4 266.6h0M1030.9 299.2h0M1033.6 303.9h0M1009.4 289.9h0M1014.7 289.9h0M950.2 280.6h0M952.9 275.9h0M1009.4 336.5h0M1014.7 336.5h0M950.2 392.4h0M952.9 397.1h0M928.7 289.9h0M934.0 289.9h0M969.0 359.8h0M974.4 359.8h0M1030.9 327.2h0M1033.6 322.5h0M990.5 322.5h0M993.2 327.2h0M969.0 313.2h0M974.4 313.2h0M928.7 383.1h0M934.0 383.1h0M950.2 327.2h0M952.9 322.5h0M909.8 322.5h0M912.5 327.2h0M990.5 369.1h0M993.2 373.8h0M909.8 369.1h0M912.5 373.8h0M990.5 275.9h0M993.2 280.6h0M1030.9 373.8h0M1033.6 369.1h0M950.2 299.2h0M952.9 303.9h0M990.5 397.1h0M993.2 392.4h0M990.5 303.9h0M993.2 299.2h0M1030.9 345.8h0M1033.6 350.5h0M1009.4 383.1h0M1014.7 383.1h0M950.2 373.8h0M952.9 369.1h0M990.5 350.5h0M993.2 345.8h0M909.8 303.9h0M912.5 299.2h0M909.8 350.5h0M912.5 345.8h0M969.0 406.4h0M974.4 406.4h0" stroke="#443da6" stroke-width="6.72" stroke-linecap="round" fill="none"/>
</g>
<defs><path id="ob1" d="M319.0 741.4L328.3 741.3M178.0 750.5L187.5 750.5M186.4 758.7L191.8 754.5M359.3 748.9L362.5 744.9M333.1 757.4L336.7 753.2M160.6 742.8L164.5 746.7M274.4 757.9L279.9 762.2M192.8 746.4L202.2 746.3M147.3 759.1L157.1 759.0M186.4 758.7L190.8 763.0M127.8 759.3L133.9 755.0M230.4 762.6L235.3 758.3M321.1 749.3L330.7 749.2M230.4 762.6L235.4 767.0M127.8 759.3L131.4 763.5M245.4 766.9L250.2 762.4M201.5 754.4L206.6 750.3M250.2 762.4L260.1 762.3M157.1 759.0L162.8 754.8M303.8 757.7L307.7 753.5M220.5 762.7L230.4 762.6M346.3 753.1L352.6 757.2M157.1 759.0L161.1 763.2M85.0 768.3L95.1 768.2M98.4 759.5L101.7 763.8M132.6 743.1L136.2 746.9M141.3 763.4L147.3 759.1M205.3 767.2L215.4 767.1M172.5 754.7L178.0 750.5M265.5 766.7L275.5 766.6M335.7 766.1L339.3 761.6M161.1 763.2L171.0 763.1M274.4 757.9L278.7 753.7M104.7 743.3L107.9 747.2M258.8 745.8L263.9 749.8M115.1 768.0L125.1 768.0M235.4 767.0L245.4 766.9M145.6 746.9L151.3 742.9M215.4 767.1L220.5 762.7M72.0 764.0L81.9 763.9M289.8 762.1L295.6 766.4M343.6 745.1L349.7 749.0M98.4 759.5L104.9 755.3M244.8 749.9L249.3 745.9M179.2 742.7L188.6 742.6M69.1 759.8L75.9 755.5M347.0 741.2L356.3 741.1M330.7 749.2L334.2 745.2M141.3 763.4L145.2 767.8M317.4 753.4L321.1 749.3M190.8 763.0L200.7 762.9M317.4 753.4L323.3 757.5M215.8 758.5L220.8 754.2M81.9 763.9L88.7 759.6M131.4 763.5L141.3 763.4M92.1 751.3L101.6 751.2M202.2 746.3L206.6 750.3M111.6 763.7L118.0 759.3M216.1 750.2L221.0 746.2M120.7 751.1L130.3 751.0M155.2 767.7L161.1 763.2M279.9 762.2L289.8 762.1M173.9 746.6L178.0 750.5M315.3 745.3L321.1 749.3M117.3 747.1L123.3 743.2M185.3 767.4L190.8 763.0M244.8 749.9L249.8 754.0M349.7 749.0L359.3 748.9M145.2 767.8L155.2 767.7M125.1 768.0L131.4 763.5M330.7 749.2L336.7 753.2M334.2 745.2L343.6 745.1M260.1 762.3L264.6 758.0M81.9 763.9L85.0 768.3M158.9 750.7L164.5 746.7M302.0 749.4L305.9 745.4M260.1 762.3L265.5 766.7M111.6 763.7L115.1 768.0M294.0 757.8L303.8 757.7M359.3 748.9L365.7 752.9M95.1 768.2L101.7 763.8M302.0 749.4L307.7 753.5M323.3 757.5L333.1 757.4M346.3 753.1L349.7 749.0M307.7 753.5L317.4 753.4M69.1 759.8L72.0 764.0M273.4 749.7L277.6 745.7M143.5 754.9L147.3 759.1M95.4 743.4L104.7 743.3M130.3 751.0L136.2 746.9M171.0 763.1L176.6 758.8M263.1 741.9L272.4 741.8M101.7 763.8L111.6 763.7M258.8 745.8L263.1 741.9M171.0 763.1L175.3 767.5M123.3 743.2L132.6 743.1M230.4 754.2L235.2 750.0M305.9 745.4L315.3 745.3M230.4 754.2L235.3 758.3M200.7 762.9L206.0 758.5M200.7 762.9L205.3 767.2M101.6 751.2L107.9 747.2M89.0 747.4L92.1 751.3M230.5 746.1L235.2 750.0M143.5 754.9L149.3 750.8M202.2 746.3L207.2 742.4M336.7 753.2L346.3 753.1M187.5 750.5L192.8 746.4M273.4 749.7L278.7 753.7M287.0 745.6L291.0 741.7M352.6 757.2L362.4 757.1M235.1 742.2L244.5 742.1M263.9 749.8L273.4 749.7M220.8 754.2L230.4 754.2M114.5 755.2L118.0 759.3M295.6 766.4L305.6 766.3M288.4 753.6L292.5 749.5M73.0 751.5L79.6 747.5M288.4 753.6L294.0 757.8M235.2 750.0L244.8 749.9M206.6 750.3L216.1 750.2M151.3 742.9L160.6 742.8M249.3 745.9L258.8 745.8M216.1 750.2L220.8 754.2M221.0 746.2L230.5 746.1M176.6 758.8L186.4 758.7M325.6 766.1L335.7 766.1M85.6 755.5L88.7 759.6M356.3 741.1L362.5 744.9M191.8 754.5L201.5 754.4M114.5 755.2L120.7 751.1M162.8 754.8L172.5 754.7M259.4 753.9L264.6 758.0M133.9 755.0L143.5 754.9M362.4 757.1L369.0 761.4M328.3 741.3L334.2 745.2M65.0 768.5L72.0 764.0M145.6 746.9L149.3 750.8M272.4 741.8L277.6 745.7M158.9 750.7L162.8 754.8M349.2 761.5L352.6 757.2M349.2 761.5L355.7 765.9M292.5 749.5L302.0 749.4M85.6 755.5L92.1 751.3M88.7 759.6L98.4 759.5M149.3 750.8L158.9 750.7M187.5 750.5L191.8 754.5M201.5 754.4L206.0 758.5M164.5 746.7L173.9 746.6M130.3 751.0L133.9 755.0M118.0 759.3L127.8 759.3M136.2 746.9L145.6 746.9M303.8 757.7L309.6 761.9M343.6 745.1L347.0 741.2M249.8 754.0L259.4 753.9M79.6 747.5L89.0 747.4M207.2 742.4L216.5 742.3M173.9 746.6L179.2 742.7M278.7 753.7L288.4 753.6M104.9 755.3L114.5 755.2M75.9 755.5L85.6 755.5M300.4 741.6L305.9 745.4M172.5 754.7L176.6 758.8M339.3 761.6L349.2 761.5M264.6 758.0L274.4 757.9M319.5 761.8L323.3 757.5M117.3 747.1L120.7 751.1M319.5 761.8L325.6 766.1M244.5 742.1L249.3 745.9M289.8 762.1L294.0 757.8M245.1 758.2L250.2 762.4M107.9 747.2L117.3 747.1M365.7 765.8L369.0 761.4M188.6 742.6L192.8 746.4M315.3 745.3L319.0 741.4M101.6 751.2L104.9 755.3M206.0 758.5L215.8 758.5M355.7 765.9L365.7 765.8M309.6 761.9L319.5 761.8M73.0 751.5L75.9 755.5M175.3 767.5L185.3 767.4M215.8 758.5L220.5 762.7M275.5 766.6L279.9 762.2M216.5 742.3L221.0 746.2M333.1 757.4L339.3 761.6M287.0 745.6L292.5 749.5M277.6 745.7L287.0 745.6M89.0 747.4L95.4 743.4M230.5 746.1L235.1 742.2M305.6 766.3L309.6 761.9M291.0 741.7L300.4 741.6M259.4 753.9L263.9 749.8M245.1 758.2L249.8 754.0M362.4 757.1L365.7 752.9M235.3 758.3L245.1 758.2"/><path id="ob2" d="M369.9 822.5L373.7 816.6M162.4 812.8L167.1 818.5M98.4 772.7L108.5 772.6M81.2 777.5L91.5 777.4M309.5 785.0L315.9 790.0M230.3 780.9L235.6 785.7M324.1 780.0L328.1 775.2M135.5 807.4L146.6 807.3M112.1 777.2L122.4 777.1M320.7 811.3L332.0 811.2M213.0 818.1L218.9 812.3M345.0 779.8L355.4 779.7M298.1 811.5L302.8 805.9M63.8 819.4L75.3 819.3M313.9 805.8L318.3 800.4M362.3 784.5L372.9 784.5M351.3 800.1L362.3 800.0M251.7 790.5L262.4 790.4M219.6 790.8L230.3 790.7M172.3 786.3L182.8 786.2M369.2 774.9L376.2 779.6M180.1 807.0L185.0 812.6M291.3 771.0L297.2 775.5M134.0 791.6L138.1 796.7M235.8 806.5L247.0 806.4M326.6 789.9L330.6 784.8M69.8 792.2L73.0 797.3M260.8 771.2L265.5 766.7M280.4 806.1L285.3 800.7M376.7 794.6L380.1 789.4M155.4 791.4L166.1 791.3M292.9 780.3L297.2 775.5M98.3 802.3L105.6 797.0M246.2 785.6L251.7 790.5M245.8 776.0L251.2 780.7M358.9 775.0L369.2 774.9M77.2 787.1L87.8 787.0M160.3 824.4L167.1 818.5M144.2 818.7L151.1 812.9M230.3 780.9L235.5 776.1M300.1 823.2L304.8 817.2M263.3 800.8L269.3 806.2M358.7 789.6L362.3 784.5M218.9 812.3L230.2 812.2M352.2 770.4L355.7 765.9M335.0 822.9L339.2 816.9M247.0 806.4L252.3 800.9M78.1 772.9L85.0 768.3M159.3 772.1L169.5 772.1M230.2 812.2L236.0 817.8M369.2 774.9L372.5 770.2M46.2 808.2L49.3 813.8M214.5 785.9L219.6 790.8M136.6 781.7L140.6 786.5M313.7 780.1L324.1 780.0M230.3 790.7L235.6 785.7M338.4 775.2L342.1 770.5M365.9 794.6L376.7 794.6M318.3 800.4L329.3 800.3M292.9 780.3L299.0 785.1M199.9 771.8L205.3 767.2M338.4 775.2L345.0 779.8M373.7 816.6L385.1 816.5M213.5 806.7L219.3 801.2M178.6 818.4L185.0 812.6M267.3 785.4L277.8 785.3M182.8 786.2L187.5 791.1M49.3 813.8L60.6 813.7M376.7 794.6L384.2 799.8M109.7 819.0L117.1 813.2M276.6 775.7L282.4 780.4M262.4 790.4L268.3 795.5M260.8 771.2L266.4 775.8M197.3 801.4L202.4 806.8M94.5 813.4L102.0 807.7M252.3 800.9L263.3 800.8M123.3 791.7L134.0 791.6M341.2 784.7L345.0 779.8M219.3 801.2L230.3 801.1M236.0 817.8L247.4 817.7M302.8 805.9L313.9 805.8M67.9 773.0L78.1 772.9M230.2 823.8L236.0 817.8M151.1 786.4L155.4 791.4M283.8 790.3L294.5 790.2M153.2 776.8L157.4 781.5M98.3 819.1L109.7 819.0M335.7 766.1L342.1 770.5M119.5 786.7L123.3 791.7M185.0 812.6L196.3 812.5M91.2 792.0L101.9 791.9M136.6 781.7L142.9 776.9M151.1 812.9L162.4 812.8M300.8 795.2L311.7 795.1M164.3 801.7L168.9 807.1M166.1 791.3L170.6 796.4M56.1 787.3L59.1 792.3M169.5 772.1L175.3 767.5M294.5 790.2L299.0 785.1M330.6 784.8L341.2 784.7M125.4 824.7L132.7 818.8M279.1 795.4L283.8 790.3M385.1 816.5L393.2 822.3M276.6 775.7L281.1 771.0M198.2 791.0L203.2 796.1M266.4 775.8L276.6 775.7M199.9 771.8L204.7 776.4M350.7 816.8L358.3 822.7M87.8 787.0L91.2 792.0M251.2 780.7L261.6 780.6M307.5 775.4L311.6 770.8M321.8 770.7L325.6 766.1M219.9 781.0L230.3 780.9M63.6 782.4L74.1 782.3M169.5 772.1L173.8 776.6M311.7 795.1L315.9 790.0M59.1 792.3L69.8 792.2M134.0 791.6L140.6 786.5M365.7 765.8L372.5 770.2M298.1 811.5L304.8 817.2M307.5 775.4L313.7 780.1M311.7 795.1L318.3 800.4M142.9 776.9L153.2 776.8M332.0 811.2L339.2 816.9M68.6 808.0L79.7 807.9M146.6 807.3L153.3 801.8M270.4 817.5L281.9 817.4M75.3 819.3L83.2 813.5M277.8 785.3L282.4 780.4M204.7 776.4L214.9 776.3M189.8 771.9L199.9 771.8M105.6 797.0L116.4 796.9M132.7 818.8L144.2 818.7M252.9 811.9L264.2 811.8M281.1 771.0L291.3 771.0M309.5 785.0L313.7 780.1M153.3 801.8L164.3 801.7M268.3 795.5L279.1 795.4M91.5 777.4L94.9 782.1M184.1 776.5L189.8 771.9M245.8 776.0L250.7 771.3M263.3 800.8L268.3 795.5M113.2 807.6L120.3 802.1M305.6 766.3L311.6 770.8M168.9 807.1L180.1 807.0M279.1 795.4L285.3 800.7M105.3 782.0L112.1 777.2M157.4 781.5L167.8 781.4M246.6 795.7L251.7 790.5M83.2 813.5L94.5 813.4M105.3 782.0L108.9 786.8M246.6 795.7L252.3 800.9M235.7 795.8L246.6 795.7M329.3 800.3L336.2 805.6M186.3 801.5L197.3 801.4M235.5 776.1L245.8 776.0M214.9 776.3L220.2 771.6M203.2 796.1L214.0 796.0M65.3 802.6L68.6 808.0M140.6 786.5L151.1 786.4M120.3 802.1L131.3 802.0M214.9 776.3L219.9 781.0M264.2 811.8L269.3 806.2M372.9 784.5L376.2 779.6M321.8 770.7L328.1 775.2M230.4 771.5L235.4 767.0M316.3 817.1L323.3 823.0M69.8 792.2L77.2 787.1M117.1 813.2L128.4 813.1M362.3 800.0L369.7 805.3M246.2 785.6L251.2 780.7M74.1 782.3L81.2 777.5M54.3 802.7L65.3 802.6M91.5 777.4L98.4 772.7M78.1 772.9L81.2 777.5M214.0 796.0L219.6 790.8M275.5 766.6L281.1 771.0M184.1 776.5L188.7 781.2M347.4 805.5L354.7 811.0M214.0 796.0L219.3 801.2M197.3 801.4L203.2 796.1M188.7 781.2L199.1 781.1M201.5 818.2L213.0 818.1M122.4 777.1L126.2 781.8M245.4 766.9L250.7 771.3M101.9 791.9L108.9 786.8M280.4 806.1L286.8 811.6M108.9 786.8L119.5 786.7M126.2 781.8L136.6 781.7M281.9 817.4L288.4 823.3M79.7 807.9L87.3 802.4M94.5 813.4L98.3 819.1M55.6 825.4L63.8 819.4M60.7 777.7L63.6 782.4M46.2 808.2L54.3 802.7M214.5 785.9L219.9 781.0M336.2 805.6L347.4 805.5M60.6 813.7L68.6 808.0M358.7 789.6L365.9 794.6M235.6 785.7L246.2 785.6M285.3 800.7L296.3 800.6M40.9 819.6L49.3 813.8M196.3 812.5L202.4 806.8M247.0 806.4L252.9 811.9M203.9 786.0L214.5 785.9M247.4 817.7L253.5 823.6M153.2 776.8L159.3 772.1M164.3 801.7L170.6 796.4M311.6 770.8L321.8 770.7M352.2 770.4L358.9 775.0M90.5 825.1L98.3 819.1M182.8 786.2L188.7 781.2M181.5 796.3L187.5 791.1M369.7 805.3L380.8 805.2M185.3 767.4L189.8 771.9M297.2 775.5L307.5 775.4M138.1 796.7L148.9 796.6M87.3 802.4L98.3 802.3M65.3 802.6L73.0 797.3M116.4 796.9L123.3 791.7M122.4 777.1L128.9 772.4M328.1 775.2L338.4 775.2M261.6 780.6L267.3 785.4M199.1 781.1L204.7 776.4M180.1 807.0L186.3 801.5M286.8 811.6L298.1 811.5M213.0 818.1L218.6 823.9M215.4 767.1L220.2 771.6M230.3 801.1L235.8 806.5M304.8 817.2L316.3 817.1M151.1 786.4L157.4 781.5M148.9 796.6L155.4 791.4M366.0 810.9L373.7 816.6M366.0 810.9L369.7 805.3M339.2 816.9L350.7 816.8M148.9 796.6L153.3 801.8M195.3 824.1L201.5 818.2M119.5 786.7L126.2 781.8M102.0 807.7L113.2 807.6M131.3 802.0L135.5 807.4M94.9 782.1L105.3 782.0M162.4 812.8L168.9 807.1M220.2 771.6L230.4 771.5M139.0 772.3L145.2 767.8M299.0 785.1L309.5 785.0M74.1 782.3L77.2 787.1M296.3 800.6L302.8 805.9M326.6 789.9L333.3 794.9M385.1 816.5L388.6 810.7M269.3 806.2L280.4 806.1M181.5 796.3L186.3 801.5M73.0 797.3L83.9 797.2M87.8 787.0L94.9 782.1M380.8 805.2L388.6 810.7M139.0 772.3L142.9 776.9M116.4 796.9L120.3 802.1M199.1 781.1L203.9 786.0M333.3 794.9L344.2 794.8M83.9 797.2L91.2 792.0M144.2 818.7L148.7 824.5M155.2 767.7L159.3 772.1M348.0 789.7L358.7 789.6M342.1 770.5L352.2 770.4M60.6 813.7L63.8 819.4M372.9 784.5L380.1 789.4M51.3 797.5L59.1 792.3M362.3 800.0L365.9 794.6M60.7 777.7L67.9 773.0M128.4 813.1L135.5 807.4M354.7 811.0L366.0 810.9M264.2 811.8L270.4 817.5M146.6 807.3L151.1 812.9M313.9 805.8L320.7 811.3M173.8 776.6L184.1 776.5M230.3 801.1L235.7 795.8M262.4 790.4L267.3 785.4M125.1 768.0L128.9 772.4M178.6 818.4L183.6 824.2M230.4 771.5L235.5 776.1M167.8 781.4L172.3 786.3M101.9 791.9L105.6 797.0M109.7 819.0L113.8 824.9M108.5 772.6L115.1 768.0M98.3 802.3L102.0 807.7M113.2 807.6L117.1 813.2M128.9 772.4L139.0 772.3M83.9 797.2L87.3 802.4M261.6 780.6L266.4 775.8M296.3 800.6L300.8 795.2M332.0 811.2L336.2 805.6M341.2 784.7L348.0 789.7M40.9 819.6L43.9 825.5M316.3 817.1L320.7 811.3M202.4 806.8L213.5 806.7M108.5 772.6L112.1 777.2M166.1 791.3L172.3 786.3M355.4 779.7L358.9 775.0M282.4 780.4L292.9 780.3M196.3 812.5L201.5 818.2M51.3 797.5L54.3 802.7M56.1 787.3L63.6 782.4M315.9 790.0L326.6 789.9M170.6 796.4L181.5 796.3M347.4 805.5L351.3 800.1M198.2 791.0L203.9 786.0M167.1 818.5L178.6 818.4M350.7 816.8L354.7 811.0M344.2 794.8L348.0 789.7M344.2 794.8L351.3 800.1M187.5 791.1L198.2 791.0M329.3 800.3L333.3 794.9M324.1 780.0L330.6 784.8M281.9 817.4L286.8 811.6M230.3 790.7L235.7 795.8M294.5 790.2L300.8 795.2M167.8 781.4L173.8 776.6M250.7 771.3L260.8 771.2M213.5 806.7L218.9 812.3M291.3 771.0L295.6 766.4M95.1 768.2L98.4 772.7M265.1 823.5L270.4 817.5M131.3 802.0L138.1 796.7M65.0 768.5L67.9 773.0M355.4 779.7L362.3 784.5M247.4 817.7L252.9 811.9M79.7 807.9L83.2 813.5M230.2 812.2L235.8 806.5M380.8 805.2L384.2 799.8M75.3 819.3L78.8 825.2M128.4 813.1L132.7 818.8M277.8 785.3L283.8 790.3"/><path id="ob3" d="M148.7 824.5L160.3 824.4M113.8 824.9L125.4 824.7M309.3 841.9L321.5 841.8M335.0 822.9L342.4 828.9M141.6 830.7L148.7 824.5M163.2 843.2L175.3 843.1M194.2 836.5L200.6 830.2M369.9 822.5L377.9 828.6M58.8 831.4L70.7 831.3M158.2 836.8L163.2 843.2M106.1 831.0L113.8 824.9M354.3 828.8L362.1 835.0M288.4 823.3L300.1 823.2M378.5 848.0L382.4 841.3M158.2 836.8L165.2 830.5M29.2 844.4L32.2 851.1M35.2 831.6L43.9 825.5M165.2 830.5L177.0 830.4M230.2 823.8L236.1 829.8M194.2 836.5L199.7 842.9M70.7 831.3L78.8 825.2M345.8 841.6L358.0 841.5M125.4 824.7L129.7 830.8M389.7 828.5L398.1 834.7M118.8 850.3L126.6 843.6M342.4 828.9L354.3 828.8M300.1 823.2L307.0 829.2M341.4 848.3L345.8 841.6M318.8 829.1L326.1 835.3M358.0 841.5L362.1 835.0M53.5 844.2L65.7 844.1M366.2 848.1L378.5 848.0M90.1 843.9L102.3 843.8M394.6 841.1L398.1 834.7M377.9 828.6L389.7 828.5M321.5 841.8L326.1 835.3M230.2 836.2L236.2 842.6M177.0 830.4L183.6 824.2M329.1 848.4L341.4 848.3M81.7 850.6L90.1 843.9M283.4 829.4L290.1 835.6M338.1 835.2L342.4 828.9M304.3 848.6L309.3 841.9M247.9 829.7L254.2 835.9M382.4 841.3L394.6 841.1M230.1 849.3L236.2 842.6M374.1 834.9L377.9 828.6M94.3 831.1L106.1 831.0M55.6 825.4L58.8 831.4M362.1 835.0L374.1 834.9M90.5 825.1L94.3 831.1M230.2 836.2L236.1 829.8M284.9 842.1L290.1 835.6M38.2 837.9L50.2 837.8M374.1 834.9L382.4 841.3M212.5 830.1L218.2 836.3M122.2 837.1L126.6 843.6M122.2 837.1L129.7 830.8M200.6 830.2L212.5 830.1M248.4 842.5L254.2 835.9M86.2 837.5L94.3 831.1M338.1 835.2L345.8 841.6M302.1 835.5L307.0 829.2M271.5 829.5L283.4 829.4M211.9 842.8L218.2 836.3M182.2 836.6L194.2 836.5M217.7 849.4L230.1 849.3M272.8 842.2L284.9 842.1M141.6 830.7L146.2 836.9M354.3 828.8L358.3 822.7M180.6 849.7L193.0 849.6M267.2 849.0L272.8 842.2M32.2 851.1L44.6 851.0M143.5 850.1L155.9 850.0M358.3 822.7L369.9 822.5M326.1 835.3L338.1 835.2M106.4 850.4L118.8 850.3M302.1 835.5L309.3 841.9M211.9 842.8L217.7 849.4M138.8 843.5L146.2 836.9M199.7 842.9L211.9 842.8M106.1 831.0L110.2 837.2M254.2 835.9L266.1 835.8M307.0 829.2L318.8 829.1M389.7 828.5L393.2 822.3M218.2 836.3L230.2 836.2M35.2 831.6L38.2 837.9M44.6 851.0L53.5 844.2M175.3 843.1L182.2 836.6M86.2 837.5L90.1 843.9M183.6 824.2L195.3 824.1M43.9 825.5L55.6 825.4M70.7 831.3L74.2 837.6M102.3 843.8L110.2 837.2M248.4 842.5L254.9 849.1M74.2 837.6L86.2 837.5M265.1 823.5L271.5 829.5M236.2 842.6L248.4 842.5M138.8 843.5L143.5 850.1M321.5 841.8L329.1 848.4M50.2 837.8L53.5 844.2M254.9 849.1L267.2 849.0M29.2 844.4L38.2 837.9M318.8 829.1L323.3 823.0M129.7 830.8L141.6 830.7M236.1 829.8L247.9 829.7M292.0 848.7L304.3 848.6M50.2 837.8L58.8 831.4M195.3 824.1L200.6 830.2M323.3 823.0L335.0 822.9M69.3 850.7L81.7 850.6M175.3 843.1L180.6 849.7M126.6 843.6L138.8 843.5M358.0 841.5L366.2 848.1M102.3 843.8L106.4 850.4M253.5 823.6L265.1 823.5M218.6 823.9L230.2 823.8M283.4 829.4L288.4 823.3M247.9 829.7L253.5 823.6M65.7 844.1L74.2 837.6M193.0 849.6L199.7 842.9M78.8 825.2L90.5 825.1M177.0 830.4L182.2 836.6M146.2 836.9L158.2 836.8M284.9 842.1L292.0 848.7M110.2 837.2L122.2 837.1M160.3 824.4L165.2 830.5M155.9 850.0L163.2 843.2M290.1 835.6L302.1 835.5M65.7 844.1L69.3 850.7M266.1 835.8L272.8 842.2M212.5 830.1L218.6 823.9M266.1 835.8L271.5 829.5"/><path id="oa4" d="M85.0 768.3h0M81.9 763.9h0M72.0 764.0h0M65.0 768.5h0M88.7 759.6h0M85.6 755.5h0M75.9 755.5h0M69.1 759.8h0M92.1 751.3h0M89.0 747.4h0M79.6 747.5h0M73.0 751.5h0M95.1 768.2h0M101.7 763.8h0M98.4 759.5h0M104.9 755.3h0M101.6 751.2h0M107.9 747.2h0M104.7 743.3h0M95.4 743.4h0M115.1 768.0h0M111.6 763.7h0M118.0 759.3h0M114.5 755.2h0M120.7 751.1h0M117.3 747.1h0M125.1 768.0h0M131.4 763.5h0M127.8 759.3h0M133.9 755.0h0M130.3 751.0h0M136.2 746.9h0M132.6 743.1h0M123.3 743.2h0M145.2 767.8h0M141.3 763.4h0M147.3 759.1h0M143.5 754.9h0M149.3 750.8h0M145.6 746.9h0M155.2 767.7h0M161.1 763.2h0M157.1 759.0h0M162.8 754.8h0M158.9 750.7h0M164.5 746.7h0M160.6 742.8h0M151.3 742.9h0M175.3 767.5h0M171.0 763.1h0M176.6 758.8h0M172.5 754.7h0M178.0 750.5h0M173.9 746.6h0M185.3 767.4h0M190.8 763.0h0M186.4 758.7h0M191.8 754.5h0M187.5 750.5h0M192.8 746.4h0M188.6 742.6h0M179.2 742.7h0M205.3 767.2h0M200.7 762.9h0M206.0 758.5h0M201.5 754.4h0M206.6 750.3h0M202.2 746.3h0M215.4 767.1h0M220.5 762.7h0M215.8 758.5h0M220.8 754.2h0M216.1 750.2h0M221.0 746.2h0M216.5 742.3h0M207.2 742.4h0M235.4 767.0h0M230.4 762.6h0M235.3 758.3h0M230.4 754.2h0M235.2 750.0h0M230.5 746.1h0M245.4 766.9h0M250.2 762.4h0M245.1 758.2h0M249.8 754.0h0M244.8 749.9h0M249.3 745.9h0M244.5 742.1h0M235.1 742.2h0M265.5 766.7h0M260.1 762.3h0M264.6 758.0h0M259.4 753.9h0M263.9 749.8h0M258.8 745.8h0M275.5 766.6h0M279.9 762.2h0M274.4 757.9h0M278.7 753.7h0M273.4 749.7h0M277.6 745.7h0M272.4 741.8h0M263.1 741.9h0M295.6 766.4h0M289.8 762.1h0M294.0 757.8h0M288.4 753.6h0M292.5 749.5h0M287.0 745.6h0M305.6 766.3h0M309.6 761.9h0M303.8 757.7h0M307.7 753.5h0M302.0 749.4h0M305.9 745.4h0M300.4 741.6h0M291.0 741.7h0M325.6 766.1h0M319.5 761.8h0M323.3 757.5h0M317.4 753.4h0M321.1 749.3h0M315.3 745.3h0M335.7 766.1h0M339.3 761.6h0M333.1 757.4h0M336.7 753.2h0M330.7 749.2h0M334.2 745.2h0M328.3 741.3h0M319.0 741.4h0M355.7 765.9h0M349.2 761.5h0M352.6 757.2h0M346.3 753.1h0M349.7 749.0h0M343.6 745.1h0M365.7 765.8h0M369.0 761.4h0M362.4 757.1h0M365.7 752.9h0M359.3 748.9h0M362.5 744.9h0M356.3 741.1h0M347.0 741.2h0"/><path id="oa5" d="M63.8 819.4h0M60.6 813.7h0M49.3 813.8h0M40.9 819.6h0M68.6 808.0h0M65.3 802.6h0M54.3 802.7h0M46.2 808.2h0M73.0 797.3h0M69.8 792.2h0M59.1 792.3h0M51.3 797.5h0M77.2 787.1h0M74.1 782.3h0M63.6 782.4h0M56.1 787.3h0M81.2 777.5h0M78.1 772.9h0M67.9 773.0h0M60.7 777.7h0M75.3 819.3h0M83.2 813.5h0M79.7 807.9h0M87.3 802.4h0M83.9 797.2h0M91.2 792.0h0M87.8 787.0h0M94.9 782.1h0M91.5 777.4h0M98.4 772.7h0M98.3 819.1h0M94.5 813.4h0M102.0 807.7h0M98.3 802.3h0M105.6 797.0h0M101.9 791.9h0M108.9 786.8h0M105.3 782.0h0M112.1 777.2h0M108.5 772.6h0M109.7 819.0h0M117.1 813.2h0M113.2 807.6h0M120.3 802.1h0M116.4 796.9h0M123.3 791.7h0M119.5 786.7h0M126.2 781.8h0M122.4 777.1h0M128.9 772.4h0M132.7 818.8h0M128.4 813.1h0M135.5 807.4h0M131.3 802.0h0M138.1 796.7h0M134.0 791.6h0M140.6 786.5h0M136.6 781.7h0M142.9 776.9h0M139.0 772.3h0M144.2 818.7h0M151.1 812.9h0M146.6 807.3h0M153.3 801.8h0M148.9 796.6h0M155.4 791.4h0M151.1 786.4h0M157.4 781.5h0M153.2 776.8h0M159.3 772.1h0M167.1 818.5h0M162.4 812.8h0M168.9 807.1h0M164.3 801.7h0M170.6 796.4h0M166.1 791.3h0M172.3 786.3h0M167.8 781.4h0M173.8 776.6h0M169.5 772.1h0M178.6 818.4h0M185.0 812.6h0M180.1 807.0h0M186.3 801.5h0M181.5 796.3h0M187.5 791.1h0M182.8 786.2h0M188.7 781.2h0M184.1 776.5h0M189.8 771.9h0M201.5 818.2h0M196.3 812.5h0M202.4 806.8h0M197.3 801.4h0M203.2 796.1h0M198.2 791.0h0M203.9 786.0h0M199.1 781.1h0M204.7 776.4h0M199.9 771.8h0M213.0 818.1h0M218.9 812.3h0M213.5 806.7h0M219.3 801.2h0M214.0 796.0h0M219.6 790.8h0M214.5 785.9h0M219.9 781.0h0M214.9 776.3h0M220.2 771.6h0M236.0 817.8h0M230.2 812.2h0M235.8 806.5h0M230.3 801.1h0M235.7 795.8h0M230.3 790.7h0M235.6 785.7h0M230.3 780.9h0M235.5 776.1h0M230.4 771.5h0M247.4 817.7h0M252.9 811.9h0M247.0 806.4h0M252.3 800.9h0M246.6 795.7h0M251.7 790.5h0M246.2 785.6h0M251.2 780.7h0M245.8 776.0h0M250.7 771.3h0M270.4 817.5h0M264.2 811.8h0M269.3 806.2h0M263.3 800.8h0M268.3 795.5h0M262.4 790.4h0M267.3 785.4h0M261.6 780.6h0M266.4 775.8h0M260.8 771.2h0M281.9 817.4h0M286.8 811.6h0M280.4 806.1h0M285.3 800.7h0M279.1 795.4h0M283.8 790.3h0M277.8 785.3h0M282.4 780.4h0M276.6 775.7h0M281.1 771.0h0M304.8 817.2h0M298.1 811.5h0M302.8 805.9h0M296.3 800.6h0M300.8 795.2h0M294.5 790.2h0M299.0 785.1h0M292.9 780.3h0M297.2 775.5h0M291.3 771.0h0M316.3 817.1h0M320.7 811.3h0M313.9 805.8h0M318.3 800.4h0M311.7 795.1h0M315.9 790.0h0M309.5 785.0h0M313.7 780.1h0M307.5 775.4h0M311.6 770.8h0M339.2 816.9h0M332.0 811.2h0M336.2 805.6h0M329.3 800.3h0M333.3 794.9h0M326.6 789.9h0M330.6 784.8h0M324.1 780.0h0M328.1 775.2h0M321.8 770.7h0M350.7 816.8h0M354.7 811.0h0M347.4 805.5h0M351.3 800.1h0M344.2 794.8h0M348.0 789.7h0M341.2 784.7h0M345.0 779.8h0M338.4 775.2h0M342.1 770.5h0M373.7 816.6h0M366.0 810.9h0M369.7 805.3h0M362.3 800.0h0M365.9 794.6h0M358.7 789.6h0M362.3 784.5h0M355.4 779.7h0M358.9 775.0h0M352.2 770.4h0M385.1 816.5h0M388.6 810.7h0M380.8 805.2h0M384.2 799.8h0M376.7 794.6h0M380.1 789.4h0M372.9 784.5h0M376.2 779.6h0M369.2 774.9h0M372.5 770.2h0"/><path id="oa6" d="M53.5 844.2h0M50.2 837.8h0M38.2 837.9h0M29.2 844.4h0M32.2 851.1h0M44.6 851.0h0M58.8 831.4h0M55.6 825.4h0M43.9 825.5h0M35.2 831.6h0M74.2 837.6h0M70.7 831.3h0M65.7 844.1h0M78.8 825.2h0M90.1 843.9h0M86.2 837.5h0M69.3 850.7h0M81.7 850.6h0M94.3 831.1h0M90.5 825.1h0M110.2 837.2h0M106.1 831.0h0M102.3 843.8h0M113.8 824.9h0M126.6 843.6h0M122.2 837.1h0M106.4 850.4h0M118.8 850.3h0M129.7 830.8h0M125.4 824.7h0M146.2 836.9h0M141.6 830.7h0M138.8 843.5h0M148.7 824.5h0M163.2 843.2h0M158.2 836.8h0M143.5 850.1h0M155.9 850.0h0M165.2 830.5h0M160.3 824.4h0M182.2 836.6h0M177.0 830.4h0M175.3 843.1h0M183.6 824.2h0M199.7 842.9h0M194.2 836.5h0M180.6 849.7h0M193.0 849.6h0M200.6 830.2h0M195.3 824.1h0M218.2 836.3h0M212.5 830.1h0M211.9 842.8h0M218.6 823.9h0M236.2 842.6h0M230.2 836.2h0M217.7 849.4h0M230.1 849.3h0M236.1 829.8h0M230.2 823.8h0M254.2 835.9h0M247.9 829.7h0M248.4 842.5h0M253.5 823.6h0M272.8 842.2h0M266.1 835.8h0M254.9 849.1h0M267.2 849.0h0M271.5 829.5h0M265.1 823.5h0M290.1 835.6h0M283.4 829.4h0M284.9 842.1h0M288.4 823.3h0M309.3 841.9h0M302.1 835.5h0M292.0 848.7h0M304.3 848.6h0M307.0 829.2h0M300.1 823.2h0M326.1 835.3h0M318.8 829.1h0M321.5 841.8h0M323.3 823.0h0M345.8 841.6h0M338.1 835.2h0M329.1 848.4h0M341.4 848.3h0M342.4 828.9h0M335.0 822.9h0M362.1 835.0h0M354.3 828.8h0M358.0 841.5h0M358.3 822.7h0M382.4 841.3h0M374.1 834.9h0M366.2 848.1h0M378.5 848.0h0M377.9 828.6h0M369.9 822.5h0M398.1 834.7h0M389.7 828.5h0M394.6 841.1h0M393.2 822.3h0"/><path id="wb7" d="M579.9 694.8L585.9 699.6M755.3 672.1L762.1 673.1M841.5 686.9L839.8 680.9M664.7 676.0L666.2 671.8M794.9 690.9L802.6 697.1M623.0 726.5L624.5 720.1M532.4 691.8L541.2 691.6M696.6 667.0L704.0 664.9M723.2 660.6L729.7 666.1M732.4 684.0L739.7 684.5M533.1 708.6L535.9 703.0M851.7 666.5L850.2 663.6M627.8 704.1L634.6 708.0M791.0 695.1L789.2 690.0M740.1 685.6L739.7 684.5M802.7 679.8L810.5 682.8M659.6 700.2L661.3 690.9M575.9 681.8L581.8 685.8M544.9 703.3L551.2 709.5M545.4 668.6L547.8 663.8M880.9 660.3L889.1 661.8M555.6 660.3L561.0 663.1M856.7 660.5L864.7 659.9M837.0 699.0L845.5 700.7M800.8 707.1L798.8 701.9M732.4 684.0L732.0 681.4M758.2 678.2L763.7 675.9M743.1 673.4L749.8 675.1M659.3 671.7L666.2 671.8M763.7 675.9L762.1 673.1M603.0 714.7L604.6 708.7M791.0 695.1L798.8 701.9M543.8 685.9L552.1 685.3M748.0 687.2L747.6 685.2M878.9 699.9L876.5 691.5M863.1 703.2L860.9 695.4M585.6 672.8L591.5 676.4M650.6 674.4L659.3 671.7M815.3 676.6L821.9 675.2M677.7 687.6L686.5 682.3M675.8 665.2L683.5 661.6M759.1 664.7L766.0 667.0M890.7 712.0L888.1 703.6M753.5 682.0L759.5 680.1M576.2 709.5L584.1 707.1M618.1 681.0L620.1 675.9M772.5 678.8L779.8 681.0M666.2 671.8L674.6 668.2M821.9 675.2L820.6 673.1M624.7 682.9L633.3 679.9M894.9 660.8L892.6 658.1M595.3 664.2L601.3 667.3M659.3 671.7L660.8 668.7M781.6 685.0L779.8 681.0M627.8 704.1L629.5 695.3M785.4 680.8L783.6 677.0M754.5 683.5L762.0 684.2M846.5 675.4L844.9 670.9M759.5 680.1L758.2 678.2M683.7 697.8L692.8 692.0M831.5 680.4L839.8 680.9M883.2 686.3L892.3 690.4M806.1 672.8L812.7 672.5M730.6 672.5L729.7 666.1M768.2 683.0L766.8 680.4M872.2 676.8L881.0 678.7M785.4 680.8L792.9 685.7M581.8 685.8L589.6 682.9M746.3 682.6L745.3 680.8M717.8 681.5L717.9 677.5M775.7 685.5L781.6 685.0M695.9 672.3L703.2 675.6M892.3 690.4L898.8 686.4M609.9 684.2L618.1 681.0M910.7 700.5L920.1 704.8M529.5 697.5L535.9 703.0M552.1 685.3L558.1 692.1M694.0 685.1L702.4 681.5M866.5 662.8L874.7 662.9M747.6 685.2L754.5 683.5M717.2 661.4L723.2 660.6M588.6 715.5L595.0 717.3M650.6 706.5L659.6 700.2M617.7 715.9L619.3 708.5M883.2 686.3L881.0 678.7M860.0 666.3L866.5 662.8M839.8 680.9L846.5 675.4M618.1 681.0L624.7 682.9M878.9 657.5L884.7 656.3M613.7 673.3L615.6 668.1M798.8 701.9L804.7 702.8M740.1 685.6L747.6 685.2M852.1 694.3L850.1 687.2M841.4 712.7L847.7 707.9M861.7 670.5L870.2 671.0M700.5 692.8L709.1 687.9M845.5 700.7L852.1 694.3M827.4 671.4L835.4 669.6M767.5 670.6L774.6 671.8M604.6 708.7L612.8 704.8M598.3 706.2L604.6 708.7M754.5 683.5L753.5 682.0M661.3 690.9L670.3 684.9M564.0 718.5L566.1 715.0M613.7 673.3L620.1 675.9M771.6 665.5L778.7 668.3M867.6 689.3L865.5 682.1M745.3 680.8L751.2 678.3M593.8 695.0L600.0 698.5M850.1 687.2L856.8 681.2M804.7 702.8L802.6 697.1M767.5 670.6L766.0 667.0M732.4 688.6L740.3 689.2M614.5 696.7L622.8 691.7M702.4 681.5L709.9 683.6M537.8 681.5L543.8 685.9M756.3 693.2L755.9 688.7M655.9 679.9L664.7 676.0M876.7 666.9L885.2 668.5M724.9 677.7L724.5 672.9M808.4 696.5L816.4 701.1M898.8 686.4L907.9 691.5M835.4 669.6L842.2 665.3M612.8 704.8L619.3 708.5M894.8 699.3L892.3 690.4M629.5 695.3L638.2 689.9M842.2 665.3L850.2 663.6M762.1 673.1L767.5 670.6M574.3 714.6L576.2 709.5M608.1 693.1L609.9 684.2M709.9 683.6L717.8 681.5M699.3 698.1L707.2 696.0M624.5 720.1L633.0 716.6M623.9 666.4L630.4 669.0M841.5 686.9L850.1 687.2M638.9 667.4L645.6 669.4M600.0 698.5L608.1 693.1M660.8 668.7L669.0 665.9M826.6 689.5L835.0 692.2M776.3 674.6L774.6 671.8M595.0 717.3L603.0 714.7M612.8 704.8L614.5 696.7M902.5 675.4L911.2 679.6M835.0 692.2L841.5 686.9M777.2 689.8L784.9 694.5M545.4 668.6L551.0 670.6M608.1 693.1L614.5 696.7M676.1 696.2L677.7 687.6M888.1 703.6L894.8 699.3M751.2 678.3L758.2 678.2M634.6 708.0L643.4 702.9M779.8 681.0L785.4 680.8M688.6 711.0L690.1 705.0M683.5 661.6L690.3 661.2M674.6 668.2L675.8 665.2M730.6 672.5L737.4 676.0M844.9 670.9L851.7 666.5M552.1 685.3L554.4 678.8M755.9 688.7L762.9 687.4M747.1 664.5L753.8 667.4M738.3 680.1L737.4 676.0M870.2 671.0L876.7 666.9M633.0 716.6L640.0 720.6M544.9 703.3L547.4 697.7M784.6 668.9L792.1 671.5M724.5 672.9L730.6 672.5M717.7 667.4L717.2 661.4M707.2 696.0L716.1 690.4M697.5 658.0L704.1 659.8M881.0 678.7L887.5 674.6M643.8 673.0L650.6 674.4M682.3 705.4L683.7 697.8M686.5 682.3L694.0 685.1M836.7 672.1L835.4 669.6M620.1 675.9L628.5 673.4M863.1 703.2L872.2 705.4M648.9 715.7L650.6 706.5M776.3 674.6L783.6 677.0M681.7 668.5L689.6 665.1M558.9 668.5L564.5 672.9M876.7 666.9L874.7 662.9M885.2 668.5L891.4 665.9M554.4 678.8L562.4 678.5M591.5 676.4L599.4 673.3M689.6 665.1L696.6 667.0M628.5 673.4L630.4 669.0M786.5 699.9L784.9 694.5M774.6 671.8L780.2 671.0M630.4 669.0L638.9 667.4M836.7 672.1L844.9 670.9M830.0 676.0L836.7 672.1M590.3 710.2L598.3 706.2M633.0 716.6L634.6 708.0M832.9 709.4L830.7 702.8M780.2 671.0L778.7 668.3M755.3 672.1L753.8 667.4M570.1 704.7L572.0 697.5M794.9 690.9L792.9 685.7M587.5 666.6L595.3 664.2M802.7 679.8L801.1 676.0M789.2 677.1L796.8 680.8M555.8 698.7L561.9 705.1M787.6 673.8L793.5 673.7M780.2 671.0L787.6 673.8M923.2 712.9L920.1 704.8M716.1 690.4L724.0 690.1M856.8 681.2L865.5 682.1M680.5 673.2L681.7 668.5M732.6 686.9L740.1 685.6M704.0 664.9L710.9 668.5M887.5 674.6L885.2 668.5M635.2 675.4L643.8 673.0M874.7 662.9L880.9 660.3M703.2 675.6L710.8 673.8M806.4 690.3L812.3 688.4M665.4 711.7L673.0 712.8M910.7 700.5L907.9 691.5M866.5 662.8L864.7 659.9M595.6 685.7L603.6 682.2M605.5 676.3L613.7 673.3M541.2 691.6L543.8 685.9M861.7 670.5L860.0 666.3M812.7 708.4L818.6 707.3M798.4 671.7L806.1 672.8M603.6 682.2L609.9 684.2M551.2 709.5L559.8 710.3M566.1 691.4L572.0 697.5M741.8 667.5L747.1 664.5M732.0 681.4L738.3 680.1M749.8 675.1L755.3 672.1M898.8 686.4L896.3 678.3M829.2 717.2L826.8 711.6M710.6 657.3L717.2 661.4M558.9 668.5L561.0 663.1M633.3 679.9L640.1 681.5M872.2 676.8L870.2 671.0M907.0 712.9L904.2 704.3M529.5 697.5L532.4 691.8M822.4 698.9L830.7 702.8M851.7 666.5L860.0 666.3M588.6 715.5L590.3 710.2M864.7 659.9L870.9 657.2M706.0 700.5L707.2 696.0M789.2 690.0L794.9 690.9M804.7 702.8L812.7 708.4M609.4 665.1L615.6 668.1M643.4 702.9L650.6 706.5M830.7 702.8L837.0 699.0M640.0 720.6L648.9 715.7M540.4 676.8L548.7 675.2M622.8 691.7L629.5 695.3M843.8 719.0L841.4 712.7M561.0 663.1L568.6 661.7M633.3 679.9L635.2 675.4M822.4 698.9L820.4 692.3M812.3 688.4L810.5 682.8M759.5 680.1L766.8 680.4M737.4 676.0L743.1 673.4M740.3 689.2L748.0 687.2M593.8 695.0L595.6 685.7M762.9 687.4L770.7 690.6M743.1 673.4L741.8 667.5M812.3 688.4L820.4 692.3M808.4 696.5L806.4 690.3M907.9 691.5L914.1 687.6M820.6 673.1L827.4 671.4M738.3 680.1L745.3 680.8M593.4 721.1L595.0 717.3M572.0 697.5L579.9 694.8M568.1 683.4L575.9 681.8M783.6 677.0L789.2 677.1M601.3 667.3L609.4 665.1M870.9 657.2L878.9 657.5M648.8 678.5L655.9 679.9M751.2 678.3L749.8 675.1M725.0 685.9L732.6 686.9M547.8 663.8L555.6 660.3M654.6 725.9L656.2 718.3M570.1 704.7L576.2 709.5M860.9 695.4L867.6 689.3M814.9 713.7L812.7 708.4M559.8 710.3L561.9 705.1M801.1 676.0L807.4 674.9M670.3 684.9L677.7 687.6M559.8 710.3L566.1 715.0M904.2 704.3L910.7 700.5M541.2 691.6L547.4 697.7M640.1 681.5L648.8 678.5M643.8 673.0L645.6 669.4M798.6 685.7L806.4 690.3M739.7 684.5L746.3 682.6M792.9 685.7L798.6 685.7M807.4 674.9L806.1 672.8M689.6 665.1L690.3 661.2M778.7 668.3L784.6 668.9M574.3 714.6L580.6 717.5M729.7 666.1L735.2 663.7M798.6 685.7L796.8 680.8M748.0 687.2L755.9 688.7M789.2 677.1L787.6 673.8M566.1 715.0L574.3 714.6M648.9 715.7L656.2 718.3M770.8 676.2L776.3 674.6M584.1 707.1L585.9 699.6M638.5 727.9L640.0 720.6M615.6 668.1L623.9 666.4M665.4 711.7L667.0 702.8M575.9 681.8L577.9 675.4M578.8 720.8L580.6 717.5M826.8 711.6L832.9 709.4M735.2 663.7L741.8 667.5M816.4 701.1L822.4 698.9M579.9 694.8L581.8 685.8M710.9 668.5L717.7 667.4M599.4 673.3L605.5 676.3M687.7 675.1L695.9 672.3M561.9 705.1L570.1 704.7M816.8 680.7L824.9 683.6M874.7 713.5L872.2 705.4M692.8 692.0L694.0 685.1M584.1 707.1L590.3 710.2M562.4 678.5L568.1 683.4M905.7 667.1L903.1 662.9M686.5 682.3L687.7 675.1M572.2 671.4L577.9 675.4M802.6 697.1L808.4 696.5M645.2 693.6L654.1 688.0M638.2 689.9L645.2 693.6M793.5 673.7L792.1 671.5M676.1 696.2L683.7 697.8M894.8 699.3L904.2 704.3M585.6 672.8L587.5 666.6M855.0 675.3L861.7 670.5M548.7 675.2L551.0 670.6M762.9 687.4L762.0 684.2M891.4 665.9L899.9 669.1M820.4 692.3L826.6 689.5M710.8 673.8L710.9 668.5M671.9 677.1L680.5 673.2M896.3 678.3L902.5 675.4M645.6 669.4L654.0 668.0M654.1 688.0L661.3 690.9M880.9 660.3L878.9 657.5M763.7 675.9L770.8 676.2M702.4 681.5L703.2 675.6M824.9 683.6L831.5 680.4M831.5 680.4L830.0 676.0M771.7 695.8L770.7 690.6M899.9 669.1L905.7 667.1M878.9 699.9L888.1 703.6M796.8 680.8L802.7 679.8M654.1 688.0L655.9 679.9M638.2 689.9L640.1 681.5M692.8 692.0L700.5 692.8M690.3 661.2L697.5 658.0M867.6 689.3L876.5 691.5M724.0 690.1L732.4 688.6M766.0 667.0L771.6 665.5M818.6 707.3L816.4 701.1M643.4 702.9L645.2 693.6M821.9 675.2L830.0 676.0M717.9 677.5L724.9 677.7M894.9 660.8L903.1 662.9M887.5 674.6L896.3 678.3M846.5 675.4L855.0 675.3M671.4 719.9L673.0 712.8M535.9 703.0L544.9 703.3M709.1 687.9L709.9 683.6M818.6 707.3L826.8 711.6M859.0 716.6L856.5 709.3M792.1 671.5L798.4 671.7M762.0 684.2L768.2 683.0M717.8 681.5L725.1 684.0M889.1 661.8L894.9 660.8M770.7 690.6L777.2 689.8M680.5 673.2L687.7 675.1M659.6 700.2L667.0 702.8M772.5 678.8L770.8 676.2M617.7 715.9L624.5 720.1M656.2 718.3L665.4 711.7M669.0 665.9L675.8 665.2M716.8 687.6L725.0 685.9M725.0 685.9L725.1 684.0M589.6 682.9L591.5 676.4M891.4 665.9L889.1 661.8M568.6 661.7L574.2 665.5M704.1 659.8L710.6 657.3M558.1 692.1L566.1 691.4M826.6 689.5L824.9 683.6M856.5 709.3L863.1 703.2M902.5 675.4L899.9 669.1M589.6 682.9L595.6 685.7M717.7 667.4L724.5 672.9M581.8 663.4L587.5 666.6M585.9 699.6L593.8 695.0M781.6 685.0L789.2 690.0M837.0 699.0L835.0 692.2M914.1 687.6L911.2 679.6M537.8 681.5L540.4 676.8M716.1 690.4L716.8 687.6M566.1 691.4L568.1 683.4M580.6 717.5L588.6 715.5M574.2 665.5L581.8 663.4M628.5 673.4L635.2 675.4M847.7 707.9L856.5 709.3M551.0 670.6L558.9 668.5M884.7 656.3L892.6 658.1M768.2 683.0L775.7 685.5M865.5 682.1L872.2 676.8M599.4 673.3L601.3 667.3M608.1 723.0L609.5 718.0M670.3 684.9L671.9 677.1M673.0 712.8L682.3 705.4M753.8 667.4L759.1 664.7M816.8 680.7L815.3 676.6M654.0 668.0L660.8 668.7M784.9 694.5L791.0 695.1M564.5 672.9L572.2 671.4M704.0 664.9L704.1 659.8M648.8 678.5L650.6 674.4M690.1 705.0L699.3 698.1M732.4 688.6L732.6 686.9M876.5 691.5L883.2 686.3M562.4 678.5L564.5 672.9M725.1 684.0L732.4 684.0M555.8 698.7L558.1 692.1M852.1 694.3L860.9 695.4M812.7 672.5L820.6 673.1M695.9 672.3L696.6 667.0M699.3 698.1L700.5 692.8M667.0 702.8L676.1 696.2M856.8 681.2L855.0 675.3M807.4 674.9L815.3 676.6M872.2 705.4L878.9 699.9M810.5 682.8L816.8 680.7M609.5 718.0L617.7 715.9M547.4 697.7L555.8 698.7M603.0 714.7L609.5 718.0M598.3 706.2L600.0 698.5M577.9 675.4L585.6 672.8M622.8 691.7L624.7 682.9M850.2 663.6L856.7 660.5M724.9 677.7L732.0 681.4M793.5 673.7L801.1 676.0M709.1 687.9L716.8 687.6M777.2 689.8L775.7 685.5M682.3 705.4L690.1 705.0M847.7 707.9L845.5 700.7M746.3 682.6L753.5 682.0M766.8 680.4L772.5 678.8M572.2 671.4L574.2 665.5M664.7 676.0L671.9 677.1M723.3 693.4L724.0 690.1M674.6 668.2L681.7 668.5M710.8 673.8L717.9 677.5M548.7 675.2L554.4 678.8M548.8 713.9L551.2 709.5M740.1 692.9L740.3 689.2M603.6 682.2L605.5 676.3M832.9 709.4L841.4 712.7M619.3 708.5L627.8 704.1"/><path id="wb8" d="M864.3 729.7L870.7 725.5M740.1 692.9L748.3 695.4M926.5 745.9L937.1 749.8M674.1 740.4L675.2 735.0M800.8 707.1L808.9 713.3M816.5 730.5L814.8 726.2M804.4 716.6L810.9 717.8M729.2 717.0L738.7 713.1M562.0 734.8L564.3 730.7M510.6 736.2L514.0 729.4M730.8 701.3L739.3 705.1M810.4 735.1L809.1 730.1M885.9 747.4L892.5 744.2M789.2 710.8L796.1 710.7M819.3 722.7L825.5 722.7M520.5 716.1L527.3 720.0M605.3 729.6L613.4 731.1M912.6 738.3L909.3 734.2M738.7 713.1L747.5 717.5M774.5 734.9L783.9 736.9M583.6 725.1L590.3 726.5M623.3 742.1L631.7 743.4M531.1 729.0L541.0 726.8M843.9 742.2L853.3 745.8M614.8 727.2L623.0 726.5M541.0 726.8L547.9 729.8M549.7 743.2L557.1 744.6M675.2 735.0L684.5 728.6M944.1 747.7L940.3 742.3M782.5 718.6L790.3 716.3M794.5 705.6L800.8 707.1M848.0 738.9L857.2 742.4M810.9 717.8L819.3 722.7M600.0 723.3L608.1 723.0M708.0 743.3L717.7 738.0M821.5 726.8L819.3 722.7M524.2 725.9L527.3 720.0M876.1 746.5L885.9 747.4M796.1 710.7L794.5 705.6M827.4 739.1L825.5 734.8M552.9 721.6L559.7 724.7M905.8 739.5L912.6 738.3M738.7 713.1L739.3 705.1M810.9 717.8L808.9 713.3M903.2 723.6L900.3 716.4M814.9 713.7L823.2 718.2M829.2 717.2L837.7 721.3M626.3 739.6L634.6 740.1M806.1 721.0L804.4 716.6M907.0 712.9L916.6 717.2M681.4 748.3L682.3 741.4M929.8 739.6L926.3 735.0M798.9 720.5L806.1 721.0M796.1 710.7L804.4 716.6M748.1 701.7L748.3 695.4M860.0 745.8L857.2 742.4M926.5 745.9L922.9 741.2M922.9 741.2L929.8 739.6M937.1 749.8L944.1 747.7M640.9 742.8L641.9 741.3M590.3 726.5L598.5 726.2M884.0 716.3L890.7 712.0M664.2 749.0L672.3 752.1M691.7 734.9L692.8 727.5M899.4 731.4L896.4 726.2M840.2 726.4L849.0 730.2M567.0 740.0L569.2 736.0M523.6 709.7L533.1 708.6M779.8 700.4L786.5 699.9M919.8 724.1L929.7 726.6M620.3 735.0L628.6 735.0M853.3 745.8L860.0 745.8M539.4 747.3L549.7 743.2M600.0 734.3L607.4 737.1M814.8 726.2L821.5 726.8M567.0 740.0L574.4 739.1M709.8 726.4L718.6 729.4M557.4 728.2L564.3 730.7M692.8 727.5L702.4 718.8M933.1 732.2L929.7 726.6M547.9 729.8L557.4 728.2M545.2 735.0L552.4 737.6M578.3 732.9L580.2 730.2M533.1 708.6L539.7 713.4M539.7 713.4L548.8 713.9M765.3 718.1L773.7 714.9M717.7 738.0L718.6 729.4M703.6 711.8L713.1 703.4M535.2 738.2L545.2 735.0M585.3 722.6L593.4 721.1M834.1 726.9L840.2 726.4M765.3 725.5L774.3 728.4M825.5 722.7L823.2 718.2M739.3 705.1L748.1 701.7M647.7 746.9L655.5 750.4M916.6 717.2L923.2 712.9M825.5 722.7L834.1 726.9M552.4 737.6L562.0 734.8M870.7 725.5L880.1 727.3M876.5 736.2L883.0 732.7M916.2 732.4L926.3 735.0M774.5 734.9L774.3 728.4M640.9 742.8L648.5 744.3M628.6 735.0L630.0 730.4M514.2 746.1L521.5 749.1M631.7 743.4L632.6 742.3M843.9 742.2L841.5 738.5M717.7 738.0L726.8 743.2M816.5 730.5L825.5 734.8M713.1 703.4L721.5 704.5M635.8 737.7L644.3 735.7M545.2 735.0L547.9 729.8M654.6 725.9L662.2 726.6M613.4 731.1L620.3 735.0M657.2 743.0L665.0 744.2M677.8 724.5L679.2 718.8M699.2 743.1L708.0 743.3M679.2 718.8L688.6 711.0M609.7 735.8L616.9 738.6M634.6 740.1L641.9 741.3M836.6 731.0L845.4 735.1M837.7 721.3L843.8 719.0M684.5 728.6L685.8 722.6M583.7 734.9L585.5 732.8M660.7 732.1L668.5 731.2M792.8 732.9L802.1 736.0M819.8 739.7L827.4 739.1M913.0 727.0L919.8 724.1M883.0 732.7L892.7 733.9M836.7 742.6L843.9 742.2M569.2 736.0L578.3 732.9M895.8 737.7L905.8 739.5M720.6 712.1L729.2 717.0M902.5 745.2L909.2 743.4M647.7 746.9L648.5 744.3M638.5 727.9L645.7 730.6M573.3 729.0L575.2 726.2M747.0 726.1L756.0 729.7M510.6 736.2L517.7 739.0M765.3 725.5L765.3 718.1M583.6 725.1L585.3 722.6M524.2 725.9L531.1 729.0M912.6 738.3L922.9 741.2M671.4 719.9L679.2 718.8M655.5 750.4L664.2 749.0M568.5 724.2L570.5 721.5M552.9 721.6L555.3 718.2M562.0 734.8L569.2 736.0M860.0 745.8L869.5 748.4M764.8 703.6L773.2 708.2M841.5 738.5L848.0 738.9M702.4 718.8L703.6 711.8M651.8 736.5L660.7 732.1M630.0 730.4L638.5 727.9M773.7 714.9L782.5 718.6M600.0 734.3L601.3 733.5M848.0 738.9L845.4 735.1M876.1 746.5L873.0 743.0M765.0 739.5L774.5 734.9M583.7 734.9L591.1 734.1M827.4 739.1L836.7 742.6M648.5 744.3L657.2 743.0M773.7 714.9L773.2 708.2M728.4 725.9L729.2 717.0M713.1 703.4L714.2 697.9M867.1 734.9L876.5 736.2M869.5 748.4L876.1 746.5M685.8 722.6L695.3 714.4M632.6 742.3L640.9 742.8M710.9 717.9L720.6 712.1M658.2 739.8L667.2 735.7M644.3 735.7L645.7 730.6M573.3 729.0L580.2 730.2M840.2 726.4L837.7 721.3M889.2 740.6L895.8 737.7M702.4 718.8L710.9 717.9M610.9 735.1L619.1 737.1M695.3 714.4L696.7 708.7M668.5 731.2L677.8 724.5M520.5 716.1L523.6 709.7M909.3 734.2L916.2 732.4M607.4 737.1L615.9 739.2M650.5 739.7L658.2 739.8M851.7 734.8L849.0 730.2M867.1 734.9L864.3 729.7M681.4 748.3L689.8 750.2M874.7 713.5L884.0 716.3M919.8 724.1L916.6 717.2M830.2 730.8L836.6 731.0M916.2 732.4L913.0 727.0M548.8 713.9L555.3 718.2M684.5 728.6L692.8 727.5M543.7 722.2L552.9 721.6M823.2 718.2L829.2 717.2M886.7 723.3L896.4 726.2M714.2 697.9L723.3 693.4M634.6 740.1L635.8 737.7M774.3 728.4L783.0 724.7M660.7 732.1L662.2 726.6M855.2 727.6L852.6 721.6M919.6 747.1L926.5 745.9M598.5 726.2L600.0 723.3M564.0 718.5L570.5 721.5M555.3 718.2L564.0 718.5M836.6 731.0L834.1 726.9M892.5 744.2L902.5 745.2M851.7 734.8L860.8 737.6M855.2 727.6L864.3 729.7M604.0 731.5L610.9 735.1M783.0 724.7L792.1 727.3M720.6 712.1L721.5 704.5M557.1 744.6L567.0 740.0M792.8 732.9L792.1 727.3M771.7 695.8L779.8 700.4M883.0 732.7L880.1 727.3M745.9 742.2L755.7 737.3M639.3 746.5L647.7 746.9M764.4 697.2L771.7 695.8M783.0 724.7L782.5 718.6M723.3 693.4L731.5 695.5M667.2 735.7L675.2 735.0M909.2 743.4L919.6 747.1M657.2 743.0L658.2 739.8M728.4 725.9L737.3 730.7M873.0 743.0L879.5 740.2M756.5 713.8L765.3 718.1M691.7 734.9L700.2 734.8M541.0 726.8L543.7 722.2M718.6 729.4L728.4 725.9M859.0 716.6L868.0 718.6M532.1 744.8L535.2 738.2M709.8 726.4L710.9 717.9M608.1 723.0L614.8 727.2M645.7 730.6L654.6 725.9M879.5 740.2L876.5 736.2M578.8 720.8L585.3 722.6M601.3 733.5L609.7 735.8M593.4 721.1L600.0 723.3M527.3 720.0L536.9 718.3M688.6 711.0L696.7 708.7M748.3 695.4L756.3 693.2M721.5 704.5L730.8 701.3M665.0 744.2L674.1 740.4M808.9 713.3L814.9 713.7M578.3 732.9L585.5 732.8M792.1 727.3L800.1 725.4M868.0 718.6L874.7 713.5M755.7 737.3L765.0 739.5M616.9 738.6L625.2 740.4M594.2 731.5L595.7 730.1M528.0 735.2L535.2 738.2M783.9 736.9L792.8 732.9M736.7 739.2L737.3 730.7M595.7 730.1L604.0 731.5M564.3 730.7L573.3 729.0M780.8 706.4L779.8 700.4M895.8 737.7L892.7 733.9M809.1 730.1L816.5 730.5M588.8 728.7L590.3 726.5M800.1 725.4L809.1 730.1M594.2 731.5L601.3 733.5M664.2 749.0L665.0 744.2M682.3 741.4L691.7 734.9M890.7 712.0L900.3 716.4M790.3 716.3L798.9 720.5M756.5 713.8L756.6 706.1M863.6 741.5L860.8 737.6M730.8 701.3L731.5 695.5M677.8 724.5L685.8 722.6M559.7 724.7L568.5 724.2M521.5 749.1L532.1 744.8M574.4 739.1L583.7 734.9M900.3 716.4L907.0 712.9M863.6 741.5L873.0 743.0M857.2 742.4L863.6 741.5M764.8 703.6L764.4 697.2M737.3 730.7L747.0 726.1M821.5 726.8L830.2 730.8M662.2 726.6L671.4 719.9M929.8 739.6L940.3 742.3M903.2 723.6L913.0 727.0M570.5 721.5L578.8 720.8M585.5 732.8L594.2 731.5M748.1 701.7L756.6 706.1M644.3 735.7L651.8 736.5M517.7 739.0L528.0 735.2M536.9 718.3L543.7 722.2M756.3 693.2L764.4 697.2M613.4 731.1L614.8 727.2M557.4 728.2L559.7 724.7M695.3 714.4L703.6 711.8M609.7 735.8L610.9 735.1M756.0 729.7L765.3 725.5M896.4 726.2L903.2 723.6M825.5 734.8L832.4 734.7M886.7 723.3L884.0 716.3M615.9 739.2L623.3 742.1M689.8 750.2L699.2 743.1M514.2 746.1L517.7 739.0M800.1 725.4L798.9 720.5M892.5 744.2L889.2 740.6M870.7 725.5L868.0 718.6M604.0 731.5L605.3 729.6M588.8 728.7L595.7 730.1M575.2 726.2L583.6 725.1M528.0 735.2L531.1 729.0M747.0 726.1L747.5 717.5M615.9 739.2L616.9 738.6M726.8 743.2L736.7 739.2M747.5 717.5L756.5 713.8M892.7 733.9L899.4 731.4M650.5 739.7L651.8 736.5M549.7 743.2L552.4 737.6M909.2 743.4L905.8 739.5M591.1 734.1L600.0 734.3M806.1 721.0L814.8 726.2M880.1 727.3L886.7 723.3M706.0 700.5L714.2 697.9M780.8 706.4L789.2 710.8M674.1 740.4L682.3 741.4M619.1 737.1L626.3 739.6M672.3 752.1L681.4 748.3M532.1 744.8L539.4 747.3M843.8 719.0L852.6 721.6M879.5 740.2L889.2 740.6M580.2 730.2L588.8 728.7M568.5 724.2L575.2 726.2M899.4 731.4L909.3 734.2M625.2 740.4L626.3 739.6M514.0 729.4L524.2 725.9M628.6 735.0L635.8 737.7M598.5 726.2L605.3 729.6M810.4 735.1L819.8 739.7M619.1 737.1L620.3 735.0M756.6 706.1L764.8 703.6M536.9 718.3L539.7 713.4M699.2 743.1L700.2 734.8M849.0 730.2L855.2 727.6M852.6 721.6L859.0 716.6M802.1 736.0L810.4 735.1M860.8 737.6L867.1 734.9M625.2 740.4L632.6 742.3M631.7 743.4L639.3 746.5M790.3 716.3L789.2 710.8M845.4 735.1L851.7 734.8M736.7 739.2L745.9 742.2M773.2 708.2L780.8 706.4M700.2 734.8L709.8 726.4M926.3 735.0L933.1 732.2M623.0 726.5L630.0 730.4M755.7 737.3L756.0 729.7M832.4 734.7L830.2 730.8M667.2 735.7L668.5 731.2M786.5 699.9L794.5 705.6M641.9 741.3L650.5 739.7M731.5 695.5L740.1 692.9M696.7 708.7L706.0 700.5M832.4 734.7L841.5 738.5"/><path id="wa9" d="M551.2 709.5h0M544.9 703.3h0M535.9 703.0h0M566.1 715.0h0M559.8 710.3h0M580.6 717.5h0M574.3 714.6h0M595.0 717.3h0M588.6 715.5h0M609.5 718.0h0M603.0 714.7h0M624.5 720.1h0M617.7 715.9h0M640.0 720.6h0M633.0 716.6h0M656.2 718.3h0M648.9 715.7h0M673.0 712.8h0M665.4 711.7h0M690.1 705.0h0M682.3 705.4h0M707.2 696.0h0M699.3 698.1h0M724.0 690.1h0M716.1 690.4h0M740.3 689.2h0M732.4 688.6h0M755.9 688.7h0M748.0 687.2h0M770.7 690.6h0M762.9 687.4h0M784.9 694.5h0M777.2 689.8h0M798.8 701.9h0M791.0 695.1h0M812.7 708.4h0M804.7 702.8h0M826.8 711.6h0M818.6 707.3h0M841.4 712.7h0M832.9 709.4h0M856.5 709.3h0M847.7 707.9h0M872.2 705.4h0M863.1 703.2h0M888.1 703.6h0M878.9 699.9h0M904.2 704.3h0M894.8 699.3h0M920.1 704.8h0M910.7 700.5h0M547.4 697.7h0M541.2 691.6h0M532.4 691.8h0M529.5 697.5h0M561.9 705.1h0M555.8 698.7h0M576.2 709.5h0M570.1 704.7h0M590.3 710.2h0M584.1 707.1h0M604.6 708.7h0M598.3 706.2h0M619.3 708.5h0M612.8 704.8h0M634.6 708.0h0M627.8 704.1h0M650.6 706.5h0M643.4 702.9h0M667.0 702.8h0M659.6 700.2h0M683.7 697.8h0M676.1 696.2h0M700.5 692.8h0M692.8 692.0h0M716.8 687.6h0M709.1 687.9h0M732.6 686.9h0M725.0 685.9h0M747.6 685.2h0M740.1 685.6h0M762.0 684.2h0M754.5 683.5h0M775.7 685.5h0M768.2 683.0h0M789.2 690.0h0M781.6 685.0h0M802.6 697.1h0M794.9 690.9h0M816.4 701.1h0M808.4 696.5h0M830.7 702.8h0M822.4 698.9h0M845.5 700.7h0M837.0 699.0h0M860.9 695.4h0M852.1 694.3h0M876.5 691.5h0M867.6 689.3h0M892.3 690.4h0M883.2 686.3h0M907.9 691.5h0M898.8 686.4h0M558.1 692.1h0M552.1 685.3h0M543.8 685.9h0M572.0 697.5h0M566.1 691.4h0M585.9 699.6h0M579.9 694.8h0M600.0 698.5h0M593.8 695.0h0M614.5 696.7h0M608.1 693.1h0M629.5 695.3h0M622.8 691.7h0M645.2 693.6h0M638.2 689.9h0M661.3 690.9h0M654.1 688.0h0M677.7 687.6h0M670.3 684.9h0M694.0 685.1h0M686.5 682.3h0M709.9 683.6h0M702.4 681.5h0M725.1 684.0h0M717.8 681.5h0M739.7 684.5h0M732.4 684.0h0M753.5 682.0h0M746.3 682.6h0M766.8 680.4h0M759.5 680.1h0M779.8 681.0h0M772.5 678.8h0M792.9 685.7h0M785.4 680.8h0M806.4 690.3h0M798.6 685.7h0M820.4 692.3h0M812.3 688.4h0M835.0 692.2h0M826.6 689.5h0M850.1 687.2h0M841.5 686.9h0M865.5 682.1h0M856.8 681.2h0M881.0 678.7h0M872.2 676.8h0M896.3 678.3h0M887.5 674.6h0M911.2 679.6h0M902.5 675.4h0M914.1 687.6h0M554.4 678.8h0M548.7 675.2h0M540.4 676.8h0M537.8 681.5h0M568.1 683.4h0M562.4 678.5h0M581.8 685.8h0M575.9 681.8h0M595.6 685.7h0M589.6 682.9h0M609.9 684.2h0M603.6 682.2h0M624.7 682.9h0M618.1 681.0h0M640.1 681.5h0M633.3 679.9h0M655.9 679.9h0M648.8 678.5h0M671.9 677.1h0M664.7 676.0h0M687.7 675.1h0M680.5 673.2h0M703.2 675.6h0M695.9 672.3h0M717.9 677.5h0M710.8 673.8h0M732.0 681.4h0M724.9 677.7h0M745.3 680.8h0M738.3 680.1h0M758.2 678.2h0M751.2 678.3h0M770.8 676.2h0M763.7 675.9h0M783.6 677.0h0M776.3 674.6h0M796.8 680.8h0M789.2 677.1h0M810.5 682.8h0M802.7 679.8h0M824.9 683.6h0M816.8 680.7h0M839.8 680.9h0M831.5 680.4h0M855.0 675.3h0M846.5 675.4h0M870.2 671.0h0M861.7 670.5h0M885.2 668.5h0M876.7 666.9h0M899.9 669.1h0M891.4 665.9h0M564.5 672.9h0M558.9 668.5h0M551.0 670.6h0M577.9 675.4h0M572.2 671.4h0M591.5 676.4h0M585.6 672.8h0M605.5 676.3h0M599.4 673.3h0M620.1 675.9h0M613.7 673.3h0M635.2 675.4h0M628.5 673.4h0M650.6 674.4h0M643.8 673.0h0M666.2 671.8h0M659.3 671.7h0M681.7 668.5h0M674.6 668.2h0M696.6 667.0h0M689.6 665.1h0M710.9 668.5h0M704.0 664.9h0M724.5 672.9h0M717.7 667.4h0M737.4 676.0h0M730.6 672.5h0M749.8 675.1h0M743.1 673.4h0M762.1 673.1h0M755.3 672.1h0M774.6 671.8h0M767.5 670.6h0M787.6 673.8h0M780.2 671.0h0M801.1 676.0h0M793.5 673.7h0M815.3 676.6h0M807.4 674.9h0M830.0 676.0h0M821.9 675.2h0M844.9 670.9h0M836.7 672.1h0M860.0 666.3h0M851.7 666.5h0M874.7 662.9h0M866.5 662.8h0M889.1 661.8h0M880.9 660.3h0M903.1 662.9h0M894.9 660.8h0M905.7 667.1h0M561.0 663.1h0M555.6 660.3h0M547.8 663.8h0M545.4 668.6h0M574.2 665.5h0M568.6 661.7h0M587.5 666.6h0M581.8 663.4h0M601.3 667.3h0M595.3 664.2h0M615.6 668.1h0M609.4 665.1h0M630.4 669.0h0M623.9 666.4h0M645.6 669.4h0M638.9 667.4h0M660.8 668.7h0M654.0 668.0h0M675.8 665.2h0M669.0 665.9h0M690.3 661.2h0M683.5 661.6h0M704.1 659.8h0M697.5 658.0h0M717.2 661.4h0M710.6 657.3h0M729.7 666.1h0M723.2 660.6h0M741.8 667.5h0M735.2 663.7h0M753.8 667.4h0M747.1 664.5h0M766.0 667.0h0M759.1 664.7h0M778.7 668.3h0M771.6 665.5h0M792.1 671.5h0M784.6 668.9h0M806.1 672.8h0M798.4 671.7h0M820.6 673.1h0M812.7 672.5h0M835.4 669.6h0M827.4 671.4h0M850.2 663.6h0M842.2 665.3h0M864.7 659.9h0M856.7 660.5h0M878.9 657.5h0M870.9 657.2h0M892.6 658.1h0M884.7 656.3h0"/><path id="wa10" d="M535.2 738.2h0M528.0 735.2h0M517.7 739.0h0M514.2 746.1h0M521.5 749.1h0M532.1 744.8h0M552.4 737.6h0M545.2 735.0h0M539.4 747.3h0M549.7 743.2h0M569.2 736.0h0M562.0 734.8h0M557.1 744.6h0M567.0 740.0h0M585.5 732.8h0M578.3 732.9h0M574.4 739.1h0M583.7 734.9h0M601.3 733.5h0M594.2 731.5h0M591.1 734.1h0M600.0 734.3h0M616.9 738.6h0M609.7 735.8h0M607.4 737.1h0M615.9 739.2h0M632.6 742.3h0M625.2 740.4h0M623.3 742.1h0M631.7 743.4h0M648.5 744.3h0M640.9 742.8h0M639.3 746.5h0M647.7 746.9h0M665.0 744.2h0M657.2 743.0h0M655.5 750.4h0M664.2 749.0h0M682.3 741.4h0M674.1 740.4h0M672.3 752.1h0M681.4 748.3h0M700.2 734.8h0M691.7 734.9h0M689.8 750.2h0M699.2 743.1h0M718.6 729.4h0M709.8 726.4h0M708.0 743.3h0M717.7 738.0h0M737.3 730.7h0M728.4 725.9h0M726.8 743.2h0M736.7 739.2h0M756.0 729.7h0M747.0 726.1h0M745.9 742.2h0M755.7 737.3h0M774.3 728.4h0M765.3 725.5h0M765.0 739.5h0M774.5 734.9h0M792.1 727.3h0M783.0 724.7h0M783.9 736.9h0M792.8 732.9h0M809.1 730.1h0M800.1 725.4h0M802.1 736.0h0M810.4 735.1h0M825.5 734.8h0M816.5 730.5h0M819.8 739.7h0M827.4 739.1h0M841.5 738.5h0M832.4 734.7h0M836.7 742.6h0M843.9 742.2h0M857.2 742.4h0M848.0 738.9h0M853.3 745.8h0M860.0 745.8h0M873.0 743.0h0M863.6 741.5h0M869.5 748.4h0M876.1 746.5h0M889.2 740.6h0M879.5 740.2h0M885.9 747.4h0M892.5 744.2h0M905.8 739.5h0M895.8 737.7h0M902.5 745.2h0M909.2 743.4h0M922.9 741.2h0M912.6 738.3h0M919.6 747.1h0M926.5 745.9h0M940.3 742.3h0M929.8 739.6h0M937.1 749.8h0M944.1 747.7h0M531.1 729.0h0M524.2 725.9h0M514.0 729.4h0M510.6 736.2h0M547.9 729.8h0M541.0 726.8h0M564.3 730.7h0M557.4 728.2h0M580.2 730.2h0M573.3 729.0h0M595.7 730.1h0M588.8 728.7h0M610.9 735.1h0M604.0 731.5h0M626.3 739.6h0M619.1 737.1h0M641.9 741.3h0M634.6 740.1h0M658.2 739.8h0M650.5 739.7h0M675.2 735.0h0M667.2 735.7h0M692.8 727.5h0M684.5 728.6h0M710.9 717.9h0M702.4 718.8h0M729.2 717.0h0M720.6 712.1h0M747.5 717.5h0M738.7 713.1h0M765.3 718.1h0M756.5 713.8h0M782.5 718.6h0M773.7 714.9h0M798.9 720.5h0M790.3 716.3h0M814.8 726.2h0M806.1 721.0h0M830.2 730.8h0M821.5 726.8h0M845.4 735.1h0M836.6 731.0h0M860.8 737.6h0M851.7 734.8h0M876.5 736.2h0M867.1 734.9h0M892.7 733.9h0M883.0 732.7h0M909.3 734.2h0M899.4 731.4h0M926.3 735.0h0M916.2 732.4h0M543.7 722.2h0M536.9 718.3h0M527.3 720.0h0M559.7 724.7h0M552.9 721.6h0M575.2 726.2h0M568.5 724.2h0M590.3 726.5h0M583.6 725.1h0M605.3 729.6h0M598.5 726.2h0M620.3 735.0h0M613.4 731.1h0M635.8 737.7h0M628.6 735.0h0M651.8 736.5h0M644.3 735.7h0M668.5 731.2h0M660.7 732.1h0M685.8 722.6h0M677.8 724.5h0M703.6 711.8h0M695.3 714.4h0M721.5 704.5h0M713.1 703.4h0M739.3 705.1h0M730.8 701.3h0M756.6 706.1h0M748.1 701.7h0M773.2 708.2h0M764.8 703.6h0M789.2 710.8h0M780.8 706.4h0M804.4 716.6h0M796.1 710.7h0M819.3 722.7h0M810.9 717.8h0M834.1 726.9h0M825.5 722.7h0M849.0 730.2h0M840.2 726.4h0M864.3 729.7h0M855.2 727.6h0M880.1 727.3h0M870.7 725.5h0M896.4 726.2h0M886.7 723.3h0M913.0 727.0h0M903.2 723.6h0M929.7 726.6h0M919.8 724.1h0M933.1 732.2h0M539.7 713.4h0M533.1 708.6h0M523.6 709.7h0M520.5 716.1h0M555.3 718.2h0M548.8 713.9h0M570.5 721.5h0M564.0 718.5h0M585.3 722.6h0M578.8 720.8h0M600.0 723.3h0M593.4 721.1h0M614.8 727.2h0M608.1 723.0h0M630.0 730.4h0M623.0 726.5h0M645.7 730.6h0M638.5 727.9h0M662.2 726.6h0M654.6 725.9h0M679.2 718.8h0M671.4 719.9h0M696.7 708.7h0M688.6 711.0h0M714.2 697.9h0M706.0 700.5h0M731.5 695.5h0M723.3 693.4h0M748.3 695.4h0M740.1 692.9h0M764.4 697.2h0M756.3 693.2h0M779.8 700.4h0M771.7 695.8h0M794.5 705.6h0M786.5 699.9h0M808.9 713.3h0M800.8 707.1h0M823.2 718.2h0M814.9 713.7h0M837.7 721.3h0M829.2 717.2h0M852.6 721.6h0M843.8 719.0h0M868.0 718.6h0M859.0 716.6h0M884.0 716.3h0M874.7 713.5h0M900.3 716.4h0M890.7 712.0h0M916.6 717.2h0M907.0 712.9h0M923.2 712.9h0"/><g id="wavy"><g fill="none" stroke-linecap="round"><use href="#wb7" stroke="#14602a" stroke-width="2.22" opacity="0.75"/><use href="#wb8" stroke="#14602a" stroke-width="2.55" opacity="0.75"/><use href="#wb7" stroke="#3f9e55" stroke-width="1.32"/><use href="#wb8" stroke="#3f9e55" stroke-width="1.65"/><use href="#wa9" stroke="#14602a" stroke-width="4.82" opacity="0.85"/><use href="#wa9" stroke="#379a4e" stroke-width="3.92"/><use href="#wa9" stroke="#7ad38b" stroke-width="1.96" transform="translate(-0.59,-0.69)"/><use href="#wa10" stroke="#14602a" stroke-width="5.80" opacity="0.85"/><use href="#wa10" stroke="#379a4e" stroke-width="4.90"/><use href="#wa10" stroke="#7ad38b" stroke-width="2.45" transform="translate(-0.73,-0.86)"/></g></g></defs>
<g filter="url(#soft)"><g fill="none" stroke-linecap="round"><use href="#ob1" stroke="#14602a" stroke-width="2.21" opacity="0.75"/><use href="#ob2" stroke="#14602a" stroke-width="2.43" opacity="0.75"/><use href="#ob3" stroke="#14602a" stroke-width="2.65" opacity="0.75"/><use href="#ob1" stroke="#3f9e55" stroke-width="1.31"/><use href="#ob2" stroke="#3f9e55" stroke-width="1.53"/><use href="#ob3" stroke="#3f9e55" stroke-width="1.75"/><use href="#oa4" stroke="#14602a" stroke-width="4.35" opacity="0.85"/><use href="#oa4" stroke="#379a4e" stroke-width="3.45"/><use href="#oa4" stroke="#7ad38b" stroke-width="1.72" transform="translate(-0.52,-0.60)"/><use href="#oa5" stroke="#14602a" stroke-width="4.92" opacity="0.85"/><use href="#oa5" stroke="#379a4e" stroke-width="4.02"/><use href="#oa5" stroke="#7ad38b" stroke-width="2.01" transform="translate(-0.60,-0.70)"/><use href="#oa6" stroke="#14602a" stroke-width="5.50" opacity="0.85"/><use href="#oa6" stroke="#379a4e" stroke-width="4.60"/><use href="#oa6" stroke="#7ad38b" stroke-width="2.30" transform="translate(-0.69,-0.80)"/></g></g>
<g filter="url(#soft)"><use href="#wavy"/><use href="#wavy" transform="translate(22.5,95.7)"/><use href="#wavy" transform="matrix(1.09 0 0 1.09 695.6 -79.85)"/><use href="#wavy" transform="matrix(1.09 0 0 1.09 720.1 22.65)"/></g>
<g transform="translate(2.5,8)" fill="#1a1a1a" stroke="#1a1a1a" stroke-width="5.6" stroke-linejoin="round" opacity="0.55" filter="url(#shadow2)"><polygon points="1330.5,661.8 1345.2,658.1 1360.9,668.2 1360.3,682.3 1346.4,684.9 1329.7,674.5"/><polygon points="1359.9,667.9 1373.3,664.8 1391.9,678.8 1392.7,693.0 1376.4,694.9 1360.3,682.3"/><polygon points="1342.1,686.1 1356.8,682.0 1378.0,694.7 1379.2,708.9 1365.0,714.5 1342.9,700.9"/></g><g transform="translate(-1.6,4.4)" fill="#1f3e69" stroke="#1f3e69" stroke-width="5.6" stroke-linejoin="miter"><polygon points="1330.5,661.8 1345.2,658.1 1360.9,668.2 1360.3,682.3 1346.4,684.9 1329.7,674.5"/><polygon points="1359.9,667.9 1373.3,664.8 1391.9,678.8 1392.7,693.0 1376.4,694.9 1360.3,682.3"/><polygon points="1342.1,686.1 1356.8,682.0 1378.0,694.7 1379.2,708.9 1365.0,714.5 1342.9,700.9"/></g><polygon points="1345.0,692.5 1324.9,679.5 1327.8,679.0 1344.8,689.6" fill="url(#gStrip)"/><polygon points="1364.2,722.0 1338.1,705.9 1341.0,705.4 1363.5,719.2" fill="url(#gStrip)"/><polygon points="1380.4,715.0 1364.2,722.0 1363.5,719.2 1377.9,713.5" fill="url(#gStrip)"/><g filter="url(#soft2)"><polygon points="1330.5,661.8 1345.2,658.1 1345.5,671.7" fill="#ffdc38" stroke="#ffdc38" stroke-width="0.6"/><polygon points="1345.2,658.1 1360.9,668.2 1345.5,671.7" fill="#f4c618" stroke="#f4c618" stroke-width="0.6"/><polygon points="1360.9,668.2 1360.3,682.3 1345.5,671.7" fill="#d8a206" stroke="#d8a206" stroke-width="0.6"/><polygon points="1360.3,682.3 1346.4,684.9 1345.5,671.7" fill="#e0aa04" stroke="#e0aa04" stroke-width="0.6"/><polygon points="1346.4,684.9 1329.7,674.5 1345.5,671.7" fill="#ecb608" stroke="#ecb608" stroke-width="0.6"/><polygon points="1329.7,674.5 1330.5,661.8 1345.5,671.7" fill="#fccf24" stroke="#fccf24" stroke-width="0.6"/><circle cx="1337.2" cy="667.2" r="4.5" fill="url(#gHi)"/></g><g filter="url(#soft2)"><polygon points="1359.9,667.9 1373.3,664.8 1375.8,680.3" fill="#ffdc38" stroke="#ffdc38" stroke-width="0.6"/><polygon points="1373.3,664.8 1391.9,678.8 1375.8,680.3" fill="#f4c618" stroke="#f4c618" stroke-width="0.6"/><polygon points="1391.9,678.8 1392.7,693.0 1375.8,680.3" fill="#d8a206" stroke="#d8a206" stroke-width="0.6"/><polygon points="1392.7,693.0 1376.4,694.9 1375.8,680.3" fill="#e0aa04" stroke="#e0aa04" stroke-width="0.6"/><polygon points="1376.4,694.9 1360.3,682.3 1375.8,680.3" fill="#ecb608" stroke="#ecb608" stroke-width="0.6"/><polygon points="1360.3,682.3 1359.9,667.9 1375.8,680.3" fill="#fccf24" stroke="#fccf24" stroke-width="0.6"/><circle cx="1367.0" cy="674.7" r="4.5" fill="url(#gHi)"/></g><g filter="url(#soft2)"><polygon points="1342.1,686.1 1356.8,682.0 1360.7,697.9" fill="#ffdc38" stroke="#ffdc38" stroke-width="0.6"/><polygon points="1356.8,682.0 1378.0,694.7 1360.7,697.9" fill="#f4c618" stroke="#f4c618" stroke-width="0.6"/><polygon points="1378.0,694.7 1379.2,708.9 1360.7,697.9" fill="#d8a206" stroke="#d8a206" stroke-width="0.6"/><polygon points="1379.2,708.9 1365.0,714.5 1360.7,697.9" fill="#e0aa04" stroke="#e0aa04" stroke-width="0.6"/><polygon points="1365.0,714.5 1342.9,700.9 1360.7,697.9" fill="#ecb608" stroke="#ecb608" stroke-width="0.6"/><polygon points="1342.9,700.9 1342.1,686.1 1360.7,697.9" fill="#fccf24" stroke="#fccf24" stroke-width="0.6"/><circle cx="1350.5" cy="692.6" r="4.5" fill="url(#gHi)"/></g>
<g transform="translate(2.5,8)" fill="#1a1a1a" stroke="#1a1a1a" stroke-width="5.6" stroke-linejoin="round" opacity="0.55" filter="url(#shadow2)"><polygon points="1417.9,665.7 1431.8,657.3 1446.8,663.5 1446.2,678.9 1433.0,685.8 1417.1,679.6"/><polygon points="1445.7,663.5 1458.5,656.1 1476.1,665.7 1476.8,680.8 1461.4,687.7 1446.2,678.9"/><polygon points="1428.9,688.4 1442.8,679.6 1462.9,687.0 1464.1,701.9 1450.6,712.2 1429.6,704.1"/></g><g transform="translate(-1.6,4.4)" fill="#1f3e69" stroke="#1f3e69" stroke-width="5.6" stroke-linejoin="miter"><polygon points="1417.9,665.7 1431.8,657.3 1446.8,663.5 1446.2,678.9 1433.0,685.8 1417.1,679.6"/><polygon points="1445.7,663.5 1458.5,656.1 1476.1,665.7 1476.8,680.8 1461.4,687.7 1446.2,678.9"/><polygon points="1428.9,688.4 1442.8,679.6 1462.9,687.0 1464.1,701.9 1450.6,712.2 1429.6,704.1"/></g><polygon points="1431.6,693.4 1412.7,685.5 1415.3,684.1 1431.4,690.5" fill="url(#gStrip)"/><polygon points="1449.7,719.7 1425.1,710.0 1427.7,708.7 1449.0,716.9" fill="url(#gStrip)"/><polygon points="1465.5,707.4 1449.7,719.7 1449.0,716.9 1462.7,706.4" fill="url(#gStrip)"/><g filter="url(#soft2)"><polygon points="1417.9,665.7 1431.8,657.3 1432.1,671.8" fill="#ffdc38" stroke="#ffdc38" stroke-width="0.6"/><polygon points="1431.8,657.3 1446.8,663.5 1432.1,671.8" fill="#f4c618" stroke="#f4c618" stroke-width="0.6"/><polygon points="1446.8,663.5 1446.2,678.9 1432.1,671.8" fill="#d8a206" stroke="#d8a206" stroke-width="0.6"/><polygon points="1446.2,678.9 1433.0,685.8 1432.1,671.8" fill="#e0aa04" stroke="#e0aa04" stroke-width="0.6"/><polygon points="1433.0,685.8 1417.1,679.6 1432.1,671.8" fill="#ecb608" stroke="#ecb608" stroke-width="0.6"/><polygon points="1417.1,679.6 1417.9,665.7 1432.1,671.8" fill="#fccf24" stroke="#fccf24" stroke-width="0.6"/><circle cx="1424.3" cy="669.0" r="4.5" fill="url(#gHi)"/></g><g filter="url(#soft2)"><polygon points="1445.7,663.5 1458.5,656.1 1460.8,672.1" fill="#ffdc38" stroke="#ffdc38" stroke-width="0.6"/><polygon points="1458.5,656.1 1476.1,665.7 1460.8,672.1" fill="#f4c618" stroke="#f4c618" stroke-width="0.6"/><polygon points="1476.1,665.7 1476.8,680.8 1460.8,672.1" fill="#d8a206" stroke="#d8a206" stroke-width="0.6"/><polygon points="1476.8,680.8 1461.4,687.7 1460.8,672.1" fill="#e0aa04" stroke="#e0aa04" stroke-width="0.6"/><polygon points="1461.4,687.7 1446.2,678.9 1460.8,672.1" fill="#ecb608" stroke="#ecb608" stroke-width="0.6"/><polygon points="1446.2,678.9 1445.7,663.5 1460.8,672.1" fill="#fccf24" stroke="#fccf24" stroke-width="0.6"/><circle cx="1452.5" cy="668.2" r="4.5" fill="url(#gHi)"/></g><g filter="url(#soft2)"><polygon points="1428.9,688.4 1442.8,679.6 1446.5,695.5" fill="#ffdc38" stroke="#ffdc38" stroke-width="0.6"/><polygon points="1442.8,679.6 1462.9,687.0 1446.5,695.5" fill="#f4c618" stroke="#f4c618" stroke-width="0.6"/><polygon points="1462.9,687.0 1464.1,701.9 1446.5,695.5" fill="#d8a206" stroke="#d8a206" stroke-width="0.6"/><polygon points="1464.1,701.9 1450.6,712.2 1446.5,695.5" fill="#e0aa04" stroke="#e0aa04" stroke-width="0.6"/><polygon points="1450.6,712.2 1429.6,704.1 1446.5,695.5" fill="#ecb608" stroke="#ecb608" stroke-width="0.6"/><polygon points="1429.6,704.1 1428.9,688.4 1446.5,695.5" fill="#fccf24" stroke="#fccf24" stroke-width="0.6"/><circle cx="1436.8" cy="692.3" r="4.5" fill="url(#gHi)"/></g>
<g transform="translate(2.5,8)" fill="#1a1a1a" stroke="#1a1a1a" stroke-width="5.6" stroke-linejoin="round" opacity="0.55" filter="url(#shadow2)"><polygon points="1493.4,660.6 1505.1,654.1 1521.6,663.1 1525.0,679.4 1513.7,684.6 1496.4,675.4"/><polygon points="1520.6,663.0 1531.4,657.3 1551.4,670.4 1556.0,686.6 1542.5,691.4 1525.0,679.4"/><polygon points="1510.3,686.7 1521.9,679.7 1543.8,690.8 1548.9,706.9 1538.1,715.6 1515.2,703.5"/></g><g transform="translate(-1.6,4.4)" fill="#1f3e69" stroke="#1f3e69" stroke-width="5.6" stroke-linejoin="miter"><polygon points="1493.4,660.6 1505.1,654.1 1521.6,663.1 1525.0,679.4 1513.7,684.6 1496.4,675.4"/><polygon points="1520.6,663.0 1531.4,657.3 1551.4,670.4 1556.0,686.6 1542.5,691.4 1525.0,679.4"/><polygon points="1510.3,686.7 1521.9,679.7 1543.8,690.8 1548.9,706.9 1538.1,715.6 1515.2,703.5"/></g><polygon points="1513.0,692.1 1491.8,681.1 1494.5,679.9 1512.2,689.2" fill="url(#gStrip)"/><polygon points="1537.9,722.9 1510.6,709.2 1513.3,708.0 1536.6,720.3" fill="url(#gStrip)"/><polygon points="1550.1,712.8 1537.9,722.9 1536.6,720.3 1547.5,711.5" fill="url(#gStrip)"/><g filter="url(#soft2)"><polygon points="1493.4,660.6 1505.1,654.1 1509.2,669.5" fill="#ffdc38" stroke="#ffdc38" stroke-width="0.6"/><polygon points="1505.1,654.1 1521.6,663.1 1509.2,669.5" fill="#f4c618" stroke="#f4c618" stroke-width="0.6"/><polygon points="1521.6,663.1 1525.0,679.4 1509.2,669.5" fill="#d8a206" stroke="#d8a206" stroke-width="0.6"/><polygon points="1525.0,679.4 1513.7,684.6 1509.2,669.5" fill="#e0aa04" stroke="#e0aa04" stroke-width="0.6"/><polygon points="1513.7,684.6 1496.4,675.4 1509.2,669.5" fill="#ecb608" stroke="#ecb608" stroke-width="0.6"/><polygon points="1496.4,675.4 1493.4,660.6 1509.2,669.5" fill="#fccf24" stroke="#fccf24" stroke-width="0.6"/><circle cx="1500.5" cy="665.5" r="4.5" fill="url(#gHi)"/></g><g filter="url(#soft2)"><polygon points="1520.6,663.0 1531.4,657.3 1537.8,674.7" fill="#ffdc38" stroke="#ffdc38" stroke-width="0.6"/><polygon points="1531.4,657.3 1551.4,670.4 1537.8,674.7" fill="#f4c618" stroke="#f4c618" stroke-width="0.6"/><polygon points="1551.4,670.4 1556.0,686.6 1537.8,674.7" fill="#d8a206" stroke="#d8a206" stroke-width="0.6"/><polygon points="1556.0,686.6 1542.5,691.4 1537.8,674.7" fill="#e0aa04" stroke="#e0aa04" stroke-width="0.6"/><polygon points="1542.5,691.4 1525.0,679.4 1537.8,674.7" fill="#ecb608" stroke="#ecb608" stroke-width="0.6"/><polygon points="1525.0,679.4 1520.6,663.0 1537.8,674.7" fill="#fccf24" stroke="#fccf24" stroke-width="0.6"/><circle cx="1528.3" cy="669.4" r="4.5" fill="url(#gHi)"/></g><g filter="url(#soft2)"><polygon points="1510.3,686.7 1521.9,679.7 1529.7,697.2" fill="#ffdc38" stroke="#ffdc38" stroke-width="0.6"/><polygon points="1521.9,679.7 1543.8,690.8 1529.7,697.2" fill="#f4c618" stroke="#f4c618" stroke-width="0.6"/><polygon points="1543.8,690.8 1548.9,706.9 1529.7,697.2" fill="#d8a206" stroke="#d8a206" stroke-width="0.6"/><polygon points="1548.9,706.9 1538.1,715.6 1529.7,697.2" fill="#e0aa04" stroke="#e0aa04" stroke-width="0.6"/><polygon points="1538.1,715.6 1515.2,703.5 1529.7,697.2" fill="#ecb608" stroke="#ecb608" stroke-width="0.6"/><polygon points="1515.2,703.5 1510.3,686.7 1529.7,697.2" fill="#fccf24" stroke="#fccf24" stroke-width="0.6"/><circle cx="1519.0" cy="692.5" r="4.5" fill="url(#gHi)"/></g>
<g transform="translate(2.5,8)" fill="#1a1a1a" stroke="#1a1a1a" stroke-width="5.6" stroke-linejoin="round" opacity="0.55" filter="url(#shadow2)"><polygon points="1353.3,752.3 1368.6,751.0 1383.0,762.6 1380.3,775.5 1365.9,775.8 1350.7,763.9"/><polygon points="1381.9,762.1 1395.9,761.3 1412.5,776.8 1411.2,790.0 1394.6,789.4 1380.3,775.5"/><polygon points="1361.4,776.3 1376.7,774.7 1396.1,789.4 1395.3,802.6 1380.1,805.7 1359.9,790.0"/></g><g transform="translate(-1.6,4.4)" fill="#1f3e69" stroke="#1f3e69" stroke-width="5.6" stroke-linejoin="miter"><polygon points="1353.3,752.3 1368.6,751.0 1383.0,762.6 1380.3,775.5 1365.9,775.8 1350.7,763.9"/><polygon points="1381.9,762.1 1395.9,761.3 1412.5,776.8 1411.2,790.0 1394.6,789.4 1380.3,775.5"/><polygon points="1361.4,776.3 1376.7,774.7 1396.1,789.4 1395.3,802.6 1380.1,805.7 1359.9,790.0"/></g><polygon points="1364.0,783.4 1345.8,768.4 1348.8,768.3 1364.3,780.5" fill="url(#gStrip)"/><polygon points="1378.9,813.3 1355.1,794.5 1358.1,794.4 1378.6,810.4" fill="url(#gStrip)"/><polygon points="1396.2,809.0 1378.9,813.3 1378.6,810.4 1393.9,807.2" fill="url(#gStrip)"/><g filter="url(#soft2)"><polygon points="1353.3,752.3 1368.6,751.0 1367.0,763.5" fill="#ffdc38" stroke="#ffdc38" stroke-width="0.6"/><polygon points="1368.6,751.0 1383.0,762.6 1367.0,763.5" fill="#f4c618" stroke="#f4c618" stroke-width="0.6"/><polygon points="1383.0,762.6 1380.3,775.5 1367.0,763.5" fill="#d8a206" stroke="#d8a206" stroke-width="0.6"/><polygon points="1380.3,775.5 1365.9,775.8 1367.0,763.5" fill="#e0aa04" stroke="#e0aa04" stroke-width="0.6"/><polygon points="1365.9,775.8 1350.7,763.9 1367.0,763.5" fill="#ecb608" stroke="#ecb608" stroke-width="0.6"/><polygon points="1350.7,763.9 1353.3,752.3 1367.0,763.5" fill="#fccf24" stroke="#fccf24" stroke-width="0.6"/><circle cx="1359.5" cy="758.5" r="4.5" fill="url(#gHi)"/></g><g filter="url(#soft2)"><polygon points="1381.9,762.1 1395.9,761.3 1396.1,775.8" fill="#ffdc38" stroke="#ffdc38" stroke-width="0.6"/><polygon points="1395.9,761.3 1412.5,776.8 1396.1,775.8" fill="#f4c618" stroke="#f4c618" stroke-width="0.6"/><polygon points="1412.5,776.8 1411.2,790.0 1396.1,775.8" fill="#d8a206" stroke="#d8a206" stroke-width="0.6"/><polygon points="1411.2,790.0 1394.6,789.4 1396.1,775.8" fill="#e0aa04" stroke="#e0aa04" stroke-width="0.6"/><polygon points="1394.6,789.4 1380.3,775.5 1396.1,775.8" fill="#ecb608" stroke="#ecb608" stroke-width="0.6"/><polygon points="1380.3,775.5 1381.9,762.1 1396.1,775.8" fill="#fccf24" stroke="#fccf24" stroke-width="0.6"/><circle cx="1388.3" cy="769.7" r="4.5" fill="url(#gHi)"/></g><g filter="url(#soft2)"><polygon points="1361.4,776.3 1376.7,774.7 1378.3,789.8" fill="#ffdc38" stroke="#ffdc38" stroke-width="0.6"/><polygon points="1376.7,774.7 1396.1,789.4 1378.3,789.8" fill="#f4c618" stroke="#f4c618" stroke-width="0.6"/><polygon points="1396.1,789.4 1395.3,802.6 1378.3,789.8" fill="#d8a206" stroke="#d8a206" stroke-width="0.6"/><polygon points="1395.3,802.6 1380.1,805.7 1378.3,789.8" fill="#e0aa04" stroke="#e0aa04" stroke-width="0.6"/><polygon points="1380.1,805.7 1359.9,790.0 1378.3,789.8" fill="#ecb608" stroke="#ecb608" stroke-width="0.6"/><polygon points="1359.9,790.0 1361.4,776.3 1378.3,789.8" fill="#fccf24" stroke="#fccf24" stroke-width="0.6"/><circle cx="1369.0" cy="783.7" r="4.5" fill="url(#gHi)"/></g>
<g transform="translate(2.5,8)" fill="#1a1a1a" stroke="#1a1a1a" stroke-width="5.6" stroke-linejoin="round" opacity="0.55" filter="url(#shadow2)"><polygon points="1430.9,773.2 1443.9,765.8 1462.2,772.5 1466.1,787.4 1453.5,793.4 1434.2,786.7"/><polygon points="1461.1,772.5 1473.0,766.0 1495.3,776.2 1500.5,790.9 1485.5,796.8 1466.1,787.4"/><polygon points="1449.8,795.8 1462.6,788.0 1486.9,796.1 1492.6,810.7 1480.7,820.0 1455.2,811.1"/></g><g transform="translate(-1.6,4.4)" fill="#1f3e69" stroke="#1f3e69" stroke-width="5.6" stroke-linejoin="miter"><polygon points="1430.9,773.2 1443.9,765.8 1462.2,772.5 1466.1,787.4 1453.5,793.4 1434.2,786.7"/><polygon points="1461.1,772.5 1473.0,766.0 1495.3,776.2 1500.5,790.9 1485.5,796.8 1466.1,787.4"/><polygon points="1449.8,795.8 1462.6,788.0 1486.9,796.1 1492.6,810.7 1480.7,820.0 1455.2,811.1"/></g><polygon points="1453.0,800.9 1429.7,792.4 1432.4,791.2 1452.0,798.1" fill="url(#gStrip)"/><polygon points="1480.8,827.2 1450.7,816.8 1453.3,815.6 1479.3,824.6" fill="url(#gStrip)"/><polygon points="1494.1,816.1 1480.8,827.2 1479.3,824.6 1491.3,815.2" fill="url(#gStrip)"/><g filter="url(#soft2)"><polygon points="1430.9,773.2 1443.9,765.8 1448.5,779.8" fill="#ffdc38" stroke="#ffdc38" stroke-width="0.6"/><polygon points="1443.9,765.8 1462.2,772.5 1448.5,779.8" fill="#f4c618" stroke="#f4c618" stroke-width="0.6"/><polygon points="1462.2,772.5 1466.1,787.4 1448.5,779.8" fill="#d8a206" stroke="#d8a206" stroke-width="0.6"/><polygon points="1466.1,787.4 1453.5,793.4 1448.5,779.8" fill="#e0aa04" stroke="#e0aa04" stroke-width="0.6"/><polygon points="1453.5,793.4 1434.2,786.7 1448.5,779.8" fill="#ecb608" stroke="#ecb608" stroke-width="0.6"/><polygon points="1434.2,786.7 1430.9,773.2 1448.5,779.8" fill="#fccf24" stroke="#fccf24" stroke-width="0.6"/><circle cx="1438.8" cy="776.8" r="4.5" fill="url(#gHi)"/></g><g filter="url(#soft2)"><polygon points="1461.1,772.5 1473.0,766.0 1480.3,781.6" fill="#ffdc38" stroke="#ffdc38" stroke-width="0.6"/><polygon points="1473.0,766.0 1495.3,776.2 1480.3,781.6" fill="#f4c618" stroke="#f4c618" stroke-width="0.6"/><polygon points="1495.3,776.2 1500.5,790.9 1480.3,781.6" fill="#d8a206" stroke="#d8a206" stroke-width="0.6"/><polygon points="1500.5,790.9 1485.5,796.8 1480.3,781.6" fill="#e0aa04" stroke="#e0aa04" stroke-width="0.6"/><polygon points="1485.5,796.8 1466.1,787.4 1480.3,781.6" fill="#ecb608" stroke="#ecb608" stroke-width="0.6"/><polygon points="1466.1,787.4 1461.1,772.5 1480.3,781.6" fill="#fccf24" stroke="#fccf24" stroke-width="0.6"/><circle cx="1469.7" cy="777.5" r="4.5" fill="url(#gHi)"/></g><g filter="url(#soft2)"><polygon points="1449.8,795.8 1462.6,788.0 1471.3,803.6" fill="#ffdc38" stroke="#ffdc38" stroke-width="0.6"/><polygon points="1462.6,788.0 1486.9,796.1 1471.3,803.6" fill="#f4c618" stroke="#f4c618" stroke-width="0.6"/><polygon points="1486.9,796.1 1492.6,810.7 1471.3,803.6" fill="#d8a206" stroke="#d8a206" stroke-width="0.6"/><polygon points="1492.6,810.7 1480.7,820.0 1471.3,803.6" fill="#e0aa04" stroke="#e0aa04" stroke-width="0.6"/><polygon points="1480.7,820.0 1455.2,811.1 1471.3,803.6" fill="#ecb608" stroke="#ecb608" stroke-width="0.6"/><polygon points="1455.2,811.1 1449.8,795.8 1471.3,803.6" fill="#fccf24" stroke="#fccf24" stroke-width="0.6"/><circle cx="1459.5" cy="800.1" r="4.5" fill="url(#gHi)"/></g>
<g transform="translate(2.5,8)" fill="#1a1a1a" stroke="#1a1a1a" stroke-width="5.6" stroke-linejoin="round" opacity="0.55" filter="url(#shadow2)"><polygon points="1517.7,756.7 1530.8,749.9 1547.4,757.7 1549.4,773.0 1536.8,778.5 1519.3,770.6"/><polygon points="1546.3,757.6 1558.4,751.6 1578.3,763.0 1581.7,778.3 1566.8,783.5 1549.4,773.0"/><polygon points="1533.0,780.7 1546.0,773.4 1568.2,782.9 1572.0,798.1 1559.7,806.9 1536.4,796.5"/></g><g transform="translate(-1.6,4.4)" fill="#1f3e69" stroke="#1f3e69" stroke-width="5.6" stroke-linejoin="miter"><polygon points="1517.7,756.7 1530.8,749.9 1547.4,757.7 1549.4,773.0 1536.8,778.5 1519.3,770.6"/><polygon points="1546.3,757.6 1558.4,751.6 1578.3,763.0 1581.7,778.3 1566.8,783.5 1549.4,773.0"/><polygon points="1533.0,780.7 1546.0,773.4 1568.2,782.9 1572.0,798.1 1559.7,806.9 1536.4,796.5"/></g><polygon points="1536.0,786.1 1514.7,776.3 1517.4,775.1 1535.3,783.2" fill="url(#gStrip)"/><polygon points="1559.3,814.3 1531.9,802.2 1534.6,801.0 1558.2,811.5" fill="url(#gStrip)"/><polygon points="1573.3,803.7 1559.3,814.3 1558.2,811.5 1570.6,802.6" fill="url(#gStrip)"/><g filter="url(#soft2)"><polygon points="1517.7,756.7 1530.8,749.9 1533.6,764.4" fill="#ffdc38" stroke="#ffdc38" stroke-width="0.6"/><polygon points="1530.8,749.9 1547.4,757.7 1533.6,764.4" fill="#f4c618" stroke="#f4c618" stroke-width="0.6"/><polygon points="1547.4,757.7 1549.4,773.0 1533.6,764.4" fill="#d8a206" stroke="#d8a206" stroke-width="0.6"/><polygon points="1549.4,773.0 1536.8,778.5 1533.6,764.4" fill="#e0aa04" stroke="#e0aa04" stroke-width="0.6"/><polygon points="1536.8,778.5 1519.3,770.6 1533.6,764.4" fill="#ecb608" stroke="#ecb608" stroke-width="0.6"/><polygon points="1519.3,770.6 1517.7,756.7 1533.6,764.4" fill="#fccf24" stroke="#fccf24" stroke-width="0.6"/><circle cx="1524.8" cy="761.0" r="4.5" fill="url(#gHi)"/></g><g filter="url(#soft2)"><polygon points="1546.3,757.6 1558.4,751.6 1563.5,767.8" fill="#ffdc38" stroke="#ffdc38" stroke-width="0.6"/><polygon points="1558.4,751.6 1578.3,763.0 1563.5,767.8" fill="#f4c618" stroke="#f4c618" stroke-width="0.6"/><polygon points="1578.3,763.0 1581.7,778.3 1563.5,767.8" fill="#d8a206" stroke="#d8a206" stroke-width="0.6"/><polygon points="1581.7,778.3 1566.8,783.5 1563.5,767.8" fill="#e0aa04" stroke="#e0aa04" stroke-width="0.6"/><polygon points="1566.8,783.5 1549.4,773.0 1563.5,767.8" fill="#ecb608" stroke="#ecb608" stroke-width="0.6"/><polygon points="1549.4,773.0 1546.3,757.6 1563.5,767.8" fill="#fccf24" stroke="#fccf24" stroke-width="0.6"/><circle cx="1554.1" cy="763.2" r="4.5" fill="url(#gHi)"/></g><g filter="url(#soft2)"><polygon points="1533.0,780.7 1546.0,773.4 1552.5,789.8" fill="#ffdc38" stroke="#ffdc38" stroke-width="0.6"/><polygon points="1546.0,773.4 1568.2,782.9 1552.5,789.8" fill="#f4c618" stroke="#f4c618" stroke-width="0.6"/><polygon points="1568.2,782.9 1572.0,798.1 1552.5,789.8" fill="#d8a206" stroke="#d8a206" stroke-width="0.6"/><polygon points="1572.0,798.1 1559.7,806.9 1552.5,789.8" fill="#e0aa04" stroke="#e0aa04" stroke-width="0.6"/><polygon points="1559.7,806.9 1536.4,796.5 1552.5,789.8" fill="#ecb608" stroke="#ecb608" stroke-width="0.6"/><polygon points="1536.4,796.5 1533.0,780.7 1552.5,789.8" fill="#fccf24" stroke="#fccf24" stroke-width="0.6"/><circle cx="1541.8" cy="785.7" r="4.5" fill="url(#gHi)"/></g>
<g transform="translate(3,8)" fill="#1a1a1a" stroke="#1a1a1a" stroke-width="6.4" stroke-linejoin="round" opacity="0.55" filter="url(#shadow2)"><polygon points="1612.8,672.5 1632.6,662.5 1644.8,670.4 1644.5,680.8 1627.2,688.1 1612.5,681.7"/><polygon points="1598.5,689.0 1615.6,681.7 1627.8,688.1 1625.6,702.7 1611.0,709.1 1598.2,701.8"/><polygon points="1626.2,688.7 1643.0,680.8 1655.8,689.0 1655.2,702.1 1635.7,711.6 1623.5,702.7"/></g><g transform="translate(1.6,5.2)" fill="#1f3e69" stroke="#1f3e69" stroke-width="6.4" stroke-linejoin="miter"><polygon points="1612.8,672.5 1632.6,662.5 1644.8,670.4 1644.5,680.8 1627.2,688.1 1612.5,681.7"/><polygon points="1598.5,689.0 1615.6,681.7 1627.8,688.1 1625.6,702.7 1611.0,709.1 1598.2,701.8"/><polygon points="1626.2,688.7 1643.0,680.8 1655.8,689.0 1655.2,702.1 1635.7,711.6 1623.5,702.7"/></g><polygon points="1630.4,709.8 1612.1,718.0 1612.5,714.7 1627.5,708.1" fill="url(#gStrip)"/><polygon points="1660.2,708.7 1636.3,720.3 1637.2,717.1 1657.1,707.5" fill="url(#gStrip)"/><g filter="url(#soft2)"><polygon points="1612.8,672.5 1632.6,662.5 1629.1,676.0" fill="#ffe040" stroke="#ffe040" stroke-width="0.6"/><polygon points="1632.6,662.5 1644.8,670.4 1629.1,676.0" fill="#f8cc1c" stroke="#f8cc1c" stroke-width="0.6"/><polygon points="1644.8,670.4 1644.5,680.8 1629.1,676.0" fill="#d29a02" stroke="#d29a02" stroke-width="0.6"/><polygon points="1644.5,680.8 1627.2,688.1 1629.1,676.0" fill="#dfa803" stroke="#dfa803" stroke-width="0.6"/><polygon points="1627.2,688.1 1612.5,681.7 1629.1,676.0" fill="#eeb808" stroke="#eeb808" stroke-width="0.6"/><polygon points="1612.5,681.7 1612.8,672.5 1629.1,676.0" fill="#ffd52a" stroke="#ffd52a" stroke-width="0.6"/><circle cx="1620.1" cy="674.4" r="5" fill="url(#gHi)"/></g><g filter="url(#soft2)"><polygon points="1598.5,689.0 1615.6,681.7 1612.8,695.4" fill="#ffe040" stroke="#ffe040" stroke-width="0.6"/><polygon points="1615.6,681.7 1627.8,688.1 1612.8,695.4" fill="#f8cc1c" stroke="#f8cc1c" stroke-width="0.6"/><polygon points="1627.8,688.1 1625.6,702.7 1612.8,695.4" fill="#d29a02" stroke="#d29a02" stroke-width="0.6"/><polygon points="1625.6,702.7 1611.0,709.1 1612.8,695.4" fill="#dfa803" stroke="#dfa803" stroke-width="0.6"/><polygon points="1611.0,709.1 1598.2,701.8 1612.8,695.4" fill="#eeb808" stroke="#eeb808" stroke-width="0.6"/><polygon points="1598.2,701.8 1598.5,689.0 1612.8,695.4" fill="#ffd52a" stroke="#ffd52a" stroke-width="0.6"/><circle cx="1604.9" cy="692.5" r="5" fill="url(#gHi)"/></g><g filter="url(#soft2)"><polygon points="1626.2,688.7 1643.0,680.8 1639.9,695.8" fill="#ffe040" stroke="#ffe040" stroke-width="0.6"/><polygon points="1643.0,680.8 1655.8,689.0 1639.9,695.8" fill="#f8cc1c" stroke="#f8cc1c" stroke-width="0.6"/><polygon points="1655.8,689.0 1655.2,702.1 1639.9,695.8" fill="#d29a02" stroke="#d29a02" stroke-width="0.6"/><polygon points="1655.2,702.1 1635.7,711.6 1639.9,695.8" fill="#dfa803" stroke="#dfa803" stroke-width="0.6"/><polygon points="1635.7,711.6 1623.5,702.7 1639.9,695.8" fill="#eeb808" stroke="#eeb808" stroke-width="0.6"/><polygon points="1623.5,702.7 1626.2,688.7 1639.9,695.8" fill="#ffd52a" stroke="#ffd52a" stroke-width="0.6"/><circle cx="1632.4" cy="692.6" r="5" fill="url(#gHi)"/></g>
<g transform="translate(3,8)" fill="#1a1a1a" stroke="#1a1a1a" stroke-width="6.4" stroke-linejoin="round" opacity="0.55" filter="url(#shadow2)"><polygon points="1636.2,767.6 1656.0,757.5 1668.2,765.5 1667.9,775.9 1650.5,783.2 1635.8,776.8"/><polygon points="1621.8,784.1 1638.9,776.8 1651.1,783.2 1649.0,797.8 1634.3,804.2 1621.5,796.9"/><polygon points="1649.6,783.8 1666.4,775.9 1679.2,784.1 1678.6,797.2 1659.0,806.7 1646.8,797.8"/></g><g transform="translate(1.6,5.2)" fill="#1f3e69" stroke="#1f3e69" stroke-width="6.4" stroke-linejoin="miter"><polygon points="1636.2,767.6 1656.0,757.5 1668.2,765.5 1667.9,775.9 1650.5,783.2 1635.8,776.8"/><polygon points="1621.8,784.1 1638.9,776.8 1651.1,783.2 1649.0,797.8 1634.3,804.2 1621.5,796.9"/><polygon points="1649.6,783.8 1666.4,775.9 1679.2,784.1 1678.6,797.2 1659.0,806.7 1646.8,797.8"/></g><polygon points="1653.8,804.8 1635.5,813.1 1635.9,809.8 1650.8,803.2" fill="url(#gStrip)"/><polygon points="1683.6,803.8 1659.7,815.4 1660.6,812.2 1680.5,802.5" fill="url(#gStrip)"/><g filter="url(#soft2)"><polygon points="1636.2,767.6 1656.0,757.5 1652.4,771.1" fill="#ffe040" stroke="#ffe040" stroke-width="0.6"/><polygon points="1656.0,757.5 1668.2,765.5 1652.4,771.1" fill="#f8cc1c" stroke="#f8cc1c" stroke-width="0.6"/><polygon points="1668.2,765.5 1667.9,775.9 1652.4,771.1" fill="#d29a02" stroke="#d29a02" stroke-width="0.6"/><polygon points="1667.9,775.9 1650.5,783.2 1652.4,771.1" fill="#dfa803" stroke="#dfa803" stroke-width="0.6"/><polygon points="1650.5,783.2 1635.8,776.8 1652.4,771.1" fill="#eeb808" stroke="#eeb808" stroke-width="0.6"/><polygon points="1635.8,776.8 1636.2,767.6 1652.4,771.1" fill="#ffd52a" stroke="#ffd52a" stroke-width="0.6"/><circle cx="1643.5" cy="769.5" r="5" fill="url(#gHi)"/></g><g filter="url(#soft2)"><polygon points="1621.8,784.1 1638.9,776.8 1636.1,790.5" fill="#ffe040" stroke="#ffe040" stroke-width="0.6"/><polygon points="1638.9,776.8 1651.1,783.2 1636.1,790.5" fill="#f8cc1c" stroke="#f8cc1c" stroke-width="0.6"/><polygon points="1651.1,783.2 1649.0,797.8 1636.1,790.5" fill="#d29a02" stroke="#d29a02" stroke-width="0.6"/><polygon points="1649.0,797.8 1634.3,804.2 1636.1,790.5" fill="#dfa803" stroke="#dfa803" stroke-width="0.6"/><polygon points="1634.3,804.2 1621.5,796.9 1636.1,790.5" fill="#eeb808" stroke="#eeb808" stroke-width="0.6"/><polygon points="1621.5,796.9 1621.8,784.1 1636.1,790.5" fill="#ffd52a" stroke="#ffd52a" stroke-width="0.6"/><circle cx="1628.2" cy="787.6" r="5" fill="url(#gHi)"/></g><g filter="url(#soft2)"><polygon points="1649.6,783.8 1666.4,775.9 1663.3,790.9" fill="#ffe040" stroke="#ffe040" stroke-width="0.6"/><polygon points="1666.4,775.9 1679.2,784.1 1663.3,790.9" fill="#f8cc1c" stroke="#f8cc1c" stroke-width="0.6"/><polygon points="1679.2,784.1 1678.6,797.2 1663.3,790.9" fill="#d29a02" stroke="#d29a02" stroke-width="0.6"/><polygon points="1678.6,797.2 1659.0,806.7 1663.3,790.9" fill="#dfa803" stroke="#dfa803" stroke-width="0.6"/><polygon points="1659.0,806.7 1646.8,797.8 1663.3,790.9" fill="#eeb808" stroke="#eeb808" stroke-width="0.6"/><polygon points="1646.8,797.8 1649.6,783.8 1663.3,790.9" fill="#ffd52a" stroke="#ffd52a" stroke-width="0.6"/><circle cx="1655.7" cy="787.7" r="5" fill="url(#gHi)"/></g>
<path d="M1341.3 214.5V519.8H234.0V214.5H1341.3" fill="none" stroke="#000" stroke-width="6.8" stroke-dasharray="20.37 6.8" stroke-linejoin="miter"/><path d="M1341.3 519.8L1518.7 663.7" fill="none" stroke="#000" stroke-width="6.8" stroke-dasharray="20.37 6.8"/>
<text x="261.4" y="507.8" font-family="Liberation Serif, serif" font-weight="bold" font-size="47" textLength="324" lengthAdjust="spacingAndGlyphs" fill="#000">Trimesaldehyde</text><text x="613.8" y="508.4" font-family="Liberation Serif, serif" font-weight="bold" font-size="47" textLength="202.5" lengthAdjust="spacingAndGlyphs" fill="#333">Benzidine</text><text x="912.5" y="508.2" font-family="Liberation Serif, serif" font-weight="bold" font-size="47" textLength="115" lengthAdjust="spacingAndGlyphs" fill="#000">TbBd</text><text x="178.6" y="928.6" font-family="Liberation Serif, serif" font-weight="bold" font-size="47" textLength="75.5" lengthAdjust="spacingAndGlyphs" fill="#000">GO</text><text x="670.6" y="928.4" font-family="Liberation Serif, serif" font-weight="bold" font-size="47" textLength="129.8" lengthAdjust="spacingAndGlyphs" fill="#000">3DGA</text><text x="1422.6" y="928.4" font-family="Liberation Serif, serif" font-weight="bold" font-size="47" textLength="298.8" lengthAdjust="spacingAndGlyphs" fill="#000">3DGA@COFs</text><text x="422.2" y="763.2" font-family="Liberation Serif, serif" font-weight="bold" font-style="italic" font-size="47" textLength="49.5" lengthAdjust="spacingAndGlyphs" fill="#000">Vc</text><text x="949" y="764.6" font-family="Liberation Serif, serif" font-weight="bold" font-style="italic" font-size="47" textLength="319.5" lengthAdjust="spacingAndGlyphs" fill="#000">In situ synthesis</text>
</svg>
</body></html>
